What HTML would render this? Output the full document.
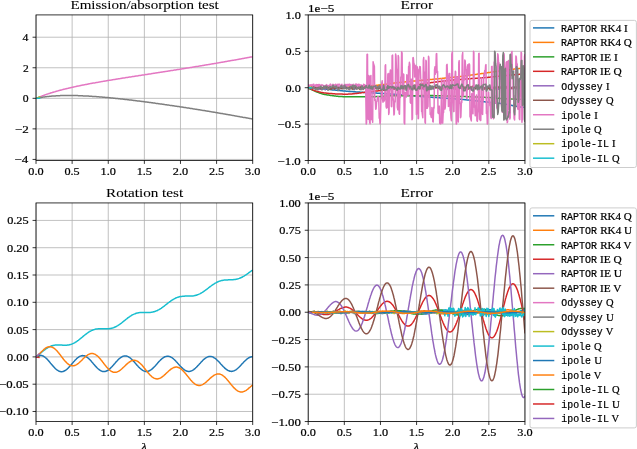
<!DOCTYPE html>
<html><head><meta charset="utf-8"><title>Figure</title>
<style>html,body{margin:0;padding:0;background:#fff;overflow:hidden;width:637px;height:449px}svg{display:block;will-change:transform}text{fill:#000;stroke:#000;stroke-width:0.22px}.ti{stroke-width:0.08px}</style>
</head><body><svg width="637" height="449" viewBox="0 0 637 449"><defs><clipPath id="cTL"><rect x="36.02" y="14.92" width="216.68" height="145.53"/></clipPath><clipPath id="cTR"><rect x="308.2" y="14.92" width="216.75" height="145.58"/></clipPath><clipPath id="cBL"><rect x="36.02" y="202.94" width="216.68" height="218.60"/></clipPath><clipPath id="cBR"><rect x="308.2" y="202.94" width="216.75" height="218.60"/></clipPath></defs><rect width="637" height="449" fill="#fff"/>
<line x1="36.02" y1="14.92" x2="36.02" y2="160.45" stroke="#b0b0b0" stroke-width="0.79"/>
<line x1="72.13" y1="14.92" x2="72.13" y2="160.45" stroke="#b0b0b0" stroke-width="0.79"/>
<line x1="108.25" y1="14.92" x2="108.25" y2="160.45" stroke="#b0b0b0" stroke-width="0.79"/>
<line x1="144.36" y1="14.92" x2="144.36" y2="160.45" stroke="#b0b0b0" stroke-width="0.79"/>
<line x1="180.47" y1="14.92" x2="180.47" y2="160.45" stroke="#b0b0b0" stroke-width="0.79"/>
<line x1="216.59" y1="14.92" x2="216.59" y2="160.45" stroke="#b0b0b0" stroke-width="0.79"/>
<line x1="252.70" y1="14.92" x2="252.70" y2="160.45" stroke="#b0b0b0" stroke-width="0.79"/>
<line x1="36.02" y1="159.43" x2="252.70" y2="159.43" stroke="#b0b0b0" stroke-width="0.79"/>
<line x1="36.02" y1="128.87" x2="252.70" y2="128.87" stroke="#b0b0b0" stroke-width="0.79"/>
<line x1="36.02" y1="98.32" x2="252.70" y2="98.32" stroke="#b0b0b0" stroke-width="0.79"/>
<line x1="36.02" y1="67.76" x2="252.70" y2="67.76" stroke="#b0b0b0" stroke-width="0.79"/>
<line x1="36.02" y1="37.21" x2="252.70" y2="37.21" stroke="#b0b0b0" stroke-width="0.79"/>
<polyline points="36.0,98.3 36.6,98.1 37.1,97.9 37.6,97.6 38.2,97.4 38.7,97.2 39.3,97.0 39.8,96.8 40.4,96.6 40.9,96.4 41.4,96.2 42.0,96.0 42.5,95.8 43.1,95.6 43.6,95.4 44.1,95.2 44.7,95.0 45.2,94.8 45.8,94.6 46.3,94.4 46.9,94.2 47.4,94.1 47.9,93.9 48.5,93.7 49.0,93.5 49.6,93.4 50.1,93.2 50.6,93.0 51.2,92.8 51.7,92.7 52.3,92.5 52.8,92.3 53.4,92.2 53.9,92.0 54.4,91.9 55.0,91.7 55.5,91.5 56.1,91.4 56.6,91.2 57.1,91.1 57.7,90.9 58.2,90.8 58.8,90.6 59.3,90.5 59.9,90.3 60.4,90.2 60.9,90.0 61.5,89.9 62.0,89.8 62.6,89.6 63.1,89.5 63.6,89.3 64.2,89.2 64.7,89.1 65.3,88.9 65.8,88.8 66.4,88.7 66.9,88.5 67.4,88.4 68.0,88.3 68.5,88.2 69.1,88.0 69.6,87.9 70.1,87.8 70.7,87.7 71.2,87.5 71.8,87.4 72.3,87.3 72.9,87.2 73.4,87.0 73.9,86.9 74.5,86.8 75.0,86.7 75.6,86.6 76.1,86.5 76.6,86.3 77.2,86.2 77.7,86.1 78.3,86.0 78.8,85.9 79.4,85.8 79.9,85.7 80.4,85.5 81.0,85.4 81.5,85.3 82.1,85.2 82.6,85.1 83.1,85.0 83.7,84.9 84.2,84.8 84.8,84.7 85.3,84.6 85.9,84.5 86.4,84.4 86.9,84.3 87.5,84.2 88.0,84.1 88.6,84.0 89.1,83.8 89.6,83.7 90.2,83.6 90.7,83.5 91.3,83.4 91.8,83.3 92.4,83.2 92.9,83.1 93.4,83.0 94.0,83.0 94.5,82.9 95.1,82.8 95.6,82.7 96.1,82.6 96.7,82.5 97.2,82.4 97.8,82.3 98.3,82.2 98.9,82.1 99.4,82.0 99.9,81.9 100.5,81.8 101.0,81.7 101.6,81.6 102.1,81.5 102.6,81.4 103.2,81.3 103.7,81.2 104.3,81.2 104.8,81.1 105.4,81.0 105.9,80.9 106.4,80.8 107.0,80.7 107.5,80.6 108.1,80.5 108.6,80.4 109.1,80.3 109.7,80.2 110.2,80.2 110.8,80.1 111.3,80.0 111.9,79.9 112.4,79.8 112.9,79.7 113.5,79.6 114.0,79.5 114.6,79.4 115.1,79.4 115.6,79.3 116.2,79.2 116.7,79.1 117.3,79.0 117.8,78.9 118.4,78.8 118.9,78.8 119.4,78.7 120.0,78.6 120.5,78.5 121.1,78.4 121.6,78.3 122.2,78.2 122.7,78.1 123.2,78.1 123.8,78.0 124.3,77.9 124.9,77.8 125.4,77.7 125.9,77.6 126.5,77.6 127.0,77.5 127.6,77.4 128.1,77.3 128.7,77.2 129.2,77.1 129.7,77.0 130.3,77.0 130.8,76.9 131.4,76.8 131.9,76.7 132.4,76.6 133.0,76.5 133.5,76.5 134.1,76.4 134.6,76.3 135.2,76.2 135.7,76.1 136.2,76.0 136.8,75.9 137.3,75.9 137.9,75.8 138.4,75.7 138.9,75.6 139.5,75.5 140.0,75.4 140.6,75.4 141.1,75.3 141.7,75.2 142.2,75.1 142.7,75.0 143.3,74.9 143.8,74.9 144.4,74.8 144.9,74.7 145.4,74.6 146.0,74.5 146.5,74.4 147.1,74.4 147.6,74.3 148.2,74.2 148.7,74.1 149.2,74.0 149.8,73.9 150.3,73.9 150.9,73.8 151.4,73.7 151.9,73.6 152.5,73.5 153.0,73.4 153.6,73.3 154.1,73.3 154.7,73.2 155.2,73.1 155.7,73.0 156.3,72.9 156.8,72.8 157.4,72.8 157.9,72.7 158.4,72.6 159.0,72.5 159.5,72.4 160.1,72.3 160.6,72.3 161.2,72.2 161.7,72.1 162.2,72.0 162.8,71.9 163.3,71.8 163.9,71.7 164.4,71.7 164.9,71.6 165.5,71.5 166.0,71.4 166.6,71.3 167.1,71.2 167.7,71.2 168.2,71.1 168.7,71.0 169.3,70.9 169.8,70.8 170.4,70.7 170.9,70.6 171.4,70.6 172.0,70.5 172.5,70.4 173.1,70.3 173.6,70.2 174.2,70.1 174.7,70.0 175.2,70.0 175.8,69.9 176.3,69.8 176.9,69.7 177.4,69.6 177.9,69.5 178.5,69.4 179.0,69.4 179.6,69.3 180.1,69.2 180.7,69.1 181.2,69.0 181.7,68.9 182.3,68.8 182.8,68.8 183.4,68.7 183.9,68.6 184.4,68.5 185.0,68.4 185.5,68.3 186.1,68.2 186.6,68.1 187.2,68.1 187.7,68.0 188.2,67.9 188.8,67.8 189.3,67.7 189.9,67.6 190.4,67.5 190.9,67.4 191.5,67.4 192.0,67.3 192.6,67.2 193.1,67.1 193.7,67.0 194.2,66.9 194.7,66.8 195.3,66.7 195.8,66.6 196.4,66.6 196.9,66.5 197.4,66.4 198.0,66.3 198.5,66.2 199.1,66.1 199.6,66.0 200.2,65.9 200.7,65.8 201.2,65.7 201.8,65.7 202.3,65.6 202.9,65.5 203.4,65.4 203.9,65.3 204.5,65.2 205.0,65.1 205.6,65.0 206.1,64.9 206.7,64.8 207.2,64.8 207.7,64.7 208.3,64.6 208.8,64.5 209.4,64.4 209.9,64.3 210.4,64.2 211.0,64.1 211.5,64.0 212.1,63.9 212.6,63.8 213.2,63.7 213.7,63.7 214.2,63.6 214.8,63.5 215.3,63.4 215.9,63.3 216.4,63.2 216.9,63.1 217.5,63.0 218.0,62.9 218.6,62.8 219.1,62.7 219.7,62.6 220.2,62.5 220.7,62.4 221.3,62.3 221.8,62.3 222.4,62.2 222.9,62.1 223.4,62.0 224.0,61.9 224.5,61.8 225.1,61.7 225.6,61.6 226.2,61.5 226.7,61.4 227.2,61.3 227.8,61.2 228.3,61.1 228.9,61.0 229.4,60.9 229.9,60.8 230.5,60.7 231.0,60.6 231.6,60.5 232.1,60.4 232.7,60.3 233.2,60.3 233.7,60.2 234.3,60.1 234.8,60.0 235.4,59.9 235.9,59.8 236.4,59.7 237.0,59.6 237.5,59.5 238.1,59.4 238.6,59.3 239.2,59.2 239.7,59.1 240.2,59.0 240.8,58.9 241.3,58.8 241.9,58.7 242.4,58.6 242.9,58.5 243.5,58.4 244.0,58.3 244.6,58.2 245.1,58.1 245.7,58.0 246.2,57.9 246.7,57.8 247.3,57.7 247.8,57.6 248.4,57.5 248.9,57.4 249.4,57.3 250.0,57.2 250.5,57.1 251.1,57.0 251.6,56.9 252.2,56.8 252.7,56.7" fill="none" stroke="#e377c2" stroke-width="1.48" stroke-linejoin="round" clip-path="url(#cTL)"/>
<polyline points="36.0,98.3 36.6,98.2 37.1,98.1 37.6,98.0 38.2,97.9 38.7,97.8 39.3,97.7 39.8,97.6 40.4,97.5 40.9,97.4 41.4,97.4 42.0,97.3 42.5,97.2 43.1,97.1 43.6,97.0 44.1,97.0 44.7,96.9 45.2,96.8 45.8,96.8 46.3,96.7 46.9,96.6 47.4,96.6 47.9,96.5 48.5,96.4 49.0,96.4 49.6,96.3 50.1,96.3 50.6,96.2 51.2,96.2 51.7,96.1 52.3,96.1 52.8,96.1 53.4,96.0 53.9,96.0 54.4,95.9 55.0,95.9 55.5,95.9 56.1,95.8 56.6,95.8 57.1,95.8 57.7,95.8 58.2,95.7 58.8,95.7 59.3,95.7 59.9,95.7 60.4,95.6 60.9,95.6 61.5,95.6 62.0,95.6 62.6,95.6 63.1,95.6 63.6,95.6 64.2,95.5 64.7,95.5 65.3,95.5 65.8,95.5 66.4,95.5 66.9,95.5 67.4,95.5 68.0,95.5 68.5,95.5 69.1,95.5 69.6,95.5 70.1,95.5 70.7,95.5 71.2,95.5 71.8,95.5 72.3,95.5 72.9,95.5 73.4,95.5 73.9,95.6 74.5,95.6 75.0,95.6 75.6,95.6 76.1,95.6 76.6,95.6 77.2,95.6 77.7,95.6 78.3,95.7 78.8,95.7 79.4,95.7 79.9,95.7 80.4,95.7 81.0,95.8 81.5,95.8 82.1,95.8 82.6,95.8 83.1,95.9 83.7,95.9 84.2,95.9 84.8,95.9 85.3,96.0 85.9,96.0 86.4,96.0 86.9,96.0 87.5,96.1 88.0,96.1 88.6,96.1 89.1,96.2 89.6,96.2 90.2,96.2 90.7,96.3 91.3,96.3 91.8,96.3 92.4,96.4 92.9,96.4 93.4,96.4 94.0,96.5 94.5,96.5 95.1,96.6 95.6,96.6 96.1,96.6 96.7,96.7 97.2,96.7 97.8,96.8 98.3,96.8 98.9,96.8 99.4,96.9 99.9,96.9 100.5,97.0 101.0,97.0 101.6,97.1 102.1,97.1 102.6,97.2 103.2,97.2 103.7,97.3 104.3,97.3 104.8,97.3 105.4,97.4 105.9,97.4 106.4,97.5 107.0,97.5 107.5,97.6 108.1,97.6 108.6,97.7 109.1,97.7 109.7,97.8 110.2,97.8 110.8,97.9 111.3,98.0 111.9,98.0 112.4,98.1 112.9,98.1 113.5,98.2 114.0,98.2 114.6,98.3 115.1,98.3 115.6,98.4 116.2,98.4 116.7,98.5 117.3,98.6 117.8,98.6 118.4,98.7 118.9,98.7 119.4,98.8 120.0,98.8 120.5,98.9 121.1,99.0 121.6,99.0 122.2,99.1 122.7,99.1 123.2,99.2 123.8,99.3 124.3,99.3 124.9,99.4 125.4,99.4 125.9,99.5 126.5,99.6 127.0,99.6 127.6,99.7 128.1,99.8 128.7,99.8 129.2,99.9 129.7,100.0 130.3,100.0 130.8,100.1 131.4,100.1 131.9,100.2 132.4,100.3 133.0,100.3 133.5,100.4 134.1,100.5 134.6,100.5 135.2,100.6 135.7,100.7 136.2,100.7 136.8,100.8 137.3,100.9 137.9,100.9 138.4,101.0 138.9,101.1 139.5,101.1 140.0,101.2 140.6,101.3 141.1,101.3 141.7,101.4 142.2,101.5 142.7,101.6 143.3,101.6 143.8,101.7 144.4,101.8 144.9,101.8 145.4,101.9 146.0,102.0 146.5,102.0 147.1,102.1 147.6,102.2 148.2,102.3 148.7,102.3 149.2,102.4 149.8,102.5 150.3,102.6 150.9,102.6 151.4,102.7 151.9,102.8 152.5,102.8 153.0,102.9 153.6,103.0 154.1,103.1 154.7,103.1 155.2,103.2 155.7,103.3 156.3,103.4 156.8,103.4 157.4,103.5 157.9,103.6 158.4,103.7 159.0,103.7 159.5,103.8 160.1,103.9 160.6,104.0 161.2,104.0 161.7,104.1 162.2,104.2 162.8,104.3 163.3,104.3 163.9,104.4 164.4,104.5 164.9,104.6 165.5,104.7 166.0,104.7 166.6,104.8 167.1,104.9 167.7,105.0 168.2,105.0 168.7,105.1 169.3,105.2 169.8,105.3 170.4,105.4 170.9,105.4 171.4,105.5 172.0,105.6 172.5,105.7 173.1,105.8 173.6,105.8 174.2,105.9 174.7,106.0 175.2,106.1 175.8,106.2 176.3,106.2 176.9,106.3 177.4,106.4 177.9,106.5 178.5,106.6 179.0,106.6 179.6,106.7 180.1,106.8 180.7,106.9 181.2,107.0 181.7,107.1 182.3,107.1 182.8,107.2 183.4,107.3 183.9,107.4 184.4,107.5 185.0,107.6 185.5,107.6 186.1,107.7 186.6,107.8 187.2,107.9 187.7,108.0 188.2,108.1 188.8,108.1 189.3,108.2 189.9,108.3 190.4,108.4 190.9,108.5 191.5,108.6 192.0,108.6 192.6,108.7 193.1,108.8 193.7,108.9 194.2,109.0 194.7,109.1 195.3,109.2 195.8,109.2 196.4,109.3 196.9,109.4 197.4,109.5 198.0,109.6 198.5,109.7 199.1,109.8 199.6,109.8 200.2,109.9 200.7,110.0 201.2,110.1 201.8,110.2 202.3,110.3 202.9,110.4 203.4,110.5 203.9,110.6 204.5,110.6 205.0,110.7 205.6,110.8 206.1,110.9 206.7,111.0 207.2,111.1 207.7,111.2 208.3,111.3 208.8,111.3 209.4,111.4 209.9,111.5 210.4,111.6 211.0,111.7 211.5,111.8 212.1,111.9 212.6,112.0 213.2,112.1 213.7,112.2 214.2,112.3 214.8,112.3 215.3,112.4 215.9,112.5 216.4,112.6 216.9,112.7 217.5,112.8 218.0,112.9 218.6,113.0 219.1,113.1 219.7,113.2 220.2,113.3 220.7,113.4 221.3,113.4 221.8,113.5 222.4,113.6 222.9,113.7 223.4,113.8 224.0,113.9 224.5,114.0 225.1,114.1 225.6,114.2 226.2,114.3 226.7,114.4 227.2,114.5 227.8,114.6 228.3,114.7 228.9,114.8 229.4,114.8 229.9,114.9 230.5,115.0 231.0,115.1 231.6,115.2 232.1,115.3 232.7,115.4 233.2,115.5 233.7,115.6 234.3,115.7 234.8,115.8 235.4,115.9 235.9,116.0 236.4,116.1 237.0,116.2 237.5,116.3 238.1,116.4 238.6,116.5 239.2,116.6 239.7,116.7 240.2,116.8 240.8,116.9 241.3,117.0 241.9,117.1 242.4,117.2 242.9,117.3 243.5,117.4 244.0,117.5 244.6,117.6 245.1,117.6 245.7,117.7 246.2,117.8 246.7,117.9 247.3,118.0 247.8,118.1 248.4,118.2 248.9,118.3 249.4,118.4 250.0,118.5 250.5,118.6 251.1,118.7 251.6,118.8 252.2,118.9 252.7,119.0" fill="none" stroke="#7f7f7f" stroke-width="1.48" stroke-linejoin="round" clip-path="url(#cTL)"/>
<polyline points="36.0,98.3 36.6,98.1 37.1,97.9 37.6,97.6 38.2,97.4 38.7,97.2 39.3,97.0 39.8,96.8 40.4,96.6" fill="none" stroke="#bcbd22" stroke-width="1.48" stroke-linejoin="round" clip-path="url(#cTL)"/>
<polyline points="36.0,98.3 36.6,98.3 37.1,98.3 37.6,98.3 38.2,98.2 38.7,98.2 39.3,98.2 39.8,98.2 40.4,98.2" fill="none" stroke="#17becf" stroke-width="1.48" stroke-linejoin="round" clip-path="url(#cTL)"/>
<rect x="36.02" y="14.92" width="216.68" height="145.53" fill="none" stroke="#000" stroke-width="0.79"/>
<line x1="36.02" y1="160.45" x2="36.02" y2="163.90" stroke="#000" stroke-width="0.79"/>
<text x="28.37" y="174.96" font-family="Liberation Serif" font-size="11.33" textLength="15.30" lengthAdjust="spacingAndGlyphs">0.0</text>
<line x1="72.13" y1="160.45" x2="72.13" y2="163.90" stroke="#000" stroke-width="0.79"/>
<text x="64.48" y="174.96" font-family="Liberation Serif" font-size="11.33" textLength="15.23" lengthAdjust="spacingAndGlyphs">0.5</text>
<line x1="108.25" y1="160.45" x2="108.25" y2="163.90" stroke="#000" stroke-width="0.79"/>
<text x="100.55" y="174.96" font-family="Liberation Serif" font-size="11.33" textLength="15.35" lengthAdjust="spacingAndGlyphs">1.0</text>
<line x1="144.36" y1="160.45" x2="144.36" y2="163.90" stroke="#000" stroke-width="0.79"/>
<text x="136.66" y="174.96" font-family="Liberation Serif" font-size="11.33" textLength="15.27" lengthAdjust="spacingAndGlyphs">1.5</text>
<line x1="180.47" y1="160.45" x2="180.47" y2="163.90" stroke="#000" stroke-width="0.79"/>
<text x="172.78" y="174.96" font-family="Liberation Serif" font-size="11.33" textLength="15.34" lengthAdjust="spacingAndGlyphs">2.0</text>
<line x1="216.59" y1="160.45" x2="216.59" y2="163.90" stroke="#000" stroke-width="0.79"/>
<text x="208.90" y="174.96" font-family="Liberation Serif" font-size="11.33" textLength="15.27" lengthAdjust="spacingAndGlyphs">2.5</text>
<line x1="252.70" y1="160.45" x2="252.70" y2="163.90" stroke="#000" stroke-width="0.79"/>
<text x="245.02" y="174.96" font-family="Liberation Serif" font-size="11.33" textLength="15.32" lengthAdjust="spacingAndGlyphs">3.0</text>
<line x1="32.57" y1="159.43" x2="36.02" y2="159.43" stroke="#000" stroke-width="0.79"/>
<text x="14.54" y="163.43" font-family="Liberation Serif" font-size="11.33" textLength="13.81" lengthAdjust="spacingAndGlyphs">−4</text>
<line x1="32.57" y1="128.87" x2="36.02" y2="128.87" stroke="#000" stroke-width="0.79"/>
<text x="15.01" y="132.87" font-family="Liberation Serif" font-size="11.33" textLength="13.86" lengthAdjust="spacingAndGlyphs">−2</text>
<line x1="32.57" y1="98.32" x2="36.02" y2="98.32" stroke="#000" stroke-width="0.79"/>
<text x="22.76" y="102.32" font-family="Liberation Serif" font-size="11.33" textLength="5.85" lengthAdjust="spacingAndGlyphs">0</text>
<line x1="32.57" y1="67.76" x2="36.02" y2="67.76" stroke="#000" stroke-width="0.79"/>
<text x="23.05" y="71.76" font-family="Liberation Serif" font-size="11.33" textLength="5.75" lengthAdjust="spacingAndGlyphs">2</text>
<line x1="32.57" y1="37.21" x2="36.02" y2="37.21" stroke="#000" stroke-width="0.79"/>
<text x="22.47" y="41.21" font-family="Liberation Serif" font-size="11.33" textLength="5.88" lengthAdjust="spacingAndGlyphs">4</text>
<line x1="308.20" y1="14.92" x2="308.20" y2="160.50" stroke="#b0b0b0" stroke-width="0.79"/>
<line x1="344.32" y1="14.92" x2="344.32" y2="160.50" stroke="#b0b0b0" stroke-width="0.79"/>
<line x1="380.45" y1="14.92" x2="380.45" y2="160.50" stroke="#b0b0b0" stroke-width="0.79"/>
<line x1="416.58" y1="14.92" x2="416.58" y2="160.50" stroke="#b0b0b0" stroke-width="0.79"/>
<line x1="452.70" y1="14.92" x2="452.70" y2="160.50" stroke="#b0b0b0" stroke-width="0.79"/>
<line x1="488.83" y1="14.92" x2="488.83" y2="160.50" stroke="#b0b0b0" stroke-width="0.79"/>
<line x1="524.95" y1="14.92" x2="524.95" y2="160.50" stroke="#b0b0b0" stroke-width="0.79"/>
<line x1="308.20" y1="160.50" x2="524.95" y2="160.50" stroke="#b0b0b0" stroke-width="0.79"/>
<line x1="308.20" y1="124.10" x2="524.95" y2="124.10" stroke="#b0b0b0" stroke-width="0.79"/>
<line x1="308.20" y1="87.71" x2="524.95" y2="87.71" stroke="#b0b0b0" stroke-width="0.79"/>
<line x1="308.20" y1="51.31" x2="524.95" y2="51.31" stroke="#b0b0b0" stroke-width="0.79"/>
<line x1="308.20" y1="14.92" x2="524.95" y2="14.92" stroke="#b0b0b0" stroke-width="0.79"/>
<polyline points="308.2,87.7 308.7,87.8 309.3,87.8 309.8,87.8 310.4,87.9 310.9,87.9 311.5,88.0 312.0,88.0 312.5,88.1 313.1,88.1 313.6,88.1 314.2,88.2 314.7,88.2 315.2,88.3 315.8,88.3 316.3,88.4 316.9,88.4 317.4,88.5 318.0,88.5 318.5,88.5 319.0,88.6 319.6,88.6 320.1,88.7 320.7,88.7 321.2,88.8 321.7,88.8 322.3,88.9 322.8,88.9 323.4,89.0 323.9,89.0 324.5,89.1 325.0,89.1 325.5,89.2 326.1,89.2 326.6,89.3 327.2,89.3 327.7,89.4 328.2,89.4 328.8,89.5 329.3,89.5 329.9,89.6 330.4,89.6 331.0,89.7 331.5,89.7 332.0,89.8 332.6,89.9 333.1,89.9 333.7,90.0 334.2,90.0 334.8,90.1 335.3,90.1 335.8,90.2 336.4,90.2 336.9,90.3 337.5,90.4 338.0,90.4 338.5,90.5 339.1,90.5 339.6,90.6 340.2,90.6 340.7,90.7 341.3,90.7 341.8,90.8 342.3,90.8 342.9,90.9 343.4,90.9 344.0,91.0 344.5,91.0 345.0,91.1 345.6,91.1 346.1,91.2 346.7,91.2 347.2,91.2 347.8,91.3 348.3,91.3 348.8,91.4 349.4,91.4 349.9,91.4 350.5,91.5 351.0,91.5 351.6,91.6 352.1,91.6 352.6,91.6 353.2,91.7 353.7,91.7 354.3,91.8 354.8,91.8 355.3,91.8 355.9,91.9 356.4,91.9 357.0,91.9 357.5,92.0 358.1,92.0 358.6,92.0 359.1,92.1 359.7,92.1 360.2,92.2 360.8,92.2 361.3,92.2 361.8,92.3 362.4,92.3 362.9,92.3 363.5,92.4 364.0,92.4 364.6,92.4 365.1,92.5 365.6,92.5 366.2,92.5 366.7,92.6 367.3,92.6 367.8,92.6 368.3,92.7 368.9,92.7 369.4,92.7 370.0,92.8 370.5,92.8 371.1,92.8 371.6,92.8 372.1,92.9 372.7,92.9 373.2,92.9 373.8,93.0 374.3,93.0 374.9,93.0 375.4,93.1 375.9,93.1 376.5,93.1 377.0,93.2 377.6,93.2 378.1,93.2 378.6,93.3 379.2,93.3 379.7,93.3 380.3,93.4 380.8,93.4 381.4,93.4 381.9,93.5 382.4,93.5 383.0,93.5 383.5,93.6 384.1,93.6 384.6,93.6 385.1,93.7 385.7,93.7 386.2,93.7 386.8,93.8 387.3,93.8 387.9,93.8 388.4,93.9 388.9,93.9 389.5,93.9 390.0,94.0 390.6,94.0 391.1,94.0 391.6,94.1 392.2,94.1 392.7,94.1 393.3,94.2 393.8,94.2 394.4,94.2 394.9,94.3 395.4,94.3 396.0,94.3 396.5,94.4 397.1,94.4 397.6,94.5 398.2,94.5 398.7,94.5 399.2,94.6 399.8,94.6 400.3,94.7 400.9,94.7 401.4,94.7 401.9,94.8 402.5,94.8 403.0,94.9 403.6,94.9 404.1,95.0 404.7,95.0 405.2,95.1 405.7,95.1 406.3,95.1 406.8,95.2 407.4,95.2 407.9,95.3 408.4,95.3 409.0,95.4 409.5,95.4 410.1,95.5 410.6,95.5 411.2,95.6 411.7,95.6 412.2,95.7 412.8,95.7 413.3,95.8 413.9,95.8 414.4,95.9 414.9,95.9 415.5,95.9 416.0,96.0 416.6,96.0 417.1,96.1 417.7,96.1 418.2,96.2 418.7,96.2 419.3,96.3 419.8,96.3 420.4,96.4 420.9,96.4 421.5,96.5 422.0,96.5 422.5,96.6 423.1,96.6 423.6,96.7 424.2,96.7 424.7,96.7 425.2,96.8 425.8,96.8 426.3,96.9 426.9,96.9 427.4,97.0 428.0,97.0 428.5,97.1 429.0,97.1 429.6,97.1 430.1,97.2 430.7,97.2 431.2,97.3 431.7,97.3 432.3,97.3 432.8,97.4 433.4,97.4 433.9,97.5 434.5,97.5 435.0,97.5 435.5,97.6 436.1,97.6 436.6,97.6 437.2,97.7 437.7,97.7 438.2,97.7 438.8,97.8 439.3,97.8 439.9,97.8 440.4,97.9 441.0,97.9 441.5,97.9 442.0,98.0 442.6,98.0 443.1,98.1 443.7,98.1 444.2,98.1 444.8,98.2 445.3,98.2 445.8,98.2 446.4,98.3 446.9,98.3 447.5,98.3 448.0,98.4 448.5,98.4 449.1,98.4 449.6,98.5 450.2,98.5 450.7,98.5 451.3,98.6 451.8,98.6 452.3,98.6 452.9,98.7 453.4,98.7 454.0,98.8 454.5,98.8 455.0,98.8 455.6,98.9 456.1,98.9 456.7,99.0 457.2,99.0 457.8,99.0 458.3,99.1 458.8,99.1 459.4,99.2 459.9,99.2 460.5,99.3 461.0,99.3 461.6,99.3 462.1,99.4 462.6,99.4 463.2,99.5 463.7,99.5 464.3,99.6 464.8,99.7 465.3,99.7 465.9,99.8 466.4,99.8 467.0,99.9 467.5,99.9 468.1,100.0 468.6,100.0 469.1,100.1 469.7,100.2 470.2,100.2 470.8,100.3 471.3,100.3 471.8,100.4 472.4,100.4 472.9,100.5 473.5,100.6 474.0,100.6 474.6,100.7 475.1,100.7 475.6,100.8 476.2,100.9 476.7,100.9 477.3,101.0 477.8,101.1 478.3,101.1 478.9,101.2 479.4,101.2 480.0,101.3 480.5,101.4 481.1,101.4 481.6,101.5 482.1,101.5 482.7,101.6 483.2,101.7 483.8,101.7 484.3,101.8 484.9,101.8 485.4,101.9 485.9,102.0 486.5,102.0 487.0,102.1 487.6,102.1 488.1,102.2 488.6,102.2 489.2,102.3 489.7,102.4 490.3,102.4 490.8,102.5 491.4,102.5 491.9,102.6 492.4,102.6 493.0,102.7 493.5,102.7 494.1,102.8 494.6,102.8 495.1,102.9 495.7,102.9 496.2,103.0 496.8,103.0 497.3,103.1 497.9,103.1 498.4,103.2 498.9,103.2 499.5,103.3 500.0,103.3 500.6,103.4 501.1,103.5 501.6,103.5 502.2,103.6 502.7,103.7 503.3,103.7 503.8,103.8 504.4,103.9 504.9,104.0 505.4,104.1 506.0,104.2 506.5,104.3 507.1,104.4 507.6,104.5 508.2,104.6 508.7,104.7 509.2,104.8 509.8,104.9 510.3,105.0 510.9,105.2 511.4,105.3 511.9,105.4 512.5,105.5 513.0,105.7 513.6,105.8 514.1,105.9 514.7,106.0 515.2,106.1 515.7,106.2 516.3,106.3 516.8,106.4 517.4,106.5 517.9,106.6 518.4,106.7 519.0,106.8 519.5,106.9 520.1,106.9 520.6,107.0 521.2,107.1 521.7,107.1 522.2,107.2 522.8,107.2 523.3,107.2 523.9,107.3 524.4,107.3 525.0,107.4" fill="none" stroke="#1f77b4" stroke-width="1.48" stroke-linejoin="round" clip-path="url(#cTR)"/>
<polyline points="308.2,87.7 308.7,87.7 309.3,87.7 309.8,87.7 310.4,87.7 310.9,87.7 311.5,87.7 312.0,87.7 312.5,87.7 313.1,87.7 313.6,87.7 314.2,87.7 314.7,87.7 315.2,87.7 315.8,87.7 316.3,87.7 316.9,87.7 317.4,87.7 318.0,87.7 318.5,87.7 319.0,87.7 319.6,87.7 320.1,87.7 320.7,87.7 321.2,87.7 321.7,87.7 322.3,87.7 322.8,87.7 323.4,87.7 323.9,87.7 324.5,87.7 325.0,87.7 325.5,87.7 326.1,87.7 326.6,87.7 327.2,87.7 327.7,87.7 328.2,87.7 328.8,87.7 329.3,87.7 329.9,87.7 330.4,87.7 331.0,87.7 331.5,87.7 332.0,87.7 332.6,87.7 333.1,87.7 333.7,87.7 334.2,87.7 334.8,87.7 335.3,87.7 335.8,87.6 336.4,87.6 336.9,87.6 337.5,87.6 338.0,87.6 338.5,87.6 339.1,87.6 339.6,87.5 340.2,87.5 340.7,87.5 341.3,87.5 341.8,87.5 342.3,87.4 342.9,87.4 343.4,87.4 344.0,87.4 344.5,87.3 345.0,87.3 345.6,87.3 346.1,87.3 346.7,87.2 347.2,87.2 347.8,87.2 348.3,87.2 348.8,87.1 349.4,87.1 349.9,87.1 350.5,87.0 351.0,87.0 351.6,87.0 352.1,86.9 352.6,86.9 353.2,86.9 353.7,86.8 354.3,86.8 354.8,86.8 355.3,86.8 355.9,86.7 356.4,86.7 357.0,86.7 357.5,86.6 358.1,86.6 358.6,86.6 359.1,86.5 359.7,86.5 360.2,86.5 360.8,86.4 361.3,86.4 361.8,86.4 362.4,86.3 362.9,86.3 363.5,86.3 364.0,86.2 364.6,86.2 365.1,86.2 365.6,86.1 366.2,86.1 366.7,86.1 367.3,86.0 367.8,86.0 368.3,86.0 368.9,85.9 369.4,85.9 370.0,85.9 370.5,85.8 371.1,85.8 371.6,85.7 372.1,85.7 372.7,85.6 373.2,85.6 373.8,85.6 374.3,85.5 374.9,85.5 375.4,85.4 375.9,85.4 376.5,85.3 377.0,85.3 377.6,85.2 378.1,85.2 378.6,85.1 379.2,85.1 379.7,85.0 380.3,85.0 380.8,84.9 381.4,84.8 381.9,84.8 382.4,84.7 383.0,84.6 383.5,84.6 384.1,84.5 384.6,84.4 385.1,84.3 385.7,84.3 386.2,84.2 386.8,84.1 387.3,84.0 387.9,83.9 388.4,83.9 388.9,83.8 389.5,83.7 390.0,83.6 390.6,83.5 391.1,83.5 391.6,83.4 392.2,83.3 392.7,83.2 393.3,83.2 393.8,83.1 394.4,83.0 394.9,83.0 395.4,82.9 396.0,82.9 396.5,82.8 397.1,82.7 397.6,82.7 398.2,82.6 398.7,82.6 399.2,82.5 399.8,82.4 400.3,82.4 400.9,82.3 401.4,82.3 401.9,82.2 402.5,82.2 403.0,82.1 403.6,82.1 404.1,82.0 404.7,82.0 405.2,81.9 405.7,81.8 406.3,81.8 406.8,81.7 407.4,81.7 407.9,81.6 408.4,81.6 409.0,81.5 409.5,81.5 410.1,81.4 410.6,81.4 411.2,81.3 411.7,81.3 412.2,81.2 412.8,81.2 413.3,81.1 413.9,81.1 414.4,81.0 414.9,81.0 415.5,80.9 416.0,80.9 416.6,80.8 417.1,80.8 417.7,80.7 418.2,80.7 418.7,80.6 419.3,80.6 419.8,80.5 420.4,80.5 420.9,80.4 421.5,80.4 422.0,80.3 422.5,80.3 423.1,80.2 423.6,80.2 424.2,80.1 424.7,80.1 425.2,80.0 425.8,80.0 426.3,79.9 426.9,79.9 427.4,79.8 428.0,79.8 428.5,79.7 429.0,79.7 429.6,79.6 430.1,79.6 430.7,79.5 431.2,79.5 431.7,79.4 432.3,79.4 432.8,79.3 433.4,79.3 433.9,79.2 434.5,79.1 435.0,79.1 435.5,79.0 436.1,79.0 436.6,78.9 437.2,78.9 437.7,78.8 438.2,78.8 438.8,78.7 439.3,78.7 439.9,78.6 440.4,78.6 441.0,78.5 441.5,78.4 442.0,78.4 442.6,78.3 443.1,78.3 443.7,78.2 444.2,78.2 444.8,78.1 445.3,78.1 445.8,78.0 446.4,78.0 446.9,77.9 447.5,77.8 448.0,77.8 448.5,77.7 449.1,77.7 449.6,77.6 450.2,77.6 450.7,77.5 451.3,77.4 451.8,77.4 452.3,77.3 452.9,77.3 453.4,77.2 454.0,77.2 454.5,77.1 455.0,77.0 455.6,77.0 456.1,76.9 456.7,76.9 457.2,76.8 457.8,76.7 458.3,76.7 458.8,76.6 459.4,76.6 459.9,76.5 460.5,76.4 461.0,76.4 461.6,76.3 462.1,76.2 462.6,76.2 463.2,76.1 463.7,76.0 464.3,76.0 464.8,75.9 465.3,75.8 465.9,75.8 466.4,75.7 467.0,75.6 467.5,75.6 468.1,75.5 468.6,75.4 469.1,75.4 469.7,75.3 470.2,75.2 470.8,75.1 471.3,75.1 471.8,75.0 472.4,74.9 472.9,74.8 473.5,74.8 474.0,74.7 474.6,74.6 475.1,74.5 475.6,74.5 476.2,74.4 476.7,74.3 477.3,74.2 477.8,74.1 478.3,74.1 478.9,74.0 479.4,73.9 480.0,73.8 480.5,73.8 481.1,73.7 481.6,73.6 482.1,73.5 482.7,73.4 483.2,73.4 483.8,73.3 484.3,73.2 484.9,73.1 485.4,73.0 485.9,73.0 486.5,72.9 487.0,72.8 487.6,72.7 488.1,72.6 488.6,72.6 489.2,72.5 489.7,72.4 490.3,72.3 490.8,72.2 491.4,72.2 491.9,72.1 492.4,72.0 493.0,71.9 493.5,71.8 494.1,71.8 494.6,71.7 495.1,71.6 495.7,71.5 496.2,71.5 496.8,71.4 497.3,71.3 497.9,71.2 498.4,71.1 498.9,71.1 499.5,71.0 500.0,70.9 500.6,70.8 501.1,70.8 501.6,70.7 502.2,70.6 502.7,70.5 503.3,70.5 503.8,70.4 504.4,70.3 504.9,70.3 505.4,70.2 506.0,70.1 506.5,70.0 507.1,70.0 507.6,69.9 508.2,69.8 508.7,69.8 509.2,69.7 509.8,69.6 510.3,69.6 510.9,69.5 511.4,69.4 511.9,69.4 512.5,69.3 513.0,69.2 513.6,69.2 514.1,69.1 514.7,69.0 515.2,69.0 515.7,68.9 516.3,68.9 516.8,68.8 517.4,68.8 517.9,68.7 518.4,68.6 519.0,68.6 519.5,68.5 520.1,68.5 520.6,68.4 521.2,68.4 521.7,68.3 522.2,68.3 522.8,68.2 523.3,68.2 523.9,68.1 524.4,68.1 525.0,68.1" fill="none" stroke="#ff7f0e" stroke-width="1.48" stroke-linejoin="round" clip-path="url(#cTR)"/>
<polyline points="308.2,87.7 308.7,88.0 309.3,88.3 309.8,88.7 310.4,89.0 310.9,89.3 311.5,89.6 312.0,89.8 312.5,90.1 313.1,90.4 313.6,90.6 314.2,90.9 314.7,91.1 315.2,91.3 315.8,91.6 316.3,91.8 316.9,92.0 317.4,92.2 318.0,92.4 318.5,92.6 319.0,92.8 319.6,93.0 320.1,93.2 320.7,93.4 321.2,93.6 321.7,93.7 322.3,93.9 322.8,94.0 323.4,94.2 323.9,94.3 324.5,94.4 325.0,94.5 325.5,94.6 326.1,94.7 326.6,94.8 327.2,94.9 327.7,95.0 328.2,95.1 328.8,95.1 329.3,95.2 329.9,95.3 330.4,95.4 331.0,95.5 331.5,95.6 332.0,95.6 332.6,95.7 333.1,95.8 333.7,95.8 334.2,95.9 334.8,96.0 335.3,96.0 335.8,96.1 336.4,96.2 336.9,96.2 337.5,96.3 338.0,96.3 338.5,96.4 339.1,96.4 339.6,96.5 340.2,96.5 340.7,96.5 341.3,96.6 341.8,96.6 342.3,96.6 342.9,96.7 343.4,96.7 344.0,96.7 344.5,96.7 345.0,96.7 345.6,96.7 346.1,96.7 346.7,96.7 347.2,96.7 347.8,96.7 348.3,96.8 348.8,96.8 349.4,96.8 349.9,96.8 350.5,96.8 351.0,96.8 351.6,96.8 352.1,96.8 352.6,96.8 353.2,96.8 353.7,96.8 354.3,96.8 354.8,96.8 355.3,96.8 355.9,96.8 356.4,96.8 357.0,96.8 357.5,96.8 358.1,96.8 358.6,96.8 359.1,96.8 359.7,96.8 360.2,96.8 360.8,96.8 361.3,96.8 361.8,96.8 362.4,96.8 362.9,96.8 363.5,96.8 364.0,96.8 364.6,96.8 365.1,96.8 365.6,96.8 366.2,96.8 366.7,96.8 367.3,96.8 367.8,96.8 368.3,96.8 368.9,96.8 369.4,96.8 370.0,96.8 370.5,96.8 371.1,96.8 371.6,96.8 372.1,96.8 372.7,96.8 373.2,96.8 373.8,96.7 374.3,96.7 374.9,96.7 375.4,96.7 375.9,96.6 376.5,96.6 377.0,96.6 377.6,96.6 378.1,96.5 378.6,96.5 379.2,96.5 379.7,96.4 380.3,96.4 380.8,96.4 381.4,96.3 381.9,96.3 382.4,96.3 383.0,96.2 383.5,96.2 384.1,96.2 384.6,96.1 385.1,96.1 385.7,96.1 386.2,96.0 386.8,96.0 387.3,96.0 387.9,95.9 388.4,95.9 388.9,95.9 389.5,95.9 390.0,95.8 390.6,95.8 391.1,95.8 391.6,95.8 392.2,95.8 392.7,95.7 393.3,95.7 393.8,95.7 394.4,95.7 394.9,95.7 395.4,95.7 396.0,95.7 396.5,95.7 397.1,95.7 397.6,95.7 398.2,95.7 398.7,95.7 399.2,95.7 399.8,95.7 400.3,95.7 400.9,95.7 401.4,95.7 401.9,95.7 402.5,95.7 403.0,95.7 403.6,95.7 404.1,95.7 404.7,95.7 405.2,95.7 405.7,95.7 406.3,95.7 406.8,95.7 407.4,95.7 407.9,95.7 408.4,95.7 409.0,95.7 409.5,95.7 410.1,95.7 410.6,95.7 411.2,95.7 411.7,95.7 412.2,95.7 412.8,95.7 413.3,95.7 413.9,95.7 414.4,95.7 414.9,95.7 415.5,95.7 416.0,95.7 416.6,95.7 417.1,95.7 417.7,95.7 418.2,95.7 418.7,95.7 419.3,95.7 419.8,95.7 420.4,95.7 420.9,95.6 421.5,95.6 422.0,95.6 422.5,95.6 423.1,95.6 423.6,95.6 424.2,95.6 424.7,95.6 425.2,95.6 425.8,95.6 426.3,95.6 426.9,95.6 427.4,95.6 428.0,95.6 428.5,95.6 429.0,95.6 429.6,95.6 430.1,95.6 430.7,95.6 431.2,95.6 431.7,95.6 432.3,95.6 432.8,95.6 433.4,95.7 433.9,95.7 434.5,95.7 435.0,95.7 435.5,95.7 436.1,95.7 436.6,95.7 437.2,95.7 437.7,95.7 438.2,95.7 438.8,95.7 439.3,95.8 439.9,95.8 440.4,95.8 441.0,95.8 441.5,95.8 442.0,95.8 442.6,95.8 443.1,95.9 443.7,95.9 444.2,95.9 444.8,95.9 445.3,95.9 445.8,95.9 446.4,96.0 446.9,96.0 447.5,96.0 448.0,96.0 448.5,96.0 449.1,96.1 449.6,96.1 450.2,96.1 450.7,96.1 451.3,96.1 451.8,96.2 452.3,96.2 452.9,96.2 453.4,96.2 454.0,96.2 454.5,96.3 455.0,96.3 455.6,96.3 456.1,96.3 456.7,96.3 457.2,96.4 457.8,96.4 458.3,96.4 458.8,96.4 459.4,96.4 459.9,96.4 460.5,96.5 461.0,96.5 461.6,96.5 462.1,96.5 462.6,96.5 463.2,96.5 463.7,96.6 464.3,96.6 464.8,96.6 465.3,96.6 465.9,96.6 466.4,96.7 467.0,96.7 467.5,96.7 468.1,96.7 468.6,96.7 469.1,96.7 469.7,96.8 470.2,96.8 470.8,96.8 471.3,96.8 471.8,96.8 472.4,96.8 472.9,96.9 473.5,96.9 474.0,96.9 474.6,96.9 475.1,96.9 475.6,97.0 476.2,97.0 476.7,97.0 477.3,97.0 477.8,97.0 478.3,97.1 478.9,97.1 479.4,97.1 480.0,97.1 480.5,97.2 481.1,97.2 481.6,97.2 482.1,97.2 482.7,97.2 483.2,97.3 483.8,97.3 484.3,97.3 484.9,97.3 485.4,97.4 485.9,97.4 486.5,97.4 487.0,97.4 487.6,97.5 488.1,97.5 488.6,97.5 489.2,97.6 489.7,97.6 490.3,97.6 490.8,97.7 491.4,97.7 491.9,97.7 492.4,97.8 493.0,97.8 493.5,97.9 494.1,97.9 494.6,98.0 495.1,98.0 495.7,98.1 496.2,98.1 496.8,98.2 497.3,98.2 497.9,98.2 498.4,98.3 498.9,98.3 499.5,98.4 500.0,98.4 500.6,98.5 501.1,98.5 501.6,98.5 502.2,98.6 502.7,98.6 503.3,98.6 503.8,98.7 504.4,98.7 504.9,98.7 505.4,98.7 506.0,98.8 506.5,98.8 507.1,98.8 507.6,98.8 508.2,98.9 508.7,98.9 509.2,98.9 509.8,98.9 510.3,98.9 510.9,99.0 511.4,99.0 511.9,99.0 512.5,99.0 513.0,99.1 513.6,99.1 514.1,99.1 514.7,99.1 515.2,99.1 515.7,99.2 516.3,99.2 516.8,99.2 517.4,99.2 517.9,99.2 518.4,99.2 519.0,99.3 519.5,99.3 520.1,99.3 520.6,99.3 521.2,99.3 521.7,99.3 522.2,99.3 522.8,99.3 523.3,99.3 523.9,99.3 524.4,99.4 525.0,99.4" fill="none" stroke="#2ca02c" stroke-width="1.48" stroke-linejoin="round" clip-path="url(#cTR)"/>
<polyline points="308.2,87.7 308.7,88.0 309.3,88.3 309.8,88.5 310.4,88.8 310.9,89.1 311.5,89.3 312.0,89.6 312.5,89.8 313.1,90.0 313.6,90.2 314.2,90.4 314.7,90.6 315.2,90.8 315.8,90.9 316.3,91.1 316.9,91.3 317.4,91.4 318.0,91.6 318.5,91.7 319.0,91.9 319.6,92.0 320.1,92.1 320.7,92.3 321.2,92.4 321.7,92.5 322.3,92.6 322.8,92.7 323.4,92.8 323.9,92.9 324.5,93.0 325.0,93.0 325.5,93.1 326.1,93.1 326.6,93.2 327.2,93.2 327.7,93.3 328.2,93.3 328.8,93.4 329.3,93.4 329.9,93.5 330.4,93.5 331.0,93.6 331.5,93.6 332.0,93.6 332.6,93.7 333.1,93.7 333.7,93.8 334.2,93.8 334.8,93.8 335.3,93.9 335.8,93.9 336.4,93.9 336.9,93.9 337.5,94.0 338.0,94.0 338.5,94.0 339.1,94.0 339.6,94.1 340.2,94.1 340.7,94.1 341.3,94.1 341.8,94.1 342.3,94.1 342.9,94.2 343.4,94.2 344.0,94.2 344.5,94.2 345.0,94.2 345.6,94.2 346.1,94.2 346.7,94.2 347.2,94.2 347.8,94.2 348.3,94.1 348.8,94.1 349.4,94.1 349.9,94.1 350.5,94.0 351.0,94.0 351.6,93.9 352.1,93.9 352.6,93.8 353.2,93.8 353.7,93.7 354.3,93.7 354.8,93.6 355.3,93.6 355.9,93.5 356.4,93.4 357.0,93.4 357.5,93.3 358.1,93.2 358.6,93.2 359.1,93.1 359.7,93.0 360.2,92.9 360.8,92.9 361.3,92.8 361.8,92.7 362.4,92.6 362.9,92.6 363.5,92.5 364.0,92.4 364.6,92.3 365.1,92.3 365.6,92.2 366.2,92.1 366.7,92.1 367.3,92.0 367.8,91.9 368.3,91.9 368.9,91.8 369.4,91.7 370.0,91.7 370.5,91.6 371.1,91.6 371.6,91.5 372.1,91.4 372.7,91.4 373.2,91.3 373.8,91.3 374.3,91.2 374.9,91.1 375.4,91.1 375.9,91.0 376.5,91.0 377.0,90.9 377.6,90.9 378.1,90.8 378.6,90.7 379.2,90.7 379.7,90.6 380.3,90.6 380.8,90.5 381.4,90.4 381.9,90.4 382.4,90.3 383.0,90.3 383.5,90.2 384.1,90.1 384.6,90.1 385.1,90.0 385.7,90.0 386.2,89.9 386.8,89.8 387.3,89.8 387.9,89.7 388.4,89.6 388.9,89.6 389.5,89.5 390.0,89.4 390.6,89.4 391.1,89.3 391.6,89.2 392.2,89.2 392.7,89.1 393.3,89.0 393.8,88.9 394.4,88.9 394.9,88.8 395.4,88.7 396.0,88.7 396.5,88.6 397.1,88.5 397.6,88.4 398.2,88.3 398.7,88.2 399.2,88.2 399.8,88.1 400.3,88.0 400.9,87.9 401.4,87.8 401.9,87.7 402.5,87.6 403.0,87.5 403.6,87.4 404.1,87.3 404.7,87.2 405.2,87.1 405.7,87.0 406.3,86.9 406.8,86.8 407.4,86.7 407.9,86.6 408.4,86.5 409.0,86.4 409.5,86.3 410.1,86.2 410.6,86.1 411.2,86.0 411.7,85.9 412.2,85.8 412.8,85.7 413.3,85.6 413.9,85.5 414.4,85.4 414.9,85.3 415.5,85.2 416.0,85.1 416.6,85.0 417.1,84.9 417.7,84.8 418.2,84.7 418.7,84.6 419.3,84.5 419.8,84.4 420.4,84.3 420.9,84.2 421.5,84.1 422.0,84.0 422.5,83.9 423.1,83.8 423.6,83.7 424.2,83.6 424.7,83.6 425.2,83.5 425.8,83.4 426.3,83.3 426.9,83.2 427.4,83.1 428.0,83.0 428.5,83.0 429.0,82.9 429.6,82.8 430.1,82.7 430.7,82.7 431.2,82.6 431.7,82.5 432.3,82.4 432.8,82.4 433.4,82.3 433.9,82.2 434.5,82.2 435.0,82.1 435.5,82.0 436.1,82.0 436.6,81.9 437.2,81.8 437.7,81.8 438.2,81.7 438.8,81.6 439.3,81.6 439.9,81.5 440.4,81.5 441.0,81.4 441.5,81.3 442.0,81.3 442.6,81.2 443.1,81.1 443.7,81.1 444.2,81.0 444.8,81.0 445.3,80.9 445.8,80.8 446.4,80.8 446.9,80.7 447.5,80.7 448.0,80.6 448.5,80.6 449.1,80.5 449.6,80.5 450.2,80.4 450.7,80.3 451.3,80.3 451.8,80.2 452.3,80.2 452.9,80.1 453.4,80.1 454.0,80.0 454.5,80.0 455.0,79.9 455.6,79.9 456.1,79.8 456.7,79.8 457.2,79.7 457.8,79.7 458.3,79.6 458.8,79.6 459.4,79.5 459.9,79.5 460.5,79.4 461.0,79.4 461.6,79.3 462.1,79.3 462.6,79.3 463.2,79.2 463.7,79.2 464.3,79.1 464.8,79.1 465.3,79.1 465.9,79.0 466.4,79.0 467.0,78.9 467.5,78.9 468.1,78.9 468.6,78.8 469.1,78.8 469.7,78.7 470.2,78.7 470.8,78.7 471.3,78.6 471.8,78.6 472.4,78.6 472.9,78.5 473.5,78.5 474.0,78.4 474.6,78.4 475.1,78.4 475.6,78.3 476.2,78.3 476.7,78.3 477.3,78.2 477.8,78.2 478.3,78.1 478.9,78.1 479.4,78.1 480.0,78.0 480.5,78.0 481.1,77.9 481.6,77.9 482.1,77.8 482.7,77.8 483.2,77.7 483.8,77.7 484.3,77.7 484.9,77.6 485.4,77.6 485.9,77.5 486.5,77.5 487.0,77.4 487.6,77.4 488.1,77.3 488.6,77.3 489.2,77.2 489.7,77.2 490.3,77.1 490.8,77.0 491.4,77.0 491.9,76.9 492.4,76.9 493.0,76.8 493.5,76.8 494.1,76.7 494.6,76.7 495.1,76.6 495.7,76.6 496.2,76.5 496.8,76.5 497.3,76.4 497.9,76.3 498.4,76.3 498.9,76.2 499.5,76.2 500.0,76.1 500.6,76.1 501.1,76.0 501.6,76.0 502.2,75.9 502.7,75.8 503.3,75.8 503.8,75.7 504.4,75.7 504.9,75.6 505.4,75.6 506.0,75.5 506.5,75.5 507.1,75.4 507.6,75.4 508.2,75.3 508.7,75.2 509.2,75.2 509.8,75.1 510.3,75.1 510.9,75.0 511.4,75.0 511.9,74.9 512.5,74.9 513.0,74.8 513.6,74.8 514.1,74.7 514.7,74.7 515.2,74.6 515.7,74.6 516.3,74.5 516.8,74.5 517.4,74.5 517.9,74.4 518.4,74.4 519.0,74.3 519.5,74.3 520.1,74.2 520.6,74.2 521.2,74.1 521.7,74.1 522.2,74.1 522.8,74.0 523.3,74.0 523.9,74.0 524.4,73.9 525.0,73.9" fill="none" stroke="#d62728" stroke-width="1.48" stroke-linejoin="round" clip-path="url(#cTR)"/>
<polyline points="308.2,87.7 308.9,87.4 309.5,87.9 310.2,88.5 310.8,88.1 311.5,88.6 312.1,87.7 312.8,86.5 313.5,88.1 314.1,88.3 314.8,87.3 315.4,87.4 316.1,87.6 316.7,88.5 317.4,87.7 318.1,87.1 318.7,88.9 319.4,88.1 320.0,89.4 320.7,88.8 321.3,89.3 322.0,87.9 322.6,88.8 323.3,87.5 324.0,87.6 324.6,87.9 325.3,89.9 325.9,88.2 326.6,87.8 327.2,87.6 327.9,89.0 328.6,88.1 329.2,88.6 329.9,88.4 330.5,86.8 331.2,88.4 331.8,87.7 332.5,86.9 333.2,88.2 333.8,87.8 334.5,87.6 335.1,87.7 335.8,88.8 336.4,87.6 337.1,86.5 337.8,89.1 338.4,87.0 339.1,87.6 339.7,88.3 340.4,86.0 341.0,87.0 341.7,88.8 342.4,87.6 343.0,87.2 343.7,87.9 344.3,87.1 345.0,87.8 345.6,87.1 346.3,86.5 347.0,88.3 347.6,87.5 348.3,88.1 348.9,87.6 349.6,88.7 350.2,88.2 350.9,87.9 351.6,86.9 352.2,86.7 352.9,88.9 353.5,88.4 354.2,87.1 354.8,89.5 355.5,88.1 356.1,87.8 356.8,86.6 357.5,87.1 358.1,88.0 358.8,88.0 359.4,87.9 360.1,86.4 360.7,88.1 361.4,88.0 362.1,87.4 362.7,87.8 363.4,87.9 364.0,88.7 364.7,87.7 365.3,88.1 366.0,86.7 366.7,87.1 367.3,87.7 368.0,87.1 368.6,88.0 369.3,86.8 369.9,87.7 370.6,87.2 371.3,88.8 371.9,87.4 372.6,89.2 373.2,89.5 373.9,88.0 374.5,88.5 375.2,87.6 375.9,85.7 376.5,88.4 377.2,88.3 377.8,87.5 378.5,87.3 379.1,87.9 379.8,87.9 380.4,87.1 381.1,87.3 381.8,88.6 382.4,87.8 383.1,87.7 383.7,88.6 384.4,87.5 385.0,88.5 385.7,86.9 386.4,87.5 387.0,87.6 387.7,88.2 388.3,87.8 389.0,89.5 389.6,88.7 390.3,87.4 391.0,89.6 391.6,87.0 392.3,89.2 392.9,87.0 393.6,88.4 394.2,87.0 394.9,87.6 395.6,89.1 396.2,86.6 396.9,86.5 397.5,87.8 398.2,87.9 398.8,87.8 399.5,88.6 400.2,86.8 400.8,88.2 401.5,87.8 402.1,88.4 402.8,88.3 403.4,88.8 404.1,86.6 404.8,87.8 405.4,86.9 406.1,87.7 406.7,88.3 407.4,88.0 408.0,88.2 408.7,87.7 409.4,88.0 410.0,88.0 410.7,88.9 411.3,88.4 412.0,86.3 412.6,88.3 413.3,88.6 413.9,87.4 414.6,86.5 415.3,89.0 415.9,87.9 416.6,88.3 417.2,89.2 417.9,87.1 418.5,87.7 419.2,87.6 419.9,88.4 420.5,87.3 421.2,88.2 421.8,87.8 422.5,88.7 423.1,88.8 423.8,86.5 424.5,88.2 425.1,87.5 425.8,87.7 426.4,88.1 427.1,88.2 427.7,87.2 428.4,88.0 429.1,87.8 429.7,87.7 430.4,86.7 431.0,87.1 431.7,87.4 432.3,88.2 433.0,88.9 433.7,86.9 434.3,86.9 435.0,87.8 435.6,87.2 436.3,87.0 436.9,87.0 437.6,86.9 438.2,88.1 438.9,86.4 439.6,88.8 440.2,87.0 440.9,87.3 441.5,86.9 442.2,86.1 442.8,86.4 443.5,88.7 444.2,89.2 444.8,87.0 445.5,88.6 446.1,87.7 446.8,87.0 447.4,89.1 448.1,89.6 448.8,87.5 449.4,87.7 450.1,87.9 450.7,87.7 451.4,88.5 452.0,89.0 452.7,87.9 453.4,88.6 454.0,89.1 454.7,87.3 455.3,87.8 456.0,87.4 456.6,88.6 457.3,88.3 458.0,88.6 458.6,88.5 459.3,87.5 459.9,88.4 460.6,87.4 461.2,87.4 461.9,85.9 462.6,88.9 463.2,86.9 463.9,87.8 464.5,87.7 465.2,89.0 465.8,88.1 466.5,87.1 467.1,87.8 467.8,87.6 468.5,88.0 469.1,86.7 469.8,87.7 470.4,89.6 471.1,88.3 471.7,89.4 472.4,90.6 473.1,88.2 473.7,86.5 474.4,87.7 475.0,88.7 475.7,88.5 476.3,86.7 477.0,87.6 477.7,87.7 478.3,87.8 479.0,87.7 479.6,87.0 480.3,87.2 480.9,87.5 481.6,88.6 482.3,87.3 482.9,88.3 483.6,86.8 484.2,88.8 484.9,87.8 485.5,87.7 486.2,88.9 486.9,86.2 487.5,86.4 488.2,88.1 488.8,87.0 489.5,87.4 490.1,90.0 490.8,87.5 491.5,87.8 492.1,87.6 492.8,88.7 493.4,87.9 494.1,87.9 494.7,86.7 495.4,87.4 496.1,87.7 496.7,86.4 497.4,88.2 498.0,88.1 498.7,89.3 499.3,86.3 500.0,86.9 500.6,86.9 501.3,87.1 502.0,87.6 502.6,87.5 503.3,87.9 503.9,87.9 504.6,87.7 505.2,86.4 505.9,87.2 506.6,87.8 507.2,88.2 507.9,88.3 508.5,86.3 509.2,87.3 509.8,87.7 510.5,88.0 511.2,88.7 511.8,87.8 512.5,86.9 513.1,88.1 513.8,87.9 514.4,87.9 515.1,87.6 515.8,89.1 516.4,87.9 517.1,88.5 517.7,86.9 518.4,88.4 519.0,87.2 519.7,86.4 520.4,88.0 521.0,88.2 521.7,87.5 522.3,87.7 523.0,88.6 523.6,87.3 524.3,85.9 525.0,87.9" fill="none" stroke="#9467bd" stroke-width="1.48" stroke-linejoin="round" clip-path="url(#cTR)"/>
<polyline points="308.2,87.9 308.9,88.6 309.5,87.4 310.2,88.8 310.8,88.7 311.5,86.6 312.1,88.5 312.8,86.8 313.5,86.4 314.1,87.5 314.8,87.2 315.4,86.0 316.1,87.9 316.7,88.2 317.4,88.9 318.1,87.7 318.7,86.4 319.4,86.9 320.0,88.5 320.7,88.5 321.3,88.2 322.0,87.5 322.6,87.9 323.3,87.5 324.0,87.5 324.6,88.0 325.3,87.7 325.9,87.5 326.6,87.8 327.2,87.3 327.9,86.1 328.6,87.2 329.2,87.7 329.9,89.2 330.5,87.4 331.2,89.4 331.8,88.9 332.5,87.0 333.2,87.1 333.8,87.8 334.5,89.2 335.1,88.0 335.8,88.3 336.4,87.2 337.1,85.7 337.8,87.5 338.4,88.4 339.1,88.7 339.7,87.8 340.4,87.9 341.0,88.7 341.7,87.6 342.4,88.7 343.0,86.7 343.7,86.8 344.3,86.8 345.0,88.1 345.6,87.3 346.3,87.8 347.0,88.0 347.6,88.0 348.3,88.8 348.9,89.0 349.6,87.0 350.2,87.9 350.9,87.5 351.6,86.8 352.2,89.2 352.9,88.4 353.5,87.6 354.2,87.4 354.8,88.0 355.5,86.8 356.1,87.5 356.8,88.8 357.5,88.5 358.1,87.0 358.8,87.3 359.4,89.4 360.1,86.5 360.7,87.2 361.4,86.5 362.1,88.0 362.7,88.0 363.4,88.7 364.0,85.5 364.7,87.9 365.3,86.3 366.0,88.3 366.7,87.6 367.3,89.2 368.0,88.0 368.6,86.9 369.3,88.8 369.9,86.8 370.6,87.4 371.3,88.6 371.9,88.1 372.6,88.1 373.2,87.8 373.9,88.2 374.5,88.4 375.2,88.0 375.9,88.6 376.5,88.8 377.2,87.8 377.8,86.9 378.5,89.0 379.1,87.7 379.8,88.3 380.4,88.6 381.1,87.0 381.8,88.2 382.4,86.4 383.1,88.4 383.7,87.4 384.4,87.9 385.0,88.4 385.7,87.2 386.4,87.8 387.0,87.2 387.7,87.8 388.3,88.7 389.0,87.8 389.6,87.7 390.3,86.9 391.0,88.5 391.6,87.7 392.3,89.2 392.9,87.1 393.6,88.7 394.2,89.3 394.9,87.8 395.6,86.7 396.2,89.0 396.9,88.7 397.5,88.4 398.2,88.7 398.8,87.4 399.5,88.4 400.2,88.3 400.8,87.2 401.5,88.4 402.1,87.3 402.8,88.6 403.4,88.8 404.1,89.3 404.8,86.1 405.4,88.0 406.1,87.5 406.7,87.7 407.4,87.6 408.0,87.7 408.7,86.0 409.4,88.6 410.0,89.1 410.7,88.6 411.3,88.9 412.0,87.1 412.6,87.0 413.3,88.5 413.9,88.9 414.6,88.0 415.3,86.5 415.9,90.2 416.6,87.3 417.2,88.6 417.9,86.8 418.5,88.7 419.2,88.0 419.9,89.0 420.5,88.6 421.2,86.5 421.8,87.0 422.5,88.1 423.1,88.5 423.8,89.4 424.5,88.1 425.1,87.7 425.8,87.8 426.4,87.8 427.1,88.7 427.7,87.8 428.4,87.7 429.1,86.6 429.7,86.1 430.4,87.8 431.0,88.4 431.7,87.8 432.3,88.2 433.0,88.4 433.7,87.8 434.3,88.6 435.0,87.2 435.6,87.8 436.3,87.5 436.9,87.9 437.6,88.3 438.2,88.5 438.9,87.9 439.6,88.2 440.2,87.5 440.9,87.7 441.5,88.9 442.2,87.7 442.8,88.9 443.5,88.2 444.2,88.0 444.8,89.5 445.5,87.6 446.1,87.6 446.8,87.8 447.4,88.1 448.1,88.0 448.8,88.6 449.4,87.9 450.1,88.2 450.7,87.6 451.4,88.8 452.0,87.5 452.7,87.6 453.4,87.8 454.0,88.1 454.7,87.2 455.3,89.2 456.0,87.3 456.6,87.5 457.3,87.5 458.0,87.4 458.6,88.3 459.3,87.9 459.9,87.2 460.6,87.3 461.2,87.5 461.9,89.0 462.6,87.2 463.2,86.7 463.9,86.8 464.5,87.5 465.2,89.1 465.8,86.9 466.5,87.8 467.1,89.9 467.8,87.4 468.5,89.0 469.1,88.8 469.8,88.3 470.4,86.6 471.1,88.0 471.7,87.5 472.4,86.2 473.1,86.3 473.7,87.8 474.4,87.9 475.0,88.8 475.7,88.3 476.3,87.3 477.0,87.4 477.7,87.6 478.3,86.8 479.0,88.4 479.6,87.8 480.3,87.1 480.9,87.2 481.6,86.8 482.3,87.4 482.9,88.0 483.6,87.4 484.2,88.6 484.9,89.1 485.5,87.2 486.2,87.8 486.9,87.4 487.5,89.2 488.2,88.0 488.8,88.2 489.5,88.5 490.1,89.7 490.8,88.0 491.5,86.9 492.1,87.4 492.8,88.2 493.4,87.7 494.1,87.0 494.7,90.1 495.4,87.8 496.1,87.2 496.7,87.1 497.4,86.2 498.0,86.7 498.7,87.4 499.3,87.4 500.0,87.0 500.6,88.2 501.3,87.7 502.0,86.9 502.6,86.0 503.3,87.8 503.9,87.8 504.6,87.5 505.2,86.5 505.9,87.7 506.6,86.4 507.2,88.6 507.9,87.9 508.5,87.9 509.2,87.0 509.8,86.8 510.5,89.0 511.2,88.5 511.8,87.4 512.5,88.3 513.1,89.0 513.8,86.8 514.4,87.3 515.1,87.3 515.8,88.1 516.4,86.8 517.1,87.9 517.7,86.8 518.4,88.5 519.0,88.5 519.7,87.5 520.4,88.3 521.0,87.1 521.7,87.5 522.3,88.5 523.0,87.6 523.6,88.0 524.3,86.9 525.0,88.3" fill="none" stroke="#8c564b" stroke-width="1.48" stroke-linejoin="round" clip-path="url(#cTR)"/>
<polyline points="308.2,87.7 308.6,84.7 309.1,84.9 309.5,86.6 309.9,86.0 310.4,85.3 310.8,84.8 311.2,85.6 311.7,85.5 312.1,84.5 312.5,86.6 313.0,85.9 313.4,85.9 313.8,84.1 314.3,86.0 314.7,86.5 315.1,85.6 315.6,85.0 316.0,86.2 316.4,84.5 316.9,86.1 317.3,84.8 317.7,86.2 318.2,84.4 318.6,86.1 319.0,84.8 319.4,84.5 319.9,86.0 320.3,86.4 320.7,85.1 321.2,85.3 321.6,85.4 322.0,84.6 322.5,85.4 322.9,85.4 323.3,85.4 323.8,85.5 324.2,85.6 324.6,86.2 325.1,85.9 325.5,85.9 325.9,86.0 326.4,84.6 326.8,86.3 327.2,86.1 327.7,85.3 328.1,85.8 328.5,86.0 329.0,85.7 329.4,85.3 329.8,84.9 330.3,84.1 330.7,84.4 331.1,85.5 331.6,85.5 332.0,85.6 332.4,86.0 332.9,84.2 333.3,86.4 333.7,86.1 334.2,84.9 334.6,85.1 335.0,85.9 335.5,84.2 335.9,85.6 336.3,85.1 336.8,86.4 337.2,84.3 337.6,86.4 338.1,85.6 338.5,84.4 338.9,84.2 339.3,84.3 339.8,84.5 340.2,86.0 340.6,86.5 341.1,85.5 341.5,86.5 341.9,84.2 342.4,86.6 342.8,85.8 343.2,86.1 343.7,86.6 344.1,85.3 344.5,86.4 345.0,84.3 345.4,84.9 345.8,85.7 346.3,84.5 346.7,84.6 347.1,85.8 347.6,84.5 348.0,84.3 348.4,85.0 348.9,85.7 349.3,84.3 349.7,84.2 350.2,85.7 350.6,86.4 351.0,84.4 351.5,84.9 351.9,86.0 352.3,85.2 352.8,85.8 353.2,84.3 353.6,85.7 354.1,86.1 354.5,86.5 354.9,85.7 355.4,84.1 355.8,86.1 356.2,85.5 356.7,84.1 357.1,86.6 357.5,85.9 358.0,84.5 358.4,86.4 358.8,84.3 359.3,84.5 359.7,86.3 360.1,85.1 360.5,85.2 361.0,84.9 361.4,85.8 361.8,85.6 362.3,86.0 362.7,85.9 363.1,86.2 363.6,84.3 364.0,84.4 364.4,85.7 364.9,84.9 365.3,85.4 365.7,85.9 366.2,124.1 366.6,122.8 367.0,54.4 367.5,54.2 367.9,118.4 368.3,119.4 368.8,75.5 369.2,76.6 369.6,122.1 370.1,123.8 370.5,77.5 370.9,75.5 371.4,119.6 371.8,118.3 372.2,118.7 372.7,122.3 373.1,61.7 373.5,63.9 374.0,65.1 374.4,66.5 374.8,100.4 375.3,99.7 375.7,109.3 376.1,108.6 376.6,101.8 377.0,101.6 377.4,97.9 377.9,96.6 378.3,98.1 378.7,97.0 379.2,118.2 379.6,117.8 380.0,123.8 380.4,121.7 380.9,99.1 381.3,98.4 381.7,83.3 382.2,80.8 382.6,99.9 383.0,102.2 383.5,99.4 383.9,97.1 384.3,100.9 384.8,97.6 385.2,65.7 385.6,64.7 386.1,106.5 386.5,108.1 386.9,107.4 387.4,107.6 387.8,74.7 388.2,73.5 388.7,114.4 389.1,112.6 389.5,74.6 390.0,72.7 390.4,70.0 390.8,70.6 391.3,106.3 391.7,106.6 392.1,55.8 392.6,55.1 393.0,99.7 393.4,98.9 393.9,115.0 394.3,113.9 394.7,100.9 395.2,101.9 395.6,53.9 396.0,55.8 396.5,70.4 396.9,69.3 397.3,107.1 397.8,109.8 398.2,55.5 398.6,57.2 399.1,113.2 399.5,114.3 399.9,95.1 400.4,97.6 400.8,77.0 401.2,76.9 401.6,51.8 402.1,53.0 402.5,94.8 402.9,93.4 403.4,74.0 403.8,74.5 404.2,123.0 404.7,124.0 405.1,92.7 405.5,92.6 406.0,96.5 406.4,97.0 406.8,74.7 407.3,76.7 407.7,94.8 408.1,95.2 408.6,66.4 409.0,66.6 409.4,62.3 409.9,64.7 410.3,102.5 410.7,103.2 411.2,79.3 411.6,79.3 412.0,119.8 412.5,118.4 412.9,57.9 413.3,57.6 413.8,63.2 414.2,63.9 414.6,76.9 415.1,75.6 415.5,66.6 415.9,65.3 416.4,114.6 416.8,113.2 417.2,66.8 417.7,70.6 418.1,118.8 418.5,118.3 419.0,69.9 419.4,68.7 419.8,66.5 420.3,66.9 420.7,78.4 421.1,79.7 421.6,111.6 422.0,111.6 422.4,114.8 422.8,117.7 423.3,60.7 423.7,57.6 424.1,75.6 424.6,72.0 425.0,122.3 425.4,123.2 425.9,60.2 426.3,61.2 426.7,108.2 427.2,108.2 427.6,106.9 428.0,106.6 428.5,56.2 428.9,57.9 429.3,96.8 429.8,97.9 430.2,114.6 430.6,112.9 431.1,117.0 431.5,117.5 431.9,107.4 432.4,110.0 432.8,121.6 433.2,122.0 433.7,107.2 434.1,108.0 434.5,69.8 435.0,66.7 435.4,74.2 435.8,72.0 436.3,53.8 436.7,53.6 437.1,72.4 437.6,71.4 438.0,112.6 438.4,113.5 438.9,107.9 439.3,106.1 439.7,123.3 440.2,123.9 440.6,123.8 441.0,123.6 441.5,79.0 441.9,79.9 442.3,122.4 442.7,123.1 443.2,112.8 443.6,112.5 444.0,79.9 444.5,80.5 444.9,109.1 445.3,107.5 445.8,96.9 446.2,96.0 446.6,65.2 447.1,64.3 447.5,75.6 447.9,75.2 448.4,106.5 448.8,106.2 449.2,73.4 449.7,73.5 450.1,110.8 450.5,109.8 451.0,117.9 451.4,120.7 451.8,54.1 452.3,51.9 452.7,101.7 453.1,103.2 453.6,111.6 454.0,111.6 454.4,81.1 454.9,80.1 455.3,71.2 455.7,71.9 456.2,124.1 456.6,124.1 457.0,76.7 457.5,77.7 457.9,118.0 458.3,122.0 458.8,62.5 459.2,60.6 459.6,101.8 460.1,104.4 460.5,117.8 460.9,116.7 461.4,101.6 461.8,102.6 462.2,55.9 462.7,52.5 463.1,96.2 463.5,95.1 463.9,78.1 464.4,80.1 464.8,60.1 465.2,60.9 465.7,69.5 466.1,69.5 466.5,98.4 467.0,98.8 467.4,66.8 467.8,64.8 468.3,74.9 468.7,74.5 469.1,63.7 469.6,64.9 470.0,116.5 470.4,117.3 470.9,119.5 471.3,120.9 471.7,93.8 472.2,93.9 472.6,112.4 473.0,113.7 473.5,51.3 473.9,52.7 474.3,106.9 474.8,106.0 475.2,115.8 475.6,115.5 476.1,96.6 476.5,95.0 476.9,120.4 477.4,121.3 477.8,111.4 478.2,112.0 478.7,53.6 479.1,53.3 479.5,119.2 480.0,119.1 480.4,120.6 480.8,120.3 481.3,78.1 481.7,78.2 482.1,113.4 482.6,114.4 483.0,98.8 483.4,100.6 483.8,74.3 484.3,75.9 484.7,70.5 485.1,72.9 485.6,65.6 486.0,64.6 486.4,113.5 486.9,111.7 487.3,124.1 487.7,123.2 488.2,92.2 488.6,92.4 489.0,98.9 489.5,99.2 489.9,105.8 490.3,103.0 490.8,117.4 491.2,118.5 491.6,66.6 492.1,66.3 492.5,109.7 492.9,109.9 493.4,118.7 493.8,117.2 494.2,62.1 494.7,62.8 495.1,102.9 495.5,103.1 496.0,96.7 496.4,95.7 496.8,107.7 497.3,109.0 497.7,53.7 498.1,54.9 498.6,63.8 499.0,62.7 499.4,79.2 499.9,78.7 500.3,67.1 500.7,67.7 501.2,104.3 501.6,106.8 502.0,110.5 502.5,112.4 502.9,65.0 503.3,65.6 503.8,53.3 504.2,54.9 504.6,70.9 505.0,70.5 505.5,68.2 505.9,71.0 506.3,62.5 506.8,61.7 507.2,122.7 507.6,122.0 508.1,61.3 508.5,60.5 508.9,109.4 509.4,107.8 509.8,119.1 510.2,117.8 510.7,66.9 511.1,66.2 511.5,53.5 512.0,51.5 512.4,72.2 512.8,72.3 513.3,99.3 513.7,95.5 514.1,118.6 514.6,119.9 515.0,102.9 515.4,102.5 515.9,55.9 516.3,57.1 516.7,64.3 517.2,63.9 517.6,107.9 518.0,109.4 518.5,81.2 518.9,79.4 519.3,118.9 519.8,119.7 520.2,93.5 520.6,96.4 521.1,52.2 521.5,53.0 521.9,122.3 522.4,118.6 522.8,100.9 523.2,104.2 523.7,97.8 524.1,98.0 524.5,56.3 525.0,54.1" fill="none" stroke="#e377c2" stroke-width="1.48" stroke-linejoin="round" clip-path="url(#cTR)"/>
<polyline points="308.2,87.7 308.7,88.3 309.2,87.6 309.7,87.6 310.3,88.0 310.8,88.0 311.3,87.9 311.8,87.9 312.3,88.1 312.8,88.1 313.3,86.7 313.9,86.7 314.4,88.8 314.9,88.8 315.4,89.4 315.9,89.4 316.4,88.0 317.0,88.0 317.5,89.8 318.0,89.8 318.5,88.0 319.0,88.0 319.5,87.7 320.0,87.7 320.6,86.3 321.1,86.3 321.6,89.7 322.1,89.7 322.6,88.2 323.1,88.2 323.6,86.3 324.2,86.3 324.7,88.5 325.2,88.5 325.7,86.0 326.2,86.0 326.7,86.6 327.2,86.6 327.8,90.0 328.3,90.0 328.8,88.3 329.3,88.3 329.8,86.4 330.3,86.4 330.9,87.6 331.4,87.6 331.9,86.8 332.4,86.8 332.9,85.2 333.4,85.2 333.9,86.8 334.5,86.8 335.0,87.5 335.5,87.5 336.0,85.9 336.5,85.9 337.0,88.1 337.5,88.1 338.1,90.2 338.6,90.2 339.1,88.9 339.6,88.9 340.1,87.2 340.6,87.2 341.2,85.4 341.7,85.4 342.2,87.2 342.7,87.2 343.2,88.8 343.7,88.8 344.2,85.2 344.8,85.2 345.3,88.2 345.8,88.2 346.3,89.1 346.8,89.1 347.3,87.4 347.8,87.4 348.4,88.5 348.9,88.5 349.4,89.7 349.9,89.7 350.4,86.6 350.9,86.6 351.4,86.7 352.0,86.7 352.5,85.3 353.0,85.3 353.5,89.6 354.0,89.6 354.5,85.6 355.1,85.6 355.6,86.2 356.1,86.2 356.6,89.0 357.1,89.0 357.6,87.8 358.1,87.8 358.7,87.0 359.2,87.0 359.7,88.7 360.2,88.7 360.7,89.7 361.2,89.7 361.7,86.0 362.3,86.0 362.8,89.4 363.3,89.4 363.8,87.8 364.3,87.8 364.8,88.0 365.3,88.0 365.9,85.7 366.4,85.7 366.9,87.4 367.4,87.4 367.9,88.1 368.4,88.1 369.0,85.3 369.5,85.3 370.0,88.5 370.5,88.5 371.0,86.6 371.5,86.6 372.0,89.1 372.6,89.1 373.1,86.4 373.6,86.4 374.1,86.4 374.6,86.4 375.1,86.0 375.6,86.0 376.2,87.8 376.7,87.8 377.2,89.1 377.7,89.1 378.2,87.0 378.7,87.0 379.2,85.6 379.8,85.6 380.3,88.7 380.8,88.7 381.3,90.2 381.8,90.2 382.3,89.3 382.9,89.3 383.4,85.5 383.9,85.5 384.4,90.2 384.9,90.2 385.4,90.0 385.9,90.0 386.5,89.8 387.0,89.8 387.5,85.7 388.0,85.7 388.5,88.3 389.0,88.3 389.5,86.7 390.1,86.7 390.6,86.7 391.1,86.7 391.6,88.0 392.1,88.0 392.6,86.5 393.1,86.5 393.7,87.9 394.2,87.9 394.7,87.5 395.2,87.5 395.7,88.7 396.2,88.7 396.8,90.2 397.3,90.2 397.8,87.2 398.3,87.2 398.8,88.9 399.3,88.9 399.8,88.9 400.4,88.9 400.9,85.8 401.4,85.8 401.9,88.4 402.4,85.9 402.9,88.7 403.4,88.7 404.0,85.9 404.5,85.9 405.0,85.7 405.5,85.7 406.0,90.1 406.5,90.1 407.1,85.8 407.6,85.8 408.1,84.4 408.6,84.4 409.1,87.1 409.6,87.1 410.1,86.5 410.7,86.5 411.2,88.8 411.7,88.8 412.2,89.8 412.7,89.8 413.2,85.8 413.7,85.8 414.3,85.3 414.8,85.3 415.3,89.6 415.8,89.6 416.3,90.2 416.8,90.2 417.3,88.5 417.9,88.5 418.4,86.7 418.9,86.7 419.4,88.5 419.9,88.5 420.4,84.3 421.0,84.3 421.5,85.5 422.0,85.5 422.5,84.7 423.0,84.7 423.5,86.8 424.0,86.8 424.6,85.8 425.1,85.8 425.6,84.4 426.1,84.4 426.6,90.7 427.1,90.7 427.6,87.0 428.2,87.0 428.7,89.7 429.2,89.7 429.7,85.5 430.2,85.5 430.7,89.4 431.2,89.4 431.8,85.9 432.3,85.9 432.8,88.7 433.3,88.7 433.8,86.5 434.3,86.5 434.9,86.3 435.4,86.3 435.9,84.7 436.4,84.7 436.9,85.0 437.4,85.0 437.9,88.0 438.5,88.0 439.0,86.2 439.5,86.2 440.0,89.7 440.5,89.7 441.0,90.3 441.5,90.3 442.1,86.0 442.6,86.0 443.1,84.7 443.6,84.7 444.1,85.8 444.6,85.8 445.1,87.4 445.7,87.4 446.2,86.6 446.7,86.6 447.2,85.9 447.7,85.9 448.2,87.0 448.8,87.0 449.3,88.5 449.8,88.5 450.3,85.1 450.8,85.1 451.3,88.4 451.8,88.4 452.4,84.7 452.9,84.7 453.4,85.5 453.9,85.5 454.4,85.5 454.9,85.5 455.4,85.2 456.0,85.2 456.5,84.2 457.0,84.2 457.5,84.1 458.0,84.1 458.5,87.5 459.0,87.5 459.6,88.4 460.1,88.4 460.6,85.9 461.1,85.9 461.6,84.3 462.1,84.3 462.7,86.6 463.2,86.6 463.7,90.8 464.2,90.8 464.7,90.7 465.2,90.7 465.7,87.8 466.3,87.8 466.8,85.5 467.3,85.5 467.8,84.8 468.3,84.8 468.8,88.4 469.3,88.4 469.9,87.4 470.4,87.4 470.9,87.4 471.4,87.4 471.9,90.3 472.4,90.3 473.0,91.0 473.5,91.0 474.0,87.4 474.5,87.4 475.0,87.5 475.5,87.5 476.0,85.0 476.6,85.0 477.1,89.7 477.6,89.7 478.1,85.1 478.6,85.1 479.1,89.1 479.6,89.1 480.2,87.3 480.7,87.3 481.2,86.1 481.7,86.1 482.2,90.0 482.7,90.0 483.2,84.4 483.8,84.4 484.3,84.4 484.8,84.4 485.3,84.3 485.8,84.3 486.3,91.0 486.9,91.0 487.4,86.5 487.9,86.5 488.4,86.3 488.9,86.3 489.4,84.9 489.9,84.9 490.5,89.6 491.0,89.6 491.5,90.1 492.0,90.1 492.5,117.3 493.0,115.0 493.5,115.7 494.1,117.7 494.6,51.2 495.1,52.1 495.6,63.2 496.1,66.5 496.6,98.5 497.1,98.3 497.7,114.4 498.2,112.4 498.7,104.8 499.2,103.0 499.7,67.7 500.2,64.2 500.8,68.8 501.3,66.7 501.8,110.3 502.3,111.8 502.8,55.5 503.3,52.5 503.8,120.0 504.4,119.1 504.9,69.4 505.4,68.3 505.9,118.8 506.4,119.9 506.9,119.1 507.4,118.4 508.0,116.1 508.5,117.0 509.0,111.5 509.5,112.8 510.0,54.8 510.5,54.3 511.0,66.7 511.6,64.5 512.1,78.7 512.6,76.1 513.1,71.8 513.6,71.0 514.1,111.8 514.7,114.8 515.2,103.9 515.7,106.2 516.2,67.6 516.7,66.4 517.2,68.6 517.7,68.7 518.3,102.3 518.8,100.0 519.3,78.9 519.8,78.3 520.3,79.6 520.8,77.0 521.3,60.7 521.9,60.4 522.4,105.6 522.9,105.0 523.4,65.8 523.9,69.1 524.4,119.6 525.0,121.9" fill="none" stroke="#7f7f7f" stroke-width="1.48" stroke-linejoin="round" clip-path="url(#cTR)"/>
<polyline points="308.2,87.7 311.8,87.0" fill="none" stroke="#bcbd22" stroke-width="1.48" stroke-linejoin="round" clip-path="url(#cTR)"/>
<polyline points="308.2,87.7 311.8,87.7" fill="none" stroke="#17becf" stroke-width="1.48" stroke-linejoin="round" clip-path="url(#cTR)"/>
<rect x="308.20" y="14.92" width="216.75" height="145.58" fill="none" stroke="#000" stroke-width="0.79"/>
<line x1="308.20" y1="160.50" x2="308.20" y2="163.95" stroke="#000" stroke-width="0.79"/>
<text x="300.55" y="174.96" font-family="Liberation Serif" font-size="11.33" textLength="15.30" lengthAdjust="spacingAndGlyphs">0.0</text>
<line x1="344.32" y1="160.50" x2="344.32" y2="163.95" stroke="#000" stroke-width="0.79"/>
<text x="336.68" y="174.96" font-family="Liberation Serif" font-size="11.33" textLength="15.23" lengthAdjust="spacingAndGlyphs">0.5</text>
<line x1="380.45" y1="160.50" x2="380.45" y2="163.95" stroke="#000" stroke-width="0.79"/>
<text x="372.75" y="174.96" font-family="Liberation Serif" font-size="11.33" textLength="15.35" lengthAdjust="spacingAndGlyphs">1.0</text>
<line x1="416.58" y1="160.50" x2="416.58" y2="163.95" stroke="#000" stroke-width="0.79"/>
<text x="408.88" y="174.96" font-family="Liberation Serif" font-size="11.33" textLength="15.27" lengthAdjust="spacingAndGlyphs">1.5</text>
<line x1="452.70" y1="160.50" x2="452.70" y2="163.95" stroke="#000" stroke-width="0.79"/>
<text x="445.01" y="174.96" font-family="Liberation Serif" font-size="11.33" textLength="15.34" lengthAdjust="spacingAndGlyphs">2.0</text>
<line x1="488.83" y1="160.50" x2="488.83" y2="163.95" stroke="#000" stroke-width="0.79"/>
<text x="481.14" y="174.96" font-family="Liberation Serif" font-size="11.33" textLength="15.27" lengthAdjust="spacingAndGlyphs">2.5</text>
<line x1="524.95" y1="160.50" x2="524.95" y2="163.95" stroke="#000" stroke-width="0.79"/>
<text x="517.27" y="174.96" font-family="Liberation Serif" font-size="11.33" textLength="15.32" lengthAdjust="spacingAndGlyphs">3.0</text>
<line x1="304.75" y1="160.50" x2="308.20" y2="160.50" stroke="#000" stroke-width="0.79"/>
<text x="277.47" y="164.50" font-family="Liberation Serif" font-size="11.33" textLength="23.35" lengthAdjust="spacingAndGlyphs">−1.0</text>
<line x1="304.75" y1="124.10" x2="308.20" y2="124.10" stroke="#000" stroke-width="0.79"/>
<text x="277.57" y="128.10" font-family="Liberation Serif" font-size="11.33" textLength="23.28" lengthAdjust="spacingAndGlyphs">−0.5</text>
<line x1="304.75" y1="87.71" x2="308.20" y2="87.71" stroke="#000" stroke-width="0.79"/>
<text x="285.51" y="91.71" font-family="Liberation Serif" font-size="11.33" textLength="15.30" lengthAdjust="spacingAndGlyphs">0.0</text>
<line x1="304.75" y1="51.31" x2="308.20" y2="51.31" stroke="#000" stroke-width="0.79"/>
<text x="285.61" y="55.31" font-family="Liberation Serif" font-size="11.33" textLength="15.23" lengthAdjust="spacingAndGlyphs">0.5</text>
<line x1="304.75" y1="14.92" x2="308.20" y2="14.92" stroke="#000" stroke-width="0.79"/>
<text x="285.46" y="18.92" font-family="Liberation Serif" font-size="11.33" textLength="15.35" lengthAdjust="spacingAndGlyphs">1.0</text>
<text x="308.05" y="12.20" font-family="Liberation Serif" font-size="11.33" textLength="26.33" lengthAdjust="spacingAndGlyphs">1e−5</text>
<line x1="36.02" y1="202.94" x2="36.02" y2="421.54" stroke="#b0b0b0" stroke-width="0.79"/>
<line x1="72.13" y1="202.94" x2="72.13" y2="421.54" stroke="#b0b0b0" stroke-width="0.79"/>
<line x1="108.25" y1="202.94" x2="108.25" y2="421.54" stroke="#b0b0b0" stroke-width="0.79"/>
<line x1="144.36" y1="202.94" x2="144.36" y2="421.54" stroke="#b0b0b0" stroke-width="0.79"/>
<line x1="180.47" y1="202.94" x2="180.47" y2="421.54" stroke="#b0b0b0" stroke-width="0.79"/>
<line x1="216.59" y1="202.94" x2="216.59" y2="421.54" stroke="#b0b0b0" stroke-width="0.79"/>
<line x1="252.70" y1="202.94" x2="252.70" y2="421.54" stroke="#b0b0b0" stroke-width="0.79"/>
<line x1="36.02" y1="411.49" x2="252.70" y2="411.49" stroke="#b0b0b0" stroke-width="0.79"/>
<line x1="36.02" y1="384.20" x2="252.70" y2="384.20" stroke="#b0b0b0" stroke-width="0.79"/>
<line x1="36.02" y1="356.90" x2="252.70" y2="356.90" stroke="#b0b0b0" stroke-width="0.79"/>
<line x1="36.02" y1="329.60" x2="252.70" y2="329.60" stroke="#b0b0b0" stroke-width="0.79"/>
<line x1="36.02" y1="302.30" x2="252.70" y2="302.30" stroke="#b0b0b0" stroke-width="0.79"/>
<line x1="36.02" y1="275.01" x2="252.70" y2="275.01" stroke="#b0b0b0" stroke-width="0.79"/>
<line x1="36.02" y1="247.71" x2="252.70" y2="247.71" stroke="#b0b0b0" stroke-width="0.79"/>
<line x1="36.02" y1="220.41" x2="252.70" y2="220.41" stroke="#b0b0b0" stroke-width="0.79"/>
<polyline points="36.0,356.9 36.6,356.5 37.1,356.1 37.6,355.6 38.2,355.2 38.7,354.7 39.3,354.3 39.8,353.8 40.4,353.3 40.9,352.9 41.4,352.4 42.0,352.0 42.5,351.5 43.1,351.1 43.6,350.6 44.1,350.2 44.7,349.8 45.2,349.4 45.8,349.0 46.3,348.6 46.9,348.3 47.4,347.9 47.9,347.6 48.5,347.3 49.0,347.0 49.6,346.7 50.1,346.5 50.6,346.2 51.2,346.0 51.7,345.8 52.3,345.7 52.8,345.5 53.4,345.4 53.9,345.3 54.4,345.2 55.0,345.1 55.5,345.0 56.1,345.0 56.6,345.0 57.1,344.9 57.7,344.9 58.2,344.9 58.8,344.9 59.3,345.0 59.9,345.0 60.4,345.0 60.9,345.1 61.5,345.1 62.0,345.1 62.6,345.2 63.1,345.2 63.6,345.2 64.2,345.2 64.7,345.2 65.3,345.2 65.8,345.2 66.4,345.2 66.9,345.2 67.4,345.1 68.0,345.0 68.5,345.0 69.1,344.9 69.6,344.7 70.1,344.6 70.7,344.4 71.2,344.3 71.8,344.1 72.3,343.9 72.9,343.6 73.4,343.4 73.9,343.1 74.5,342.8 75.0,342.5 75.6,342.2 76.1,341.8 76.6,341.5 77.2,341.1 77.7,340.7 78.3,340.3 78.8,339.9 79.4,339.5 79.9,339.0 80.4,338.6 81.0,338.2 81.5,337.7 82.1,337.3 82.6,336.8 83.1,336.4 83.7,335.9 84.2,335.5 84.8,335.0 85.3,334.6 85.9,334.2 86.4,333.8 86.9,333.4 87.5,333.0 88.0,332.6 88.6,332.2 89.1,331.9 89.6,331.6 90.2,331.2 90.7,331.0 91.3,330.7 91.8,330.4 92.4,330.2 92.9,330.0 93.4,329.8 94.0,329.6 94.5,329.4 95.1,329.3 95.6,329.1 96.1,329.0 96.7,328.9 97.2,328.9 97.8,328.8 98.3,328.7 98.9,328.7 99.4,328.7 99.9,328.7 100.5,328.7 101.0,328.7 101.6,328.7 102.1,328.7 102.6,328.7 103.2,328.7 103.7,328.8 104.3,328.8 104.8,328.8 105.4,328.8 105.9,328.8 106.4,328.8 107.0,328.8 107.5,328.8 108.1,328.8 108.6,328.8 109.1,328.7 109.7,328.6 110.2,328.6 110.8,328.5 111.3,328.3 111.9,328.2 112.4,328.1 112.9,327.9 113.5,327.7 114.0,327.5 114.6,327.3 115.1,327.0 115.6,326.8 116.2,326.5 116.7,326.2 117.3,325.9 117.8,325.6 118.4,325.2 118.9,324.9 119.4,324.5 120.0,324.1 120.5,323.7 121.1,323.3 121.6,322.9 122.2,322.5 122.7,322.0 123.2,321.6 123.8,321.2 124.3,320.7 124.9,320.3 125.4,319.8 125.9,319.4 126.5,319.0 127.0,318.6 127.6,318.1 128.1,317.7 128.7,317.3 129.2,316.9 129.7,316.6 130.3,316.2 130.8,315.9 131.4,315.5 131.9,315.2 132.4,314.9 133.0,314.6 133.5,314.4 134.1,314.1 134.6,313.9 135.2,313.7 135.7,313.5 136.2,313.3 136.8,313.1 137.3,313.0 137.9,312.9 138.4,312.8 138.9,312.7 139.5,312.6 140.0,312.5 140.6,312.5 141.1,312.5 141.7,312.4 142.2,312.4 142.7,312.4 143.3,312.4 143.8,312.4 144.4,312.4 144.9,312.4 145.4,312.4 146.0,312.4 146.5,312.5 147.1,312.5 147.6,312.5 148.2,312.5 148.7,312.5 149.2,312.4 149.8,312.4 150.3,312.4 150.9,312.3 151.4,312.2 151.9,312.2 152.5,312.1 153.0,312.0 153.6,311.8 154.1,311.7 154.7,311.5 155.2,311.3 155.7,311.2 156.3,310.9 156.8,310.7 157.4,310.5 157.9,310.2 158.4,309.9 159.0,309.6 159.5,309.3 160.1,309.0 160.6,308.6 161.2,308.3 161.7,307.9 162.2,307.5 162.8,307.1 163.3,306.7 163.9,306.3 164.4,305.9 164.9,305.5 165.5,305.0 166.0,304.6 166.6,304.2 167.1,303.8 167.7,303.3 168.2,302.9 168.7,302.5 169.3,302.1 169.8,301.7 170.4,301.3 170.9,300.9 171.4,300.5 172.0,300.2 172.5,299.8 173.1,299.5 173.6,299.2 174.2,298.9 174.7,298.6 175.2,298.3 175.8,298.0 176.3,297.8 176.9,297.6 177.4,297.4 177.9,297.2 178.5,297.0 179.0,296.9 179.6,296.7 180.1,296.6 180.7,296.5 181.2,296.4 181.7,296.4 182.3,296.3 182.8,296.2 183.4,296.2 183.9,296.2 184.4,296.2 185.0,296.1 185.5,296.1 186.1,296.1 186.6,296.1 187.2,296.1 187.7,296.1 188.2,296.1 188.8,296.1 189.3,296.1 189.9,296.1 190.4,296.1 190.9,296.1 191.5,296.0 192.0,296.0 192.6,295.9 193.1,295.9 193.7,295.8 194.2,295.7 194.7,295.6 195.3,295.5 195.8,295.3 196.4,295.2 196.9,295.0 197.4,294.8 198.0,294.6 198.5,294.4 199.1,294.1 199.6,293.9 200.2,293.6 200.7,293.3 201.2,293.0 201.8,292.7 202.3,292.4 202.9,292.0 203.4,291.7 203.9,291.3 204.5,290.9 205.0,290.5 205.6,290.1 206.1,289.7 206.7,289.3 207.2,288.9 207.7,288.5 208.3,288.1 208.8,287.6 209.4,287.2 209.9,286.8 210.4,286.4 211.0,286.0 211.5,285.6 212.1,285.2 212.6,284.8 213.2,284.5 213.7,284.1 214.2,283.8 214.8,283.4 215.3,283.1 215.9,282.8 216.4,282.5 216.9,282.2 217.5,282.0 218.0,281.7 218.6,281.5 219.1,281.3 219.7,281.1 220.2,280.9 220.7,280.8 221.3,280.6 221.8,280.5 222.4,280.4 222.9,280.3 223.4,280.2 224.0,280.1 224.5,280.0 225.1,280.0 225.6,280.0 226.2,279.9 226.7,279.9 227.2,279.9 227.8,279.9 228.3,279.8 228.9,279.8 229.4,279.8 229.9,279.8 230.5,279.8 231.0,279.8 231.6,279.8 232.1,279.7 232.7,279.7 233.2,279.7 233.7,279.6 234.3,279.6 234.8,279.5 235.4,279.4 235.9,279.3 236.4,279.2 237.0,279.1 237.5,278.9 238.1,278.8 238.6,278.6 239.2,278.4 239.7,278.2 240.2,278.0 240.8,277.8 241.3,277.5 241.9,277.3 242.4,277.0 242.9,276.7 243.5,276.4 244.0,276.1 244.6,275.7 245.1,275.4 245.7,275.0 246.2,274.7 246.7,274.3 247.3,273.9 247.8,273.5 248.4,273.1 248.9,272.7 249.4,272.3 250.0,271.9 250.5,271.5 251.1,271.1 251.6,270.7 252.2,270.3 252.7,269.9" fill="none" stroke="#17becf" stroke-width="1.48" stroke-linejoin="round" clip-path="url(#cBL)"/>
<polyline points="36.0,356.9 36.6,356.5 37.1,356.2 37.6,355.9 38.2,355.7 38.7,355.5 39.3,355.4 39.8,355.4 40.4,355.3 40.9,355.4 41.4,355.5 42.0,355.6 42.5,355.8 43.1,356.0 43.6,356.3 44.1,356.7 44.7,357.0 45.2,357.5 45.8,357.9 46.3,358.4 46.9,358.9 47.4,359.5 47.9,360.1 48.5,360.7 49.0,361.3 49.6,362.0 50.1,362.6 50.6,363.3 51.2,363.9 51.7,364.6 52.3,365.2 52.8,365.8 53.4,366.5 53.9,367.1 54.4,367.6 55.0,368.2 55.5,368.7 56.1,369.2 56.6,369.6 57.1,370.1 57.7,370.4 58.2,370.7 58.8,371.0 59.3,371.3 59.9,371.4 60.4,371.6 60.9,371.7 61.5,371.7 62.0,371.7 62.6,371.6 63.1,371.5 63.6,371.3 64.2,371.0 64.7,370.8 65.3,370.4 65.8,370.1 66.4,369.7 66.9,369.2 67.4,368.8 68.0,368.2 68.5,367.7 69.1,367.1 69.6,366.5 70.1,365.9 70.7,365.3 71.2,364.7 71.8,364.0 72.3,363.4 72.9,362.7 73.4,362.1 73.9,361.5 74.5,360.9 75.0,360.3 75.6,359.7 76.1,359.2 76.6,358.6 77.2,358.2 77.7,357.7 78.3,357.3 78.8,356.9 79.4,356.6 79.9,356.3 80.4,356.1 81.0,355.9 81.5,355.8 82.1,355.7 82.6,355.6 83.1,355.7 83.7,355.7 84.2,355.8 84.8,356.0 85.3,356.2 85.9,356.5 86.4,356.8 86.9,357.2 87.5,357.6 88.0,358.0 88.6,358.5 89.1,359.0 89.6,359.5 90.2,360.1 90.7,360.6 91.3,361.2 91.8,361.9 92.4,362.5 92.9,363.1 93.4,363.8 94.0,364.4 94.5,365.0 95.1,365.7 95.6,366.3 96.1,366.9 96.7,367.4 97.2,368.0 97.8,368.5 98.3,369.0 98.9,369.4 99.4,369.8 99.9,370.2 100.5,370.6 101.0,370.8 101.6,371.1 102.1,371.3 102.6,371.4 103.2,371.5 103.7,371.6 104.3,371.6 104.8,371.5 105.4,371.4 105.9,371.2 106.4,371.0 107.0,370.8 107.5,370.5 108.1,370.2 108.6,369.8 109.1,369.4 109.7,368.9 110.2,368.4 110.8,367.9 111.3,367.3 111.9,366.8 112.4,366.2 112.9,365.6 113.5,365.0 114.0,364.3 114.6,363.7 115.1,363.1 115.6,362.5 116.2,361.8 116.7,361.2 117.3,360.7 117.8,360.1 118.4,359.5 118.9,359.0 119.4,358.5 120.0,358.1 120.5,357.7 121.1,357.3 121.6,357.0 122.2,356.7 122.7,356.4 123.2,356.2 123.8,356.1 124.3,356.0 124.9,355.9 125.4,355.9 125.9,356.0 126.5,356.1 127.0,356.2 127.6,356.4 128.1,356.6 128.7,356.9 129.2,357.3 129.7,357.6 130.3,358.0 130.8,358.5 131.4,359.0 131.9,359.5 132.4,360.0 133.0,360.6 133.5,361.2 134.1,361.8 134.6,362.4 135.2,363.0 135.7,363.6 136.2,364.2 136.8,364.9 137.3,365.5 137.9,366.1 138.4,366.7 138.9,367.2 139.5,367.8 140.0,368.3 140.6,368.8 141.1,369.2 141.7,369.6 142.2,370.0 142.7,370.4 143.3,370.7 143.8,370.9 144.4,371.1 144.9,371.3 145.4,371.4 146.0,371.5 146.5,371.5 147.1,371.5 147.6,371.4 148.2,371.2 148.7,371.1 149.2,370.8 149.8,370.6 150.3,370.2 150.9,369.9 151.4,369.5 151.9,369.1 152.5,368.6 153.0,368.1 153.6,367.6 154.1,367.0 154.7,366.4 155.2,365.9 155.7,365.3 156.3,364.7 156.8,364.0 157.4,363.4 157.9,362.8 158.4,362.2 159.0,361.6 159.5,361.0 160.1,360.5 160.6,359.9 161.2,359.4 161.7,358.9 162.2,358.5 162.8,358.1 163.3,357.7 163.9,357.3 164.4,357.0 164.9,356.8 165.5,356.6 166.0,356.4 166.6,356.3 167.1,356.2 167.7,356.2 168.2,356.2 168.7,356.3 169.3,356.4 169.8,356.6 170.4,356.8 170.9,357.1 171.4,357.4 172.0,357.7 172.5,358.1 173.1,358.5 173.6,359.0 174.2,359.5 174.7,360.0 175.2,360.5 175.8,361.1 176.3,361.7 176.9,362.3 177.4,362.9 177.9,363.5 178.5,364.1 179.0,364.7 179.6,365.3 180.1,365.9 180.7,366.5 181.2,367.0 181.7,367.6 182.3,368.1 182.8,368.6 183.4,369.0 183.9,369.4 184.4,369.8 185.0,370.2 185.5,370.5 186.1,370.8 186.6,371.0 187.2,371.2 187.7,371.3 188.2,371.4 188.8,371.4 189.3,371.4 189.9,371.3 190.4,371.2 190.9,371.1 191.5,370.9 192.0,370.6 192.6,370.3 193.1,370.0 193.7,369.6 194.2,369.2 194.7,368.8 195.3,368.3 195.8,367.8 196.4,367.3 196.9,366.7 197.4,366.2 198.0,365.6 198.5,365.0 199.1,364.4 199.6,363.8 200.2,363.2 200.7,362.6 201.2,362.0 201.8,361.4 202.3,360.9 202.9,360.3 203.4,359.8 203.9,359.3 204.5,358.9 205.0,358.4 205.6,358.1 206.1,357.7 206.7,357.4 207.2,357.1 207.7,356.9 208.3,356.7 208.8,356.6 209.4,356.5 209.9,356.4 210.4,356.4 211.0,356.5 211.5,356.6 212.1,356.7 212.6,356.9 213.2,357.2 213.7,357.5 214.2,357.8 214.8,358.1 215.3,358.5 215.9,359.0 216.4,359.4 216.9,359.9 217.5,360.5 218.0,361.0 218.6,361.6 219.1,362.1 219.7,362.7 220.2,363.3 220.7,363.9 221.3,364.5 221.8,365.1 222.4,365.7 222.9,366.2 223.4,366.8 224.0,367.3 224.5,367.9 225.1,368.4 225.6,368.8 226.2,369.2 226.7,369.6 227.2,370.0 227.8,370.3 228.3,370.6 228.9,370.8 229.4,371.0 229.9,371.2 230.5,371.3 231.0,371.3 231.6,371.4 232.1,371.3 232.7,371.2 233.2,371.1 233.7,370.9 234.3,370.7 234.8,370.4 235.4,370.1 235.9,369.8 236.4,369.4 237.0,369.0 237.5,368.5 238.1,368.0 238.6,367.5 239.2,367.0 239.7,366.4 240.2,365.9 240.8,365.3 241.3,364.7 241.9,364.1 242.4,363.6 242.9,363.0 243.5,362.4 244.0,361.8 244.6,361.3 245.1,360.7 245.7,360.2 246.2,359.7 246.7,359.3 247.3,358.8 247.8,358.4 248.4,358.1 248.9,357.7 249.4,357.5 250.0,357.2 250.5,357.0 251.1,356.9 251.6,356.8 252.2,356.7 252.7,356.7" fill="none" stroke="#1f77b4" stroke-width="1.48" stroke-linejoin="round" clip-path="url(#cBL)"/>
<polyline points="36.0,356.9 36.6,356.5 37.1,356.0 37.6,355.5 38.2,355.0 38.7,354.4 39.3,353.9 39.8,353.4 40.4,352.8 40.9,352.3 41.4,351.7 42.0,351.2 42.5,350.7 43.1,350.2 43.6,349.7 44.1,349.2 44.7,348.8 45.2,348.4 45.8,348.0 46.3,347.7 46.9,347.4 47.4,347.2 47.9,347.0 48.5,346.9 49.0,346.8 49.6,346.7 50.1,346.7 50.6,346.8 51.2,346.9 51.7,347.0 52.3,347.2 52.8,347.5 53.4,347.8 53.9,348.1 54.4,348.5 55.0,349.0 55.5,349.5 56.1,350.0 56.6,350.5 57.1,351.1 57.7,351.7 58.2,352.4 58.8,353.0 59.3,353.7 59.9,354.4 60.4,355.1 60.9,355.8 61.5,356.6 62.0,357.3 62.6,358.0 63.1,358.7 63.6,359.4 64.2,360.0 64.7,360.7 65.3,361.3 65.8,361.9 66.4,362.4 66.9,363.0 67.4,363.4 68.0,363.9 68.5,364.3 69.1,364.7 69.6,365.0 70.1,365.2 70.7,365.4 71.2,365.6 71.8,365.7 72.3,365.8 72.9,365.8 73.4,365.8 73.9,365.7 74.5,365.5 75.0,365.4 75.6,365.1 76.1,364.9 76.6,364.6 77.2,364.2 77.7,363.8 78.3,363.4 78.8,363.0 79.4,362.5 79.9,362.0 80.4,361.5 81.0,361.0 81.5,360.5 82.1,359.9 82.6,359.4 83.1,358.8 83.7,358.3 84.2,357.8 84.8,357.3 85.3,356.8 85.9,356.3 86.4,355.9 86.9,355.5 87.5,355.1 88.0,354.7 88.6,354.4 89.1,354.2 89.6,353.9 90.2,353.8 90.7,353.6 91.3,353.5 91.8,353.5 92.4,353.5 92.9,353.6 93.4,353.7 94.0,353.9 94.5,354.1 95.1,354.3 95.6,354.6 96.1,355.0 96.7,355.4 97.2,355.8 97.8,356.3 98.3,356.8 98.9,357.4 99.4,358.0 99.9,358.6 100.5,359.2 101.0,359.9 101.6,360.6 102.1,361.2 102.6,361.9 103.2,362.6 103.7,363.4 104.3,364.1 104.8,364.8 105.4,365.4 105.9,366.1 106.4,366.8 107.0,367.4 107.5,368.0 108.1,368.6 108.6,369.1 109.1,369.6 109.7,370.1 110.2,370.5 110.8,370.9 111.3,371.3 111.9,371.6 112.4,371.8 112.9,372.0 113.5,372.2 114.0,372.3 114.6,372.3 115.1,372.3 115.6,372.3 116.2,372.2 116.7,372.1 117.3,371.9 117.8,371.6 118.4,371.4 118.9,371.1 119.4,370.7 120.0,370.3 120.5,369.9 121.1,369.5 121.6,369.0 122.2,368.5 122.7,368.0 123.2,367.5 123.8,367.0 124.3,366.5 124.9,366.0 125.4,365.4 125.9,364.9 126.5,364.4 127.0,363.9 127.6,363.4 128.1,363.0 128.7,362.6 129.2,362.2 129.7,361.8 130.3,361.5 130.8,361.2 131.4,360.9 131.9,360.7 132.4,360.5 133.0,360.4 133.5,360.3 134.1,360.3 134.6,360.3 135.2,360.4 135.7,360.5 136.2,360.7 136.8,360.9 137.3,361.2 137.9,361.5 138.4,361.9 138.9,362.3 139.5,362.7 140.0,363.2 140.6,363.7 141.1,364.3 141.7,364.8 142.2,365.4 142.7,366.1 143.3,366.7 143.8,367.4 144.4,368.1 144.9,368.8 145.4,369.5 146.0,370.2 146.5,370.8 147.1,371.5 147.6,372.2 148.2,372.9 148.7,373.5 149.2,374.1 149.8,374.7 150.3,375.3 150.9,375.8 151.4,376.3 151.9,376.8 152.5,377.2 153.0,377.5 153.6,377.9 154.1,378.2 154.7,378.4 155.2,378.6 155.7,378.7 156.3,378.8 156.8,378.9 157.4,378.9 157.9,378.8 158.4,378.7 159.0,378.6 159.5,378.4 160.1,378.2 160.6,377.9 161.2,377.6 161.7,377.2 162.2,376.9 162.8,376.4 163.3,376.0 163.9,375.6 164.4,375.1 164.9,374.6 165.5,374.1 166.0,373.6 166.6,373.0 167.1,372.5 167.7,372.0 168.2,371.5 168.7,371.0 169.3,370.5 169.8,370.1 170.4,369.6 170.9,369.2 171.4,368.8 172.0,368.5 172.5,368.2 173.1,367.9 173.6,367.6 174.2,367.5 174.7,367.3 175.2,367.2 175.8,367.1 176.3,367.1 176.9,367.1 177.4,367.2 177.9,367.4 178.5,367.5 179.0,367.8 179.6,368.0 180.1,368.4 180.7,368.7 181.2,369.1 181.7,369.6 182.3,370.0 182.8,370.6 183.4,371.1 183.9,371.7 184.4,372.3 185.0,372.9 185.5,373.6 186.1,374.2 186.6,374.9 187.2,375.6 187.7,376.3 188.2,376.9 188.8,377.6 189.3,378.3 189.9,379.0 190.4,379.6 190.9,380.2 191.5,380.8 192.0,381.4 192.6,382.0 193.1,382.5 193.7,383.0 194.2,383.4 194.7,383.8 195.3,384.2 195.8,384.5 196.4,384.8 196.9,385.0 197.4,385.2 198.0,385.3 198.5,385.4 199.1,385.4 199.6,385.4 200.2,385.4 200.7,385.3 201.2,385.1 201.8,384.9 202.3,384.7 202.9,384.4 203.4,384.1 203.9,383.7 204.5,383.4 205.0,383.0 205.6,382.5 206.1,382.1 206.7,381.6 207.2,381.1 207.7,380.6 208.3,380.1 208.8,379.6 209.4,379.1 209.9,378.6 210.4,378.1 211.0,377.6 211.5,377.2 212.1,376.7 212.6,376.3 213.2,375.9 213.7,375.5 214.2,375.2 214.8,374.9 215.3,374.6 215.9,374.4 216.4,374.2 216.9,374.1 217.5,374.0 218.0,373.9 218.6,373.9 219.1,374.0 219.7,374.1 220.2,374.2 220.7,374.4 221.3,374.6 221.8,374.9 222.4,375.2 222.9,375.6 223.4,376.0 224.0,376.4 224.5,376.9 225.1,377.4 225.6,378.0 226.2,378.5 226.7,379.1 227.2,379.8 227.8,380.4 228.3,381.1 228.9,381.7 229.4,382.4 229.9,383.1 230.5,383.7 231.0,384.4 231.6,385.1 232.1,385.7 232.7,386.3 233.2,387.0 233.7,387.6 234.3,388.1 234.8,388.6 235.4,389.2 235.9,389.6 236.4,390.0 237.0,390.4 237.5,390.8 238.1,391.1 238.6,391.4 239.2,391.6 239.7,391.7 240.2,391.9 240.8,391.9 241.3,392.0 241.9,391.9 242.4,391.9 242.9,391.8 243.5,391.6 244.0,391.4 244.6,391.2 245.1,390.9 245.7,390.6 246.2,390.3 246.7,389.9 247.3,389.5 247.8,389.1 248.4,388.6 248.9,388.1 249.4,387.7 250.0,387.2 250.5,386.7 251.1,386.2 251.6,385.7 252.2,385.2 252.7,384.7" fill="none" stroke="#ff7f0e" stroke-width="1.48" stroke-linejoin="round" clip-path="url(#cBL)"/>
<polyline points="36.0,356.9 39.6,356.4" fill="none" stroke="#2ca02c" stroke-width="1.48" stroke-linejoin="round" clip-path="url(#cBL)"/>
<polyline points="36.0,356.9 39.6,357.4" fill="none" stroke="#d62728" stroke-width="1.48" stroke-linejoin="round" clip-path="url(#cBL)"/>
<polyline points="36.0,356.9 39.6,353.6" fill="none" stroke="#9467bd" stroke-width="1.48" stroke-linejoin="round" clip-path="url(#cBL)"/>
<rect x="36.02" y="202.94" width="216.68" height="218.60" fill="none" stroke="#000" stroke-width="0.79"/>
<line x1="36.02" y1="421.54" x2="36.02" y2="424.99" stroke="#000" stroke-width="0.79"/>
<text x="28.37" y="436.05" font-family="Liberation Serif" font-size="11.33" textLength="15.30" lengthAdjust="spacingAndGlyphs">0.0</text>
<line x1="72.13" y1="421.54" x2="72.13" y2="424.99" stroke="#000" stroke-width="0.79"/>
<text x="64.48" y="436.05" font-family="Liberation Serif" font-size="11.33" textLength="15.23" lengthAdjust="spacingAndGlyphs">0.5</text>
<line x1="108.25" y1="421.54" x2="108.25" y2="424.99" stroke="#000" stroke-width="0.79"/>
<text x="100.55" y="436.05" font-family="Liberation Serif" font-size="11.33" textLength="15.35" lengthAdjust="spacingAndGlyphs">1.0</text>
<line x1="144.36" y1="421.54" x2="144.36" y2="424.99" stroke="#000" stroke-width="0.79"/>
<text x="136.66" y="436.05" font-family="Liberation Serif" font-size="11.33" textLength="15.27" lengthAdjust="spacingAndGlyphs">1.5</text>
<line x1="180.47" y1="421.54" x2="180.47" y2="424.99" stroke="#000" stroke-width="0.79"/>
<text x="172.78" y="436.05" font-family="Liberation Serif" font-size="11.33" textLength="15.34" lengthAdjust="spacingAndGlyphs">2.0</text>
<line x1="216.59" y1="421.54" x2="216.59" y2="424.99" stroke="#000" stroke-width="0.79"/>
<text x="208.90" y="436.05" font-family="Liberation Serif" font-size="11.33" textLength="15.27" lengthAdjust="spacingAndGlyphs">2.5</text>
<line x1="252.70" y1="421.54" x2="252.70" y2="424.99" stroke="#000" stroke-width="0.79"/>
<text x="245.02" y="436.05" font-family="Liberation Serif" font-size="11.33" textLength="15.32" lengthAdjust="spacingAndGlyphs">3.0</text>
<line x1="32.57" y1="411.49" x2="36.02" y2="411.49" stroke="#000" stroke-width="0.79"/>
<text x="-0.96" y="415.49" font-family="Liberation Serif" font-size="11.33" textLength="29.60" lengthAdjust="spacingAndGlyphs">−0.10</text>
<line x1="32.57" y1="384.20" x2="36.02" y2="384.20" stroke="#000" stroke-width="0.79"/>
<text x="-0.86" y="388.20" font-family="Liberation Serif" font-size="11.33" textLength="29.53" lengthAdjust="spacingAndGlyphs">−0.05</text>
<line x1="32.57" y1="356.90" x2="36.02" y2="356.90" stroke="#000" stroke-width="0.79"/>
<text x="7.07" y="360.90" font-family="Liberation Serif" font-size="11.33" textLength="21.56" lengthAdjust="spacingAndGlyphs">0.00</text>
<line x1="32.57" y1="329.60" x2="36.02" y2="329.60" stroke="#000" stroke-width="0.79"/>
<text x="7.17" y="333.60" font-family="Liberation Serif" font-size="11.33" textLength="21.49" lengthAdjust="spacingAndGlyphs">0.05</text>
<line x1="32.57" y1="302.30" x2="36.02" y2="302.30" stroke="#000" stroke-width="0.79"/>
<text x="7.07" y="306.30" font-family="Liberation Serif" font-size="11.33" textLength="21.56" lengthAdjust="spacingAndGlyphs">0.10</text>
<line x1="32.57" y1="275.01" x2="36.02" y2="275.01" stroke="#000" stroke-width="0.79"/>
<text x="7.17" y="279.01" font-family="Liberation Serif" font-size="11.33" textLength="21.49" lengthAdjust="spacingAndGlyphs">0.15</text>
<line x1="32.57" y1="247.71" x2="36.02" y2="247.71" stroke="#000" stroke-width="0.79"/>
<text x="7.07" y="251.71" font-family="Liberation Serif" font-size="11.33" textLength="21.56" lengthAdjust="spacingAndGlyphs">0.20</text>
<line x1="32.57" y1="220.41" x2="36.02" y2="220.41" stroke="#000" stroke-width="0.79"/>
<text x="7.17" y="224.41" font-family="Liberation Serif" font-size="11.33" textLength="21.49" lengthAdjust="spacingAndGlyphs">0.25</text>
<line x1="308.20" y1="202.94" x2="308.20" y2="421.54" stroke="#b0b0b0" stroke-width="0.79"/>
<line x1="344.32" y1="202.94" x2="344.32" y2="421.54" stroke="#b0b0b0" stroke-width="0.79"/>
<line x1="380.45" y1="202.94" x2="380.45" y2="421.54" stroke="#b0b0b0" stroke-width="0.79"/>
<line x1="416.58" y1="202.94" x2="416.58" y2="421.54" stroke="#b0b0b0" stroke-width="0.79"/>
<line x1="452.70" y1="202.94" x2="452.70" y2="421.54" stroke="#b0b0b0" stroke-width="0.79"/>
<line x1="488.83" y1="202.94" x2="488.83" y2="421.54" stroke="#b0b0b0" stroke-width="0.79"/>
<line x1="524.95" y1="202.94" x2="524.95" y2="421.54" stroke="#b0b0b0" stroke-width="0.79"/>
<line x1="308.20" y1="421.54" x2="524.95" y2="421.54" stroke="#b0b0b0" stroke-width="0.79"/>
<line x1="308.20" y1="394.22" x2="524.95" y2="394.22" stroke="#b0b0b0" stroke-width="0.79"/>
<line x1="308.20" y1="366.89" x2="524.95" y2="366.89" stroke="#b0b0b0" stroke-width="0.79"/>
<line x1="308.20" y1="339.56" x2="524.95" y2="339.56" stroke="#b0b0b0" stroke-width="0.79"/>
<line x1="308.20" y1="312.24" x2="524.95" y2="312.24" stroke="#b0b0b0" stroke-width="0.79"/>
<line x1="308.20" y1="284.92" x2="524.95" y2="284.92" stroke="#b0b0b0" stroke-width="0.79"/>
<line x1="308.20" y1="257.59" x2="524.95" y2="257.59" stroke="#b0b0b0" stroke-width="0.79"/>
<line x1="308.20" y1="230.26" x2="524.95" y2="230.26" stroke="#b0b0b0" stroke-width="0.79"/>
<line x1="308.20" y1="202.94" x2="524.95" y2="202.94" stroke="#b0b0b0" stroke-width="0.79"/>
<polyline points="308.2,312.2 308.7,312.2 309.3,312.2 309.8,312.2 310.4,312.2 310.9,312.2 311.5,312.2 312.0,312.2 312.5,312.2 313.1,312.2 313.6,312.2 314.2,312.2 314.7,312.2 315.2,312.1 315.8,312.1 316.3,312.1 316.9,312.1 317.4,312.1 318.0,312.1 318.5,312.1 319.0,312.1 319.6,312.1 320.1,312.1 320.7,312.1 321.2,312.1 321.7,312.1 322.3,312.1 322.8,312.1 323.4,312.1 323.9,312.1 324.5,312.1 325.0,312.1 325.5,312.1 326.1,312.1 326.6,312.1 327.2,312.2 327.7,312.2 328.2,312.2 328.8,312.2 329.3,312.2 329.9,312.3 330.4,312.3 331.0,312.3 331.5,312.4 332.0,312.4 332.6,312.4 333.1,312.4 333.7,312.5 334.2,312.5 334.8,312.5 335.3,312.6 335.8,312.6 336.4,312.6 336.9,312.6 337.5,312.7 338.0,312.7 338.5,312.7 339.1,312.7 339.6,312.7 340.2,312.7 340.7,312.7 341.3,312.7 341.8,312.7 342.3,312.7 342.9,312.7 343.4,312.7 344.0,312.7 344.5,312.7 345.0,312.6 345.6,312.6 346.1,312.6 346.7,312.5 347.2,312.5 347.8,312.5 348.3,312.4 348.8,312.4 349.4,312.3 349.9,312.3 350.5,312.2 351.0,312.2 351.6,312.1 352.1,312.1 352.6,312.0 353.2,311.9 353.7,311.9 354.3,311.8 354.8,311.8 355.3,311.7 355.9,311.7 356.4,311.7 357.0,311.6 357.5,311.6 358.1,311.5 358.6,311.5 359.1,311.5 359.7,311.5 360.2,311.5 360.8,311.4 361.3,311.4 361.8,311.4 362.4,311.4 362.9,311.5 363.5,311.5 364.0,311.5 364.6,311.5 365.1,311.6 365.6,311.6 366.2,311.6 366.7,311.7 367.3,311.7 367.8,311.8 368.3,311.9 368.9,311.9 369.4,312.0 370.0,312.1 370.5,312.1 371.1,312.2 371.6,312.3 372.1,312.4 372.7,312.4 373.2,312.5 373.8,312.6 374.3,312.7 374.9,312.8 375.4,312.8 375.9,312.9 376.5,313.0 377.0,313.0 377.6,313.1 378.1,313.1 378.6,313.2 379.2,313.2 379.7,313.3 380.3,313.3 380.8,313.3 381.4,313.3 381.9,313.4 382.4,313.4 383.0,313.4 383.5,313.3 384.1,313.3 384.6,313.3 385.1,313.3 385.7,313.2 386.2,313.2 386.8,313.1 387.3,313.0 387.9,313.0 388.4,312.9 388.9,312.8 389.5,312.7 390.0,312.6 390.6,312.6 391.1,312.5 391.6,312.4 392.2,312.3 392.7,312.1 393.3,312.0 393.8,311.9 394.4,311.8 394.9,311.7 395.4,311.6 396.0,311.5 396.5,311.4 397.1,311.4 397.6,311.3 398.2,311.2 398.7,311.1 399.2,311.0 399.8,311.0 400.3,310.9 400.9,310.9 401.4,310.9 401.9,310.8 402.5,310.8 403.0,310.8 403.6,310.8 404.1,310.8 404.7,310.8 405.2,310.9 405.7,310.9 406.3,311.0 406.8,311.0 407.4,311.1 407.9,311.2 408.4,311.2 409.0,311.3 409.5,311.4 410.1,311.5 410.6,311.6 411.2,311.8 411.7,311.9 412.2,312.0 412.8,312.1 413.3,312.3 413.9,312.4 414.4,312.5 414.9,312.6 415.5,312.8 416.0,312.9 416.6,313.0 417.1,313.1 417.7,313.3 418.2,313.4 418.7,313.5 419.3,313.6 419.8,313.6 420.4,313.7 420.9,313.8 421.5,313.9 422.0,313.9 422.5,313.9 423.1,314.0 423.6,314.0 424.2,314.0 424.7,314.0 425.2,314.0 425.8,313.9 426.3,313.9 426.9,313.8 427.4,313.8 428.0,313.7 428.5,313.6 429.0,313.5 429.6,313.4 430.1,313.3 430.7,313.2 431.2,313.1 431.7,312.9 432.3,312.8 432.8,312.6 433.4,312.5 433.9,312.3 434.5,312.2 435.0,312.0 435.5,311.9 436.1,311.7 436.6,311.6 437.2,311.4 437.7,311.3 438.2,311.1 438.8,311.0 439.3,310.9 439.9,310.8 440.4,310.7 441.0,310.6 441.5,310.5 442.0,310.4 442.6,310.3 443.1,310.3 443.7,310.2 444.2,310.2 444.8,310.2 445.3,310.2 445.8,310.2 446.4,310.2 446.9,310.2 447.5,310.3 448.0,310.4 448.5,310.4 449.1,310.5 449.6,310.6 450.2,310.8 450.7,310.9 451.3,311.0 451.8,311.2 452.3,311.3 452.9,311.5 453.4,311.6 454.0,311.8 454.5,312.0 455.0,312.2 455.6,312.3 456.1,312.5 456.7,312.7 457.2,312.9 457.8,313.1 458.3,313.2 458.8,313.4 459.4,313.6 459.9,313.7 460.5,313.8 461.0,314.0 461.6,314.1 462.1,314.2 462.6,314.3 463.2,314.4 463.7,314.5 464.3,314.5 464.8,314.6 465.3,314.6 465.9,314.6 466.4,314.6 467.0,314.6 467.5,314.6 468.1,314.5 468.6,314.5 469.1,314.4 469.7,314.3 470.2,314.2 470.8,314.1 471.3,313.9 471.8,313.8 472.4,313.6 472.9,313.4 473.5,313.3 474.0,313.1 474.6,312.9 475.1,312.7 475.6,312.5 476.2,312.3 476.7,312.1 477.3,311.9 477.8,311.7 478.3,311.5 478.9,311.3 479.4,311.1 480.0,310.9 480.5,310.7 481.1,310.5 481.6,310.4 482.1,310.2 482.7,310.1 483.2,310.0 483.8,309.9 484.3,309.8 484.9,309.7 485.4,309.6 485.9,309.6 486.5,309.5 487.0,309.5 487.6,309.5 488.1,309.6 488.6,309.6 489.2,309.7 489.7,309.7 490.3,309.8 490.8,310.0 491.4,310.1 491.9,310.2 492.4,310.4 493.0,310.5 493.5,310.7 494.1,310.9 494.6,311.1 495.1,311.3 495.7,311.6 496.2,311.8 496.8,312.0 497.3,312.2 497.9,312.5 498.4,312.7 498.9,312.9 499.5,313.2 500.0,313.4 500.6,313.6 501.1,313.8 501.6,314.0 502.2,314.2 502.7,314.4 503.3,314.5 503.8,314.7 504.4,314.8 504.9,314.9 505.4,315.0 506.0,315.1 506.5,315.2 507.1,315.2 507.6,315.3 508.2,315.3 508.7,315.2 509.2,315.2 509.8,315.2 510.3,315.1 510.9,315.0 511.4,314.9 511.9,314.8 512.5,314.6 513.0,314.4 513.6,314.3 514.1,314.1 514.7,313.9 515.2,313.7 515.7,313.4 516.3,313.2 516.8,312.9 517.4,312.7 517.9,312.4 518.4,312.2 519.0,311.9 519.5,311.7 520.1,311.4 520.6,311.2 521.2,310.9 521.7,310.7 522.2,310.5 522.8,310.2 523.3,310.0 523.9,309.8 524.4,309.7 525.0,309.5" fill="none" stroke="#1f77b4" stroke-width="1.48" stroke-linejoin="round" clip-path="url(#cBR)"/>
<polyline points="308.2,312.2 308.7,312.2 309.3,312.2 309.8,312.2 310.4,312.2 310.9,312.3 311.5,312.3 312.0,312.3 312.5,312.3 313.1,312.3 313.6,312.3 314.2,312.3 314.7,312.3 315.2,312.3 315.8,312.3 316.3,312.3 316.9,312.3 317.4,312.3 318.0,312.4 318.5,312.4 319.0,312.4 319.6,312.4 320.1,312.4 320.7,312.4 321.2,312.4 321.7,312.4 322.3,312.4 322.8,312.4 323.4,312.4 323.9,312.4 324.5,312.4 325.0,312.4 325.5,312.3 326.1,312.3 326.6,312.3 327.2,312.3 327.7,312.3 328.2,312.3 328.8,312.3 329.3,312.2 329.9,312.2 330.4,312.2 331.0,312.2 331.5,312.1 332.0,312.1 332.6,312.1 333.1,312.1 333.7,312.0 334.2,312.0 334.8,312.0 335.3,312.0 335.8,312.0 336.4,311.9 336.9,311.9 337.5,311.9 338.0,311.9 338.5,311.9 339.1,311.9 339.6,311.9 340.2,311.9 340.7,311.9 341.3,311.9 341.8,311.9 342.3,311.9 342.9,311.9 343.4,311.9 344.0,311.9 344.5,311.9 345.0,311.9 345.6,312.0 346.1,312.0 346.7,312.0 347.2,312.0 347.8,312.1 348.3,312.1 348.8,312.1 349.4,312.2 349.9,312.2 350.5,312.3 351.0,312.3 351.6,312.3 352.1,312.4 352.6,312.4 353.2,312.5 353.7,312.5 354.3,312.6 354.8,312.6 355.3,312.6 355.9,312.7 356.4,312.7 357.0,312.7 357.5,312.8 358.1,312.8 358.6,312.8 359.1,312.8 359.7,312.9 360.2,312.9 360.8,312.9 361.3,312.9 361.8,312.9 362.4,312.9 362.9,312.9 363.5,312.9 364.0,312.8 364.6,312.8 365.1,312.8 365.6,312.8 366.2,312.7 366.7,312.7 367.3,312.6 367.8,312.6 368.3,312.5 368.9,312.5 369.4,312.4 370.0,312.4 370.5,312.3 371.1,312.3 371.6,312.2 372.1,312.1 372.7,312.1 373.2,312.0 373.8,311.9 374.3,311.9 374.9,311.8 375.4,311.8 375.9,311.7 376.5,311.7 377.0,311.6 377.6,311.6 378.1,311.5 378.6,311.5 379.2,311.4 379.7,311.4 380.3,311.4 380.8,311.4 381.4,311.4 381.9,311.3 382.4,311.3 383.0,311.4 383.5,311.4 384.1,311.4 384.6,311.4 385.1,311.4 385.7,311.5 386.2,311.5 386.8,311.5 387.3,311.6 387.9,311.7 388.4,311.7 388.9,311.8 389.5,311.8 390.0,311.9 390.6,312.0 391.1,312.1 391.6,312.1 392.2,312.2 392.7,312.3 393.3,312.4 393.8,312.5 394.4,312.6 394.9,312.6 395.4,312.7 396.0,312.8 396.5,312.9 397.1,312.9 397.6,313.0 398.2,313.1 398.7,313.1 399.2,313.2 399.8,313.2 400.3,313.3 400.9,313.3 401.4,313.3 401.9,313.4 402.5,313.4 403.0,313.4 403.6,313.4 404.1,313.4 404.7,313.4 405.2,313.3 405.7,313.3 406.3,313.3 406.8,313.2 407.4,313.2 407.9,313.1 408.4,313.0 409.0,313.0 409.5,312.9 410.1,312.8 410.6,312.7 411.2,312.6 411.7,312.5 412.2,312.4 412.8,312.3 413.3,312.2 413.9,312.1 414.4,312.0 414.9,311.9 415.5,311.8 416.0,311.7 416.6,311.6 417.1,311.5 417.7,311.4 418.2,311.3 418.7,311.3 419.3,311.2 419.8,311.1 420.4,311.1 420.9,311.0 421.5,311.0 422.0,310.9 422.5,310.9 423.1,310.9 423.6,310.8 424.2,310.8 424.7,310.8 425.2,310.9 425.8,310.9 426.3,310.9 426.9,311.0 427.4,311.0 428.0,311.1 428.5,311.1 429.0,311.2 429.6,311.3 430.1,311.4 430.7,311.5 431.2,311.6 431.7,311.7 432.3,311.8 432.8,311.9 433.4,312.0 433.9,312.2 434.5,312.3 435.0,312.4 435.5,312.5 436.1,312.7 436.6,312.8 437.2,312.9 437.7,313.0 438.2,313.1 438.8,313.2 439.3,313.3 439.9,313.4 440.4,313.5 441.0,313.6 441.5,313.7 442.0,313.7 442.6,313.8 443.1,313.8 443.7,313.9 444.2,313.9 444.8,313.9 445.3,313.9 445.8,313.9 446.4,313.9 446.9,313.8 447.5,313.8 448.0,313.7 448.5,313.7 449.1,313.6 449.6,313.5 450.2,313.4 450.7,313.3 451.3,313.2 451.8,313.1 452.3,313.0 452.9,312.9 453.4,312.7 454.0,312.6 454.5,312.4 455.0,312.3 455.6,312.2 456.1,312.0 456.7,311.9 457.2,311.7 457.8,311.6 458.3,311.5 458.8,311.3 459.4,311.2 459.9,311.1 460.5,311.0 461.0,310.8 461.6,310.7 462.1,310.7 462.6,310.6 463.2,310.5 463.7,310.4 464.3,310.4 464.8,310.4 465.3,310.3 465.9,310.3 466.4,310.3 467.0,310.3 467.5,310.4 468.1,310.4 468.6,310.5 469.1,310.5 469.7,310.6 470.2,310.7 470.8,310.8 471.3,310.9 471.8,311.0 472.4,311.1 472.9,311.3 473.5,311.4 474.0,311.6 474.6,311.7 475.1,311.9 475.6,312.0 476.2,312.2 476.7,312.4 477.3,312.5 477.8,312.7 478.3,312.9 478.9,313.0 479.4,313.2 480.0,313.3 480.5,313.5 481.1,313.6 481.6,313.7 482.1,313.9 482.7,314.0 483.2,314.1 483.8,314.1 484.3,314.2 484.9,314.3 485.4,314.3 485.9,314.4 486.5,314.4 487.0,314.4 487.6,314.4 488.1,314.4 488.6,314.3 489.2,314.3 489.7,314.2 490.3,314.2 490.8,314.1 491.4,314.0 491.9,313.9 492.4,313.7 493.0,313.6 493.5,313.4 494.1,313.3 494.6,313.1 495.1,313.0 495.7,312.8 496.2,312.6 496.8,312.4 497.3,312.2 497.9,312.1 498.4,311.9 498.9,311.7 499.5,311.5 500.0,311.3 500.6,311.2 501.1,311.0 501.6,310.8 502.2,310.7 502.7,310.5 503.3,310.4 503.8,310.3 504.4,310.2 504.9,310.1 505.4,310.0 506.0,309.9 506.5,309.9 507.1,309.8 507.6,309.8 508.2,309.8 508.7,309.8 509.2,309.9 509.8,309.9 510.3,310.0 510.9,310.0 511.4,310.1 511.9,310.2 512.5,310.3 513.0,310.5 513.6,310.6 514.1,310.8 514.7,310.9 515.2,311.1 515.7,311.3 516.3,311.5 516.8,311.7 517.4,311.9 517.9,312.1 518.4,312.3 519.0,312.5 519.5,312.7 520.1,312.9 520.6,313.1 521.2,313.3 521.7,313.5 522.2,313.7 522.8,313.8 523.3,314.0 523.9,314.2 524.4,314.3 525.0,314.4" fill="none" stroke="#ff7f0e" stroke-width="1.48" stroke-linejoin="round" clip-path="url(#cBR)"/>
<polyline points="308.2,312.2 308.7,312.2 309.3,312.2 309.8,312.2 310.4,312.2 310.9,312.2 311.5,312.2 312.0,312.2 312.5,312.2 313.1,312.2 313.6,312.1 314.2,312.1 314.7,312.1 315.2,312.1 315.8,312.1 316.3,312.1 316.9,312.1 317.4,312.1 318.0,312.1 318.5,312.1 319.0,312.1 319.6,312.2 320.1,312.2 320.7,312.2 321.2,312.2 321.7,312.2 322.3,312.2 322.8,312.3 323.4,312.3 323.9,312.3 324.5,312.3 325.0,312.4 325.5,312.4 326.1,312.4 326.6,312.4 327.2,312.5 327.7,312.5 328.2,312.5 328.8,312.5 329.3,312.6 329.9,312.6 330.4,312.6 331.0,312.6 331.5,312.7 332.0,312.7 332.6,312.7 333.1,312.7 333.7,312.7 334.2,312.7 334.8,312.7 335.3,312.7 335.8,312.7 336.4,312.7 336.9,312.7 337.5,312.7 338.0,312.6 338.5,312.6 339.1,312.6 339.6,312.6 340.2,312.5 340.7,312.5 341.3,312.4 341.8,312.4 342.3,312.4 342.9,312.3 343.4,312.3 344.0,312.2 344.5,312.1 345.0,312.1 345.6,312.0 346.1,312.0 346.7,311.9 347.2,311.9 347.8,311.8 348.3,311.8 348.8,311.7 349.4,311.7 349.9,311.6 350.5,311.6 351.0,311.5 351.6,311.5 352.1,311.5 352.6,311.5 353.2,311.4 353.7,311.4 354.3,311.4 354.8,311.4 355.3,311.4 355.9,311.4 356.4,311.4 357.0,311.4 357.5,311.5 358.1,311.5 358.6,311.5 359.1,311.6 359.7,311.6 360.2,311.7 360.8,311.7 361.3,311.8 361.8,311.9 362.4,311.9 362.9,312.0 363.5,312.1 364.0,312.2 364.6,312.2 365.1,312.3 365.6,312.4 366.2,312.5 366.7,312.6 367.3,312.7 367.8,312.7 368.3,312.8 368.9,312.9 369.4,313.0 370.0,313.1 370.5,313.1 371.1,313.2 371.6,313.2 372.1,313.3 372.7,313.3 373.2,313.4 373.8,313.4 374.3,313.4 374.9,313.4 375.4,313.5 375.9,313.5 376.5,313.5 377.0,313.4 377.6,313.4 378.1,313.4 378.6,313.3 379.2,313.3 379.7,313.2 380.3,313.2 380.8,313.1 381.4,313.0 381.9,312.9 382.4,312.8 383.0,312.8 383.5,312.7 384.1,312.5 384.6,312.4 385.1,312.3 385.7,312.2 386.2,312.1 386.8,312.0 387.3,311.9 387.9,311.8 388.4,311.6 388.9,311.5 389.5,311.4 390.0,311.3 390.6,311.2 391.1,311.1 391.6,311.0 392.2,311.0 392.7,310.9 393.3,310.8 393.8,310.8 394.4,310.7 394.9,310.7 395.4,310.7 396.0,310.6 396.5,310.6 397.1,310.6 397.6,310.7 398.2,310.7 398.7,310.7 399.2,310.8 399.8,310.8 400.3,310.9 400.9,311.0 401.4,311.1 401.9,311.2 402.5,311.3 403.0,311.4 403.6,311.5 404.1,311.6 404.7,311.7 405.2,311.9 405.7,312.0 406.3,312.2 406.8,312.3 407.4,312.5 407.9,312.6 408.4,312.7 409.0,312.9 409.5,313.0 410.1,313.2 410.6,313.3 411.2,313.4 411.7,313.5 412.2,313.7 412.8,313.8 413.3,313.9 413.9,313.9 414.4,314.0 414.9,314.1 415.5,314.1 416.0,314.2 416.6,314.2 417.1,314.2 417.7,314.2 418.2,314.2 418.7,314.2 419.3,314.1 419.8,314.1 420.4,314.0 420.9,314.0 421.5,313.9 422.0,313.8 422.5,313.7 423.1,313.5 423.6,313.4 424.2,313.3 424.7,313.1 425.2,313.0 425.8,312.8 426.3,312.6 426.9,312.5 427.4,312.3 428.0,312.1 428.5,311.9 429.0,311.8 429.6,311.6 430.1,311.4 430.7,311.3 431.2,311.1 431.7,310.9 432.3,310.8 432.8,310.6 433.4,310.5 433.9,310.4 434.5,310.3 435.0,310.2 435.5,310.1 436.1,310.0 436.6,310.0 437.2,309.9 437.7,309.9 438.2,309.9 438.8,309.9 439.3,309.9 439.9,309.9 440.4,310.0 441.0,310.0 441.5,310.1 442.0,310.2 442.6,310.3 443.1,310.4 443.7,310.6 444.2,310.7 444.8,310.9 445.3,311.1 445.8,311.2 446.4,311.4 446.9,311.6 447.5,311.8 448.0,312.0 448.5,312.2 449.1,312.4 449.6,312.6 450.2,312.8 450.7,313.0 451.3,313.2 451.8,313.4 452.3,313.6 452.9,313.8 453.4,314.0 454.0,314.1 454.5,314.3 455.0,314.4 455.6,314.6 456.1,314.7 456.7,314.8 457.2,314.8 457.8,314.9 458.3,314.9 458.8,315.0 459.4,315.0 459.9,315.0 460.5,314.9 461.0,314.9 461.6,314.8 462.1,314.8 462.6,314.7 463.2,314.6 463.7,314.4 464.3,314.3 464.8,314.1 465.3,313.9 465.9,313.8 466.4,313.6 467.0,313.4 467.5,313.1 468.1,312.9 468.6,312.7 469.1,312.5 469.7,312.2 470.2,312.0 470.8,311.7 471.3,311.5 471.8,311.3 472.4,311.0 472.9,310.8 473.5,310.6 474.0,310.4 474.6,310.2 475.1,310.0 475.6,309.9 476.2,309.7 476.7,309.6 477.3,309.4 477.8,309.3 478.3,309.3 478.9,309.2 479.4,309.1 480.0,309.1 480.5,309.1 481.1,309.1 481.6,309.2 482.1,309.2 482.7,309.3 483.2,309.4 483.8,309.5 484.3,309.6 484.9,309.8 485.4,310.0 485.9,310.2 486.5,310.4 487.0,310.6 487.6,310.8 488.1,311.0 488.6,311.3 489.2,311.5 489.7,311.8 490.3,312.1 490.8,312.3 491.4,312.6 491.9,312.9 492.4,313.1 493.0,313.4 493.5,313.6 494.1,313.9 494.6,314.1 495.1,314.4 495.7,314.6 496.2,314.8 496.8,315.0 497.3,315.1 497.9,315.3 498.4,315.4 498.9,315.5 499.5,315.6 500.0,315.7 500.6,315.7 501.1,315.7 501.6,315.7 502.2,315.7 502.7,315.7 503.3,315.6 503.8,315.5 504.4,315.4 504.9,315.3 505.4,315.1 506.0,314.9 506.5,314.7 507.1,314.5 507.6,314.3 508.2,314.1 508.7,313.8 509.2,313.5 509.8,313.3 510.3,313.0 510.9,312.7 511.4,312.4 511.9,312.1 512.5,311.8 513.0,311.5 513.6,311.2 514.1,310.9 514.7,310.6 515.2,310.3 515.7,310.1 516.3,309.8 516.8,309.6 517.4,309.4 517.9,309.2 518.4,309.0 519.0,308.8 519.5,308.7 520.1,308.6 520.6,308.5 521.2,308.4 521.7,308.4 522.2,308.4 522.8,308.4 523.3,308.4 523.9,308.5 524.4,308.5 525.0,308.6" fill="none" stroke="#2ca02c" stroke-width="1.48" stroke-linejoin="round" clip-path="url(#cBR)"/>
<polyline points="308.2,312.2 308.7,312.2 309.3,312.2 309.8,312.1 310.4,312.1 310.9,312.1 311.5,312.1 312.0,312.2 312.5,312.2 313.1,312.2 313.6,312.3 314.2,312.4 314.7,312.5 315.2,312.6 315.8,312.7 316.3,312.8 316.9,312.9 317.4,313.0 318.0,313.1 318.5,313.3 319.0,313.4 319.6,313.6 320.1,313.7 320.7,313.8 321.2,313.9 321.7,314.1 322.3,314.2 322.8,314.3 323.4,314.4 323.9,314.4 324.5,314.5 325.0,314.5 325.5,314.5 326.1,314.6 326.6,314.5 327.2,314.5 327.7,314.4 328.2,314.4 328.8,314.3 329.3,314.1 329.9,314.0 330.4,313.8 331.0,313.7 331.5,313.4 332.0,313.2 332.6,313.0 333.1,312.7 333.7,312.4 334.2,312.2 334.8,311.9 335.3,311.5 335.8,311.2 336.4,310.9 336.9,310.6 337.5,310.3 338.0,309.9 338.5,309.6 339.1,309.3 339.6,309.0 340.2,308.7 340.7,308.4 341.3,308.2 341.8,308.0 342.3,307.7 342.9,307.6 343.4,307.4 344.0,307.3 344.5,307.2 345.0,307.1 345.6,307.1 346.1,307.1 346.7,307.1 347.2,307.2 347.8,307.4 348.3,307.5 348.8,307.7 349.4,307.9 349.9,308.2 350.5,308.5 351.0,308.8 351.6,309.2 352.1,309.6 352.6,310.0 353.2,310.5 353.7,311.0 354.3,311.5 354.8,312.0 355.3,312.5 355.9,313.0 356.4,313.6 357.0,314.1 357.5,314.7 358.1,315.2 358.6,315.8 359.1,316.3 359.7,316.8 360.2,317.3 360.8,317.7 361.3,318.2 361.8,318.6 362.4,318.9 362.9,319.3 363.5,319.6 364.0,319.8 364.6,320.0 365.1,320.1 365.6,320.2 366.2,320.3 366.7,320.3 367.3,320.2 367.8,320.1 368.3,319.9 368.9,319.7 369.4,319.4 370.0,319.0 370.5,318.7 371.1,318.2 371.6,317.7 372.1,317.2 372.7,316.6 373.2,316.0 373.8,315.3 374.3,314.7 374.9,313.9 375.4,313.2 375.9,312.5 376.5,311.7 377.0,310.9 377.6,310.1 378.1,309.3 378.6,308.6 379.2,307.8 379.7,307.1 380.3,306.4 380.8,305.7 381.4,305.0 381.9,304.4 382.4,303.8 383.0,303.3 383.5,302.8 384.1,302.4 384.6,302.1 385.1,301.8 385.7,301.6 386.2,301.4 386.8,301.3 387.3,301.3 387.9,301.4 388.4,301.5 388.9,301.7 389.5,302.0 390.0,302.3 390.6,302.7 391.1,303.2 391.6,303.8 392.2,304.4 392.7,305.1 393.3,305.8 393.8,306.6 394.4,307.5 394.9,308.3 395.4,309.3 396.0,310.2 396.5,311.2 397.1,312.2 397.6,313.2 398.2,314.2 398.7,315.2 399.2,316.2 399.8,317.2 400.3,318.2 400.9,319.1 401.4,320.0 401.9,320.9 402.5,321.7 403.0,322.5 403.6,323.2 404.1,323.8 404.7,324.4 405.2,324.9 405.7,325.3 406.3,325.6 406.8,325.9 407.4,326.0 407.9,326.1 408.4,326.1 409.0,326.0 409.5,325.8 410.1,325.5 410.6,325.1 411.2,324.6 411.7,324.0 412.2,323.4 412.8,322.6 413.3,321.8 413.9,321.0 414.4,320.0 414.9,319.0 415.5,317.9 416.0,316.8 416.6,315.7 417.1,314.5 417.7,313.3 418.2,312.0 418.7,310.8 419.3,309.5 419.8,308.3 420.4,307.1 420.9,305.9 421.5,304.7 422.0,303.6 422.5,302.5 423.1,301.4 423.6,300.5 424.2,299.6 424.7,298.7 425.2,298.0 425.8,297.3 426.3,296.8 426.9,296.3 427.4,295.9 428.0,295.7 428.5,295.5 429.0,295.5 429.6,295.5 430.1,295.7 430.7,296.0 431.2,296.4 431.7,296.9 432.3,297.5 432.8,298.2 433.4,299.0 433.9,299.9 434.5,300.9 435.0,302.0 435.5,303.2 436.1,304.4 436.6,305.7 437.2,307.1 437.7,308.4 438.2,309.9 438.8,311.3 439.3,312.8 439.9,314.3 440.4,315.8 441.0,317.2 441.5,318.7 442.0,320.1 442.6,321.5 443.1,322.8 443.7,324.1 444.2,325.3 444.8,326.4 445.3,327.4 445.8,328.4 446.4,329.2 446.9,330.0 447.5,330.6 448.0,331.1 448.5,331.5 449.1,331.8 449.6,331.9 450.2,331.9 450.7,331.8 451.3,331.6 451.8,331.2 452.3,330.7 452.9,330.0 453.4,329.3 454.0,328.4 454.5,327.4 455.0,326.3 455.6,325.1 456.1,323.9 456.7,322.5 457.2,321.0 457.8,319.5 458.3,317.9 458.8,316.3 459.4,314.6 459.9,312.9 460.5,311.2 461.0,309.5 461.6,307.8 462.1,306.1 462.6,304.4 463.2,302.8 463.7,301.2 464.3,299.7 464.8,298.2 465.3,296.9 465.9,295.6 466.4,294.5 467.0,293.4 467.5,292.5 468.1,291.6 468.6,291.0 469.1,290.4 469.7,290.0 470.2,289.7 470.8,289.6 471.3,289.6 471.8,289.8 472.4,290.2 472.9,290.6 473.5,291.3 474.0,292.0 474.6,292.9 475.1,294.0 475.6,295.1 476.2,296.4 476.7,297.8 477.3,299.3 477.8,300.9 478.3,302.6 478.9,304.4 479.4,306.2 480.0,308.0 480.5,310.0 481.1,311.9 481.6,313.8 482.1,315.8 482.7,317.7 483.2,319.7 483.8,321.5 484.3,323.4 484.9,325.1 485.4,326.8 485.9,328.5 486.5,330.0 487.0,331.4 487.6,332.7 488.1,333.8 488.6,334.8 489.2,335.7 489.7,336.5 490.3,337.0 490.8,337.5 491.4,337.7 491.9,337.8 492.4,337.7 493.0,337.5 493.5,337.0 494.1,336.5 494.6,335.7 495.1,334.8 495.7,333.7 496.2,332.5 496.8,331.2 497.3,329.7 497.9,328.1 498.4,326.4 498.9,324.6 499.5,322.6 500.0,320.7 500.6,318.6 501.1,316.5 501.6,314.3 502.2,312.1 502.7,310.0 503.3,307.8 503.8,305.6 504.4,303.5 504.9,301.4 505.4,299.3 506.0,297.4 506.5,295.5 507.1,293.7 507.6,292.1 508.2,290.5 508.7,289.1 509.2,287.9 509.8,286.8 510.3,285.8 510.9,285.1 511.4,284.5 511.9,284.1 512.5,283.8 513.0,283.8 513.6,283.9 514.1,284.2 514.7,284.8 515.2,285.5 515.7,286.3 516.3,287.4 516.8,288.6 517.4,290.0 517.9,291.5 518.4,293.2 519.0,295.0 519.5,297.0 520.1,299.0 520.6,301.2 521.2,303.4 521.7,305.7 522.2,308.1 522.8,310.5 523.3,312.9 523.9,315.3 524.4,317.7 525.0,320.1" fill="none" stroke="#d62728" stroke-width="1.48" stroke-linejoin="round" clip-path="url(#cBR)"/>
<polyline points="308.2,312.2 308.7,312.4 309.3,312.6 309.8,312.8 310.4,313.0 310.9,313.3 311.5,313.5 312.0,313.7 312.5,313.9 313.1,314.2 313.6,314.4 314.2,314.6 314.7,314.8 315.2,314.9 315.8,315.0 316.3,315.1 316.9,315.2 317.4,315.2 318.0,315.2 318.5,315.1 319.0,315.0 319.6,314.9 320.1,314.7 320.7,314.4 321.2,314.1 321.7,313.8 322.3,313.4 322.8,313.0 323.4,312.6 323.9,312.1 324.5,311.5 325.0,311.0 325.5,310.4 326.1,309.8 326.6,309.2 327.2,308.5 327.7,307.9 328.2,307.3 328.8,306.6 329.3,306.0 329.9,305.4 330.4,304.8 331.0,304.3 331.5,303.8 332.0,303.3 332.6,302.9 333.1,302.5 333.7,302.2 334.2,301.9 334.8,301.7 335.3,301.6 335.8,301.6 336.4,301.6 336.9,301.8 337.5,302.0 338.0,302.3 338.5,302.6 339.1,303.1 339.6,303.6 340.2,304.2 340.7,304.9 341.3,305.7 341.8,306.6 342.3,307.5 342.9,308.5 343.4,309.5 344.0,310.6 344.5,311.7 345.0,312.9 345.6,314.1 346.1,315.3 346.7,316.6 347.2,317.8 347.8,319.1 348.3,320.3 348.8,321.5 349.4,322.7 349.9,323.8 350.5,324.9 351.0,325.9 351.6,326.9 352.1,327.7 352.6,328.5 353.2,329.2 353.7,329.8 354.3,330.3 354.8,330.7 355.3,330.9 355.9,331.1 356.4,331.1 357.0,330.9 357.5,330.7 358.1,330.3 358.6,329.8 359.1,329.1 359.7,328.3 360.2,327.4 360.8,326.4 361.3,325.2 361.8,324.0 362.4,322.6 362.9,321.1 363.5,319.6 364.0,317.9 364.6,316.2 365.1,314.4 365.6,312.6 366.2,310.8 366.7,308.9 367.3,307.0 367.8,305.1 368.3,303.2 368.9,301.4 369.4,299.6 370.0,297.8 370.5,296.1 371.1,294.5 371.6,293.0 372.1,291.6 372.7,290.2 373.2,289.1 373.8,288.0 374.3,287.1 374.9,286.4 375.4,285.8 375.9,285.4 376.5,285.2 377.0,285.1 377.6,285.3 378.1,285.6 378.6,286.1 379.2,286.8 379.7,287.6 380.3,288.7 380.8,289.9 381.4,291.3 381.9,292.8 382.4,294.5 383.0,296.3 383.5,298.3 384.1,300.4 384.6,302.6 385.1,304.9 385.7,307.3 386.2,309.8 386.8,312.3 387.3,314.8 387.9,317.4 388.4,319.9 388.9,322.5 389.5,325.0 390.0,327.4 390.6,329.8 391.1,332.1 391.6,334.3 392.2,336.4 392.7,338.3 393.3,340.1 393.8,341.7 394.4,343.2 394.9,344.5 395.4,345.5 396.0,346.4 396.5,347.0 397.1,347.4 397.6,347.6 398.2,347.6 398.7,347.3 399.2,346.8 399.8,346.0 400.3,345.0 400.9,343.8 401.4,342.4 401.9,340.7 402.5,338.8 403.0,336.8 403.6,334.5 404.1,332.1 404.7,329.5 405.2,326.7 405.7,323.9 406.3,320.9 406.8,317.8 407.4,314.7 407.9,311.5 408.4,308.3 409.0,305.1 409.5,301.9 410.1,298.7 410.6,295.6 411.2,292.5 411.7,289.6 412.2,286.7 412.8,284.1 413.3,281.5 413.9,279.2 414.4,277.0 414.9,275.1 415.5,273.4 416.0,271.9 416.6,270.7 417.1,269.7 417.7,269.0 418.2,268.6 418.7,268.5 419.3,268.7 419.8,269.2 420.4,269.9 420.9,271.0 421.5,272.3 422.0,273.9 422.5,275.8 423.1,277.9 423.6,280.3 424.2,282.9 424.7,285.7 425.2,288.8 425.8,292.0 426.3,295.4 426.9,298.9 427.4,302.5 428.0,306.3 428.5,310.1 429.0,314.0 429.6,317.9 430.1,321.8 430.7,325.6 431.2,329.4 431.7,333.2 432.3,336.8 432.8,340.3 433.4,343.6 433.9,346.8 434.5,349.7 435.0,352.5 435.5,354.9 436.1,357.2 436.6,359.1 437.2,360.8 437.7,362.1 438.2,363.2 438.8,363.9 439.3,364.2 439.9,364.2 440.4,363.9 441.0,363.3 441.5,362.2 442.0,360.9 442.6,359.2 443.1,357.2 443.7,354.9 444.2,352.3 444.8,349.4 445.3,346.2 445.8,342.8 446.4,339.1 446.9,335.2 447.5,331.2 448.0,327.0 448.5,322.7 449.1,318.2 449.6,313.7 450.2,309.2 450.7,304.6 451.3,300.1 451.8,295.6 452.3,291.1 452.9,286.8 453.4,282.6 454.0,278.6 454.5,274.8 455.0,271.2 455.6,267.8 456.1,264.7 456.7,261.9 457.2,259.4 457.8,257.2 458.3,255.4 458.8,254.0 459.4,252.9 459.9,252.2 460.5,251.9 461.0,252.0 461.6,252.5 462.1,253.4 462.6,254.7 463.2,256.3 463.7,258.4 464.3,260.8 464.8,263.6 465.3,266.7 465.9,270.2 466.4,273.9 467.0,278.0 467.5,282.2 468.1,286.8 468.6,291.5 469.1,296.3 469.7,301.4 470.2,306.5 470.8,311.7 471.3,316.9 471.8,322.1 472.4,327.3 472.9,332.5 473.5,337.5 474.0,342.4 474.6,347.2 475.1,351.7 475.6,356.0 476.2,360.1 476.7,363.8 477.3,367.3 477.8,370.4 478.3,373.1 478.9,375.4 479.4,377.4 480.0,378.9 480.5,380.0 481.1,380.7 481.6,380.9 482.1,380.7 482.7,380.0 483.2,378.8 483.8,377.3 484.3,375.2 484.9,372.8 485.4,369.9 485.9,366.6 486.5,363.0 487.0,359.0 487.6,354.6 488.1,350.0 488.6,345.1 489.2,339.9 489.7,334.5 490.3,329.0 490.8,323.3 491.4,317.5 491.9,311.6 492.4,305.7 493.0,299.8 493.5,293.9 494.1,288.2 494.6,282.5 495.1,277.0 495.7,271.8 496.2,266.7 496.8,262.0 497.3,257.5 497.9,253.4 498.4,249.6 498.9,246.2 499.5,243.3 500.0,240.7 500.6,238.7 501.1,237.1 501.6,236.0 502.2,235.4 502.7,235.3 503.3,235.7 503.8,236.6 504.4,238.0 504.9,239.9 505.4,242.3 506.0,245.2 506.5,248.5 507.1,252.3 507.6,256.5 508.2,261.0 508.7,266.0 509.2,271.2 509.8,276.8 510.3,282.7 510.9,288.7 511.4,295.0 511.9,301.3 512.5,307.8 513.0,314.4 513.6,321.0 514.1,327.6 514.7,334.0 515.2,340.4 515.7,346.7 516.3,352.7 516.8,358.5 517.4,364.0 517.9,369.2 518.4,374.1 519.0,378.6 519.5,382.7 520.1,386.3 520.6,389.5 521.2,392.1 521.7,394.3 522.2,395.9 522.8,397.0 523.3,397.5 523.9,397.5 524.4,396.9 525.0,395.7" fill="none" stroke="#9467bd" stroke-width="1.48" stroke-linejoin="round" clip-path="url(#cBR)"/>
<polyline points="308.2,312.2 308.7,312.1 309.3,312.0 309.8,312.0 310.4,311.9 310.9,311.9 311.5,312.0 312.0,312.0 312.5,312.1 313.1,312.2 313.6,312.4 314.2,312.6 314.7,312.8 315.2,313.1 315.8,313.4 316.3,313.7 316.9,314.0 317.4,314.3 318.0,314.7 318.5,315.0 319.0,315.4 319.6,315.8 320.1,316.1 320.7,316.5 321.2,316.8 321.7,317.1 322.3,317.4 322.8,317.7 323.4,317.9 323.9,318.1 324.5,318.3 325.0,318.4 325.5,318.4 326.1,318.4 326.6,318.4 327.2,318.3 327.7,318.2 328.2,318.0 328.8,317.7 329.3,317.4 329.9,317.0 330.4,316.5 331.0,316.0 331.5,315.5 332.0,314.9 332.6,314.2 333.1,313.5 333.7,312.8 334.2,312.0 334.8,311.2 335.3,310.4 335.8,309.5 336.4,308.7 336.9,307.8 337.5,306.9 338.0,306.0 338.5,305.2 339.1,304.4 339.6,303.5 340.2,302.8 340.7,302.0 341.3,301.4 341.8,300.7 342.3,300.2 342.9,299.7 343.4,299.3 344.0,298.9 344.5,298.7 345.0,298.5 345.6,298.4 346.1,298.5 346.7,298.6 347.2,298.8 347.8,299.1 348.3,299.5 348.8,300.1 349.4,300.7 349.9,301.4 350.5,302.2 351.0,303.1 351.6,304.1 352.1,305.2 352.6,306.3 353.2,307.5 353.7,308.8 354.3,310.2 354.8,311.5 355.3,313.0 355.9,314.4 356.4,315.9 357.0,317.3 357.5,318.8 358.1,320.3 358.6,321.7 359.1,323.1 359.7,324.5 360.2,325.8 360.8,327.0 361.3,328.2 361.8,329.2 362.4,330.2 362.9,331.1 363.5,331.9 364.0,332.5 364.6,333.1 365.1,333.4 365.6,333.7 366.2,333.8 366.7,333.8 367.3,333.6 367.8,333.3 368.3,332.8 368.9,332.2 369.4,331.4 370.0,330.5 370.5,329.5 371.1,328.3 371.6,327.0 372.1,325.5 372.7,324.0 373.2,322.3 373.8,320.6 374.3,318.7 374.9,316.8 375.4,314.8 375.9,312.8 376.5,310.7 377.0,308.7 377.6,306.6 378.1,304.5 378.6,302.4 379.2,300.4 379.7,298.4 380.3,296.5 380.8,294.6 381.4,292.9 381.9,291.2 382.4,289.7 383.0,288.3 383.5,287.0 384.1,285.9 384.6,284.9 385.1,284.2 385.7,283.5 386.2,283.1 386.8,282.9 387.3,282.9 387.9,283.0 388.4,283.4 388.9,283.9 389.5,284.7 390.0,285.6 390.6,286.7 391.1,288.1 391.6,289.6 392.2,291.2 392.7,293.1 393.3,295.0 393.8,297.2 394.4,299.4 394.9,301.8 395.4,304.2 396.0,306.8 396.5,309.4 397.1,312.1 397.6,314.8 398.2,317.5 398.7,320.2 399.2,322.9 399.8,325.6 400.3,328.2 400.9,330.7 401.4,333.1 401.9,335.5 402.5,337.6 403.0,339.7 403.6,341.6 404.1,343.3 404.7,344.8 405.2,346.2 405.7,347.3 406.3,348.2 406.8,348.8 407.4,349.3 407.9,349.5 408.4,349.4 409.0,349.1 409.5,348.5 410.1,347.7 410.6,346.7 411.2,345.4 411.7,343.9 412.2,342.2 412.8,340.2 413.3,338.0 413.9,335.7 414.4,333.1 414.9,330.4 415.5,327.5 416.0,324.6 416.6,321.5 417.1,318.3 417.7,315.0 418.2,311.7 418.7,308.4 419.3,305.0 419.8,301.7 420.4,298.4 420.9,295.1 421.5,292.0 422.0,288.9 422.5,286.0 423.1,283.2 423.6,280.6 424.2,278.2 424.7,276.0 425.2,274.0 425.8,272.2 426.3,270.7 426.9,269.4 427.4,268.4 428.0,267.7 428.5,267.3 429.0,267.2 429.6,267.4 430.1,267.8 430.7,268.6 431.2,269.7 431.7,271.0 432.3,272.7 432.8,274.6 433.4,276.8 433.9,279.2 434.5,281.9 435.0,284.8 435.5,287.9 436.1,291.2 436.6,294.7 437.2,298.3 437.7,302.1 438.2,305.9 438.8,309.8 439.3,313.8 439.9,317.7 440.4,321.7 441.0,325.7 441.5,329.6 442.0,333.4 442.6,337.1 443.1,340.6 443.7,344.0 444.2,347.3 444.8,350.3 445.3,353.1 445.8,355.6 446.4,357.9 446.9,359.9 447.5,361.6 448.0,362.9 448.5,364.0 449.1,364.7 449.6,365.1 450.2,365.1 450.7,364.8 451.3,364.1 451.8,363.1 452.3,361.8 452.9,360.1 453.4,358.0 454.0,355.7 454.5,353.0 455.0,350.1 455.6,346.9 456.1,343.4 456.7,339.7 457.2,335.8 457.8,331.7 458.3,327.5 458.8,323.1 459.4,318.6 459.9,314.1 460.5,309.5 461.0,304.8 461.6,300.2 462.1,295.7 462.6,291.2 463.2,286.8 463.7,282.6 464.3,278.6 464.8,274.7 465.3,271.0 465.9,267.6 466.4,264.5 467.0,261.7 467.5,259.1 468.1,256.9 468.6,255.1 469.1,253.6 469.7,252.5 470.2,251.8 470.8,251.5 471.3,251.6 471.8,252.1 472.4,253.0 472.9,254.2 473.5,255.9 474.0,258.0 474.6,260.4 475.1,263.2 475.6,266.3 476.2,269.8 476.7,273.5 477.3,277.5 477.8,281.8 478.3,286.4 478.9,291.1 479.4,296.0 480.0,301.0 480.5,306.1 481.1,311.3 481.6,316.6 482.1,321.8 482.7,327.0 483.2,332.2 483.8,337.2 484.3,342.1 484.9,346.9 485.4,351.4 485.9,355.8 486.5,359.8 487.0,363.6 487.6,367.1 488.1,370.2 488.6,372.9 489.2,375.3 489.7,377.3 490.3,378.8 490.8,379.9 491.4,380.6 491.9,380.8 492.4,380.6 493.0,379.9 493.5,378.8 494.1,377.3 494.6,375.3 495.1,372.8 495.7,370.0 496.2,366.7 496.8,363.1 497.3,359.1 497.9,354.8 498.4,350.2 498.9,345.3 499.5,340.2 500.0,334.8 500.6,329.3 501.1,323.6 501.6,317.8 502.2,312.0 502.7,306.1 503.3,300.2 503.8,294.4 504.4,288.7 504.9,283.0 505.4,277.6 506.0,272.3 506.5,267.3 507.1,262.5 507.6,258.1 508.2,254.0 508.7,250.2 509.2,246.8 509.8,243.9 510.3,241.3 510.9,239.3 511.4,237.7 511.9,236.6 512.5,235.9 513.0,235.8 513.6,236.2 514.1,237.1 514.7,238.4 515.2,240.3 515.7,242.7 516.3,245.5 516.8,248.8 517.4,252.5 517.9,256.6 518.4,261.2 519.0,266.0 519.5,271.3 520.1,276.8 520.6,282.5 521.2,288.5 521.7,294.7 522.2,301.0 522.8,307.5 523.3,314.0 523.9,320.5 524.4,327.0 525.0,333.4" fill="none" stroke="#8c564b" stroke-width="1.48" stroke-linejoin="round" clip-path="url(#cBR)"/>
<polyline points="308.2,311.5 308.9,312.0 309.5,312.2 310.2,312.4 310.8,312.2 311.5,312.8 312.1,311.9 312.8,312.6 313.5,311.9 314.1,312.2 314.8,311.6 315.4,312.2 316.1,311.7 316.7,312.7 317.4,311.9 318.1,312.4 318.7,312.1 319.4,312.2 320.0,311.7 320.7,313.3 321.3,312.1 322.0,313.1 322.6,311.6 323.3,313.3 324.0,312.8 324.6,313.2 325.3,311.3 325.9,312.9 326.6,312.2 327.2,312.5 327.9,313.2 328.6,312.4 329.2,311.9 329.9,312.3 330.5,311.7 331.2,312.4 331.8,312.2 332.5,312.5 333.2,312.1 333.8,311.2 334.5,312.0 335.1,312.1 335.8,312.6 336.4,312.7 337.1,311.4 337.8,312.8 338.4,312.7 339.1,312.3 339.7,312.5 340.4,311.2 341.0,313.5 341.7,312.0 342.4,311.9 343.0,312.9 343.7,312.6 344.3,312.0 345.0,311.3 345.6,312.7 346.3,313.1 347.0,311.7 347.6,311.4 348.3,312.4 348.9,313.4 349.6,311.4 350.2,312.3 350.9,311.6 351.6,312.3 352.2,312.4 352.9,312.5 353.5,311.4 354.2,311.5 354.8,313.4 355.5,312.8 356.1,311.3 356.8,312.4 357.5,313.0 358.1,312.2 358.8,312.3 359.4,312.3 360.1,312.5 360.7,312.4 361.4,312.5 362.1,312.1 362.7,312.7 363.4,312.4 364.0,312.3 364.7,311.5 365.3,312.0 366.0,312.3 366.7,311.9 367.3,312.0 368.0,311.6 368.6,312.0 369.3,311.3 369.9,311.5 370.6,312.3 371.3,312.5 371.9,311.8 372.6,312.0 373.2,312.3 373.9,313.0 374.5,313.2 375.2,312.0 375.9,311.8 376.5,311.8 377.2,312.9 377.8,311.7 378.5,312.5 379.1,312.0 379.8,312.0 380.4,312.7 381.1,312.6 381.8,313.4 382.4,312.7 383.1,313.2 383.7,312.0 384.4,312.2 385.0,311.7 385.7,312.0 386.4,312.6 387.0,312.1 387.7,312.5 388.3,311.9 389.0,312.1 389.6,312.8 390.3,312.2 391.0,312.2 391.6,312.4 392.3,311.8 392.9,311.3 393.6,312.4 394.2,312.4 394.9,313.5 395.6,312.3 396.2,312.5 396.9,313.4 397.5,312.1 398.2,311.9 398.8,312.6 399.5,312.4 400.2,312.8 400.8,311.8 401.5,313.1 402.1,312.4 402.8,311.2 403.4,312.2 404.1,312.0 404.8,312.3 405.4,312.9 406.1,312.3 406.7,312.0 407.4,312.8 408.0,312.1 408.7,311.6 409.4,311.7 410.0,313.1 410.7,312.8 411.3,313.1 412.0,311.7 412.6,311.9 413.3,311.9 413.9,312.7 414.6,312.9 415.3,312.2 415.9,312.2 416.6,312.7 417.2,312.2 417.9,311.9 418.5,312.1 419.2,312.8 419.9,313.4 420.5,312.4 421.2,312.2 421.8,312.4 422.5,312.5 423.1,312.6 423.8,311.8 424.5,312.3 425.1,312.2 425.8,312.8 426.4,312.6 427.1,312.2 427.7,312.8 428.4,312.9 429.1,312.4 429.7,311.6 430.4,312.1 431.0,311.4 431.7,312.3 432.3,312.4 433.0,313.0 433.7,312.6 434.3,311.5 435.0,312.1 435.6,311.8 436.3,311.9 436.9,312.2 437.6,312.4 438.2,312.2 438.9,311.9 439.6,312.0 440.2,312.0 440.9,312.2 441.5,312.7 442.2,312.4 442.8,312.8 443.5,311.7 444.2,313.4 444.8,312.4 445.5,310.9 446.1,312.4 446.8,312.9 447.4,312.2 448.1,311.5 448.8,312.3 449.4,311.9 450.1,312.2 450.7,312.4 451.4,310.5 452.0,312.2 452.7,312.5 453.4,312.5 454.0,312.0 454.7,312.0 455.3,311.8 456.0,312.2 456.6,313.0 457.3,311.9 458.0,312.4 458.6,312.4 459.3,313.1 459.9,312.6 460.6,312.6 461.2,312.3 461.9,313.0 462.6,312.2 463.2,312.2 463.9,312.9 464.5,312.6 465.2,312.7 465.8,311.7 466.5,313.6 467.1,312.4 467.8,313.1 468.5,312.5 469.1,311.8 469.8,312.6 470.4,312.2 471.1,312.7 471.7,311.2 472.4,311.7 473.1,311.6 473.7,313.0 474.4,312.8 475.0,311.6 475.7,312.3 476.3,312.4 477.0,312.1 477.7,312.9 478.3,311.8 479.0,312.2 479.6,312.0 480.3,312.6 480.9,312.0 481.6,312.6 482.3,311.7 482.9,311.6 483.6,311.7 484.2,312.0 484.9,311.9 485.5,313.7 486.2,311.8 486.9,312.4 487.5,312.2 488.2,312.4 488.8,313.0 489.5,312.5 490.1,311.9 490.8,311.5 491.5,312.6 492.1,312.7 492.8,311.4 493.4,312.7 494.1,311.1 494.7,312.2 495.4,312.7 496.1,311.7 496.7,311.3 497.4,313.0 498.0,311.4 498.7,312.4 499.3,311.4 500.0,312.4 500.6,313.1 501.3,312.0 502.0,311.7 502.6,311.1 503.3,311.3 503.9,311.9 504.6,312.4 505.2,312.5 505.9,312.4 506.6,312.7 507.2,312.4 507.9,313.6 508.5,312.1 509.2,312.3 509.8,310.8 510.5,311.8 511.2,312.5 511.8,311.9 512.5,312.9 513.1,312.6 513.8,313.3 514.4,311.5 515.1,311.9 515.8,312.9 516.4,312.3 517.1,311.7 517.7,312.0 518.4,312.0 519.0,312.7 519.7,312.6 520.4,312.2 521.0,311.7 521.7,312.7 522.3,312.9 523.0,311.6 523.6,312.7 524.3,311.7 525.0,312.1" fill="none" stroke="#e377c2" stroke-width="1.48" stroke-linejoin="round" clip-path="url(#cBR)"/>
<polyline points="308.2,311.8 308.9,311.3 309.5,311.9 310.2,311.8 310.8,312.7 311.5,312.6 312.1,311.9 312.8,311.4 313.5,311.5 314.1,311.0 314.8,312.1 315.4,312.1 316.1,311.7 316.7,312.2 317.4,312.3 318.1,312.8 318.7,311.7 319.4,312.8 320.0,312.0 320.7,313.0 321.3,311.6 322.0,312.8 322.6,311.8 323.3,313.1 324.0,312.5 324.6,311.6 325.3,312.7 325.9,312.2 326.6,312.5 327.2,313.5 327.9,312.1 328.6,312.0 329.2,312.8 329.9,311.9 330.5,312.7 331.2,312.8 331.8,312.2 332.5,312.6 333.2,311.0 333.8,313.1 334.5,311.8 335.1,311.7 335.8,313.3 336.4,313.2 337.1,311.9 337.8,312.5 338.4,312.0 339.1,311.6 339.7,312.4 340.4,312.8 341.0,313.7 341.7,312.1 342.4,312.7 343.0,312.1 343.7,312.1 344.3,313.0 345.0,311.3 345.6,311.6 346.3,311.8 347.0,312.9 347.6,312.5 348.3,312.5 348.9,312.5 349.6,312.9 350.2,312.0 350.9,312.1 351.6,312.0 352.2,312.5 352.9,311.5 353.5,312.1 354.2,313.7 354.8,312.6 355.5,312.3 356.1,311.7 356.8,312.4 357.5,312.4 358.1,312.6 358.8,311.9 359.4,312.5 360.1,312.6 360.7,312.6 361.4,311.9 362.1,312.5 362.7,313.2 363.4,311.9 364.0,312.6 364.7,312.0 365.3,312.0 366.0,311.6 366.7,311.7 367.3,312.6 368.0,312.3 368.6,312.9 369.3,311.3 369.9,312.0 370.6,311.5 371.3,312.4 371.9,313.4 372.6,311.4 373.2,312.2 373.9,312.2 374.5,312.2 375.2,311.9 375.9,311.9 376.5,313.1 377.2,311.6 377.8,312.5 378.5,312.5 379.1,311.3 379.8,311.7 380.4,312.4 381.1,313.3 381.8,312.2 382.4,311.9 383.1,312.3 383.7,312.9 384.4,312.7 385.0,312.9 385.7,312.1 386.4,311.8 387.0,311.7 387.7,312.6 388.3,312.1 389.0,311.9 389.6,312.5 390.3,312.3 391.0,311.1 391.6,312.1 392.3,311.8 392.9,312.5 393.6,312.2 394.2,313.2 394.9,312.3 395.6,311.6 396.2,311.1 396.9,311.6 397.5,311.9 398.2,312.2 398.8,312.6 399.5,312.3 400.2,311.9 400.8,312.7 401.5,311.7 402.1,312.8 402.8,313.2 403.4,312.8 404.1,313.2 404.8,313.0 405.4,311.6 406.1,312.3 406.7,312.1 407.4,311.6 408.0,311.6 408.7,312.5 409.4,311.5 410.0,312.0 410.7,312.2 411.3,312.0 412.0,313.0 412.6,312.7 413.3,312.3 413.9,311.9 414.6,312.4 415.3,312.3 415.9,311.7 416.6,311.5 417.2,311.8 417.9,311.5 418.5,312.5 419.2,312.4 419.9,312.1 420.5,312.4 421.2,312.5 421.8,311.3 422.5,312.3 423.1,312.8 423.8,312.0 424.5,311.2 425.1,312.2 425.8,311.6 426.4,312.5 427.1,312.5 427.7,312.6 428.4,312.3 429.1,311.2 429.7,312.9 430.4,311.3 431.0,312.8 431.7,312.4 432.3,311.8 433.0,311.9 433.7,312.1 434.3,313.1 435.0,312.0 435.6,312.8 436.3,310.8 436.9,312.4 437.6,312.1 438.2,312.9 438.9,312.5 439.6,312.9 440.2,311.7 440.9,312.4 441.5,311.9 442.2,312.6 442.8,312.5 443.5,311.5 444.2,312.8 444.8,313.2 445.5,312.0 446.1,312.9 446.8,312.5 447.4,311.7 448.1,312.7 448.8,311.8 449.4,312.6 450.1,311.4 450.7,311.5 451.4,312.5 452.0,312.4 452.7,312.7 453.4,312.1 454.0,311.6 454.7,313.0 455.3,311.7 456.0,313.0 456.6,312.7 457.3,313.2 458.0,311.1 458.6,312.2 459.3,312.1 459.9,312.6 460.6,311.7 461.2,313.4 461.9,312.2 462.6,311.0 463.2,312.4 463.9,312.2 464.5,311.9 465.2,312.7 465.8,312.2 466.5,311.7 467.1,312.1 467.8,312.0 468.5,312.4 469.1,312.1 469.8,312.2 470.4,311.4 471.1,311.8 471.7,312.4 472.4,313.6 473.1,311.8 473.7,311.8 474.4,312.7 475.0,313.3 475.7,312.9 476.3,311.7 477.0,312.8 477.7,312.5 478.3,312.1 479.0,311.6 479.6,312.2 480.3,312.3 480.9,312.5 481.6,311.3 482.3,311.7 482.9,312.3 483.6,313.0 484.2,312.7 484.9,311.9 485.5,312.6 486.2,311.8 486.9,312.0 487.5,312.1 488.2,311.9 488.8,312.0 489.5,312.7 490.1,312.4 490.8,311.0 491.5,312.9 492.1,312.5 492.8,311.7 493.4,312.3 494.1,312.7 494.7,313.0 495.4,311.9 496.1,311.7 496.7,311.5 497.4,312.2 498.0,311.7 498.7,312.8 499.3,312.1 500.0,312.6 500.6,312.1 501.3,311.8 502.0,311.7 502.6,312.8 503.3,311.5 503.9,312.5 504.6,312.8 505.2,312.3 505.9,313.0 506.6,312.2 507.2,312.1 507.9,312.3 508.5,311.9 509.2,312.4 509.8,312.2 510.5,313.0 511.2,312.2 511.8,312.7 512.5,312.5 513.1,312.3 513.8,312.1 514.4,313.1 515.1,313.1 515.8,312.4 516.4,312.0 517.1,312.0 517.7,311.8 518.4,311.5 519.0,312.0 519.7,312.3 520.4,312.8 521.0,312.8 521.7,312.5 522.3,312.1 523.0,312.1 523.6,312.2 524.3,312.3 525.0,311.9" fill="none" stroke="#7f7f7f" stroke-width="1.48" stroke-linejoin="round" clip-path="url(#cBR)"/>
<polyline points="308.2,312.1 308.9,312.1 309.5,312.1 310.2,312.5 310.8,312.8 311.5,312.0 312.1,312.0 312.8,312.4 313.5,312.5 314.1,311.0 314.8,312.7 315.4,312.4 316.1,312.1 316.7,312.9 317.4,312.2 318.1,311.3 318.7,311.7 319.4,311.9 320.0,311.9 320.7,312.2 321.3,311.7 322.0,312.3 322.6,312.5 323.3,312.2 324.0,311.7 324.6,312.1 325.3,311.9 325.9,313.3 326.6,311.6 327.2,311.0 327.9,311.5 328.6,312.4 329.2,312.7 329.9,312.1 330.5,312.8 331.2,311.8 331.8,312.5 332.5,311.7 333.2,311.5 333.8,313.4 334.5,312.1 335.1,312.6 335.8,313.0 336.4,312.6 337.1,312.4 337.8,311.7 338.4,313.1 339.1,311.7 339.7,311.1 340.4,311.9 341.0,311.9 341.7,312.2 342.4,312.9 343.0,311.9 343.7,312.0 344.3,311.8 345.0,310.8 345.6,311.8 346.3,312.0 347.0,311.4 347.6,313.0 348.3,312.9 348.9,312.4 349.6,312.6 350.2,311.9 350.9,312.4 351.6,311.3 352.2,311.4 352.9,311.8 353.5,312.5 354.2,311.9 354.8,311.8 355.5,312.8 356.1,312.0 356.8,311.9 357.5,312.1 358.1,311.4 358.8,311.6 359.4,312.7 360.1,312.2 360.7,312.7 361.4,311.9 362.1,312.7 362.7,311.7 363.4,312.0 364.0,311.7 364.7,312.3 365.3,313.0 366.0,311.3 366.7,312.3 367.3,311.5 368.0,312.0 368.6,311.9 369.3,311.2 369.9,312.1 370.6,311.5 371.3,313.1 371.9,311.8 372.6,312.4 373.2,312.3 373.9,312.2 374.5,312.1 375.2,311.3 375.9,313.3 376.5,312.2 377.2,312.6 377.8,311.6 378.5,312.5 379.1,312.0 379.8,312.5 380.4,311.9 381.1,311.7 381.8,312.5 382.4,312.2 383.1,313.0 383.7,312.1 384.4,311.8 385.0,312.5 385.7,311.6 386.4,313.4 387.0,313.3 387.7,313.0 388.3,312.5 389.0,312.2 389.6,312.3 390.3,312.3 391.0,311.8 391.6,312.5 392.3,312.9 392.9,312.9 393.6,311.1 394.2,313.5 394.9,312.3 395.6,311.4 396.2,312.0 396.9,312.7 397.5,312.2 398.2,311.8 398.8,311.6 399.5,312.7 400.2,311.8 400.8,312.1 401.5,311.6 402.1,311.5 402.8,312.4 403.4,313.0 404.1,312.0 404.8,311.3 405.4,311.9 406.1,312.1 406.7,310.9 407.4,312.8 408.0,311.7 408.7,312.6 409.4,312.2 410.0,312.2 410.7,311.4 411.3,312.8 412.0,312.5 412.6,313.1 413.3,312.0 413.9,312.5 414.6,312.0 415.3,312.8 415.9,312.4 416.6,311.7 417.2,312.3 417.9,311.9 418.5,312.0 419.2,312.4 419.9,313.1 420.5,311.7 421.2,312.1 421.8,311.7 422.5,313.3 423.1,313.1 423.8,313.4 424.5,312.7 425.1,311.7 425.8,311.9 426.4,312.3 427.1,312.2 427.7,311.8 428.4,312.4 429.1,312.0 429.7,312.2 430.4,313.4 431.0,312.5 431.7,311.5 432.3,312.5 433.0,312.3 433.7,312.6 434.3,312.5 435.0,311.6 435.6,312.4 436.3,312.8 436.9,313.9 437.6,312.6 438.2,313.3 438.9,313.2 439.6,311.8 440.2,311.9 440.9,313.3 441.5,311.8 442.2,312.0 442.8,312.7 443.5,311.8 444.2,313.1 444.8,312.9 445.5,313.0 446.1,312.8 446.8,311.8 447.4,313.0 448.1,312.9 448.8,312.8 449.4,312.1 450.1,312.4 450.7,311.8 451.4,312.6 452.0,312.9 452.7,312.5 453.4,312.2 454.0,312.8 454.7,312.1 455.3,311.3 456.0,312.6 456.6,312.2 457.3,311.5 458.0,312.6 458.6,312.7 459.3,312.8 459.9,312.0 460.6,312.0 461.2,312.3 461.9,312.2 462.6,311.6 463.2,311.8 463.9,313.0 464.5,312.3 465.2,312.2 465.8,311.9 466.5,312.4 467.1,312.6 467.8,312.5 468.5,313.2 469.1,312.3 469.8,312.6 470.4,312.0 471.1,312.8 471.7,312.5 472.4,312.8 473.1,312.8 473.7,311.9 474.4,312.5 475.0,312.0 475.7,312.9 476.3,312.2 477.0,313.2 477.7,312.5 478.3,312.5 479.0,311.9 479.6,312.2 480.3,312.4 480.9,311.8 481.6,312.2 482.3,312.0 482.9,311.8 483.6,312.3 484.2,312.4 484.9,312.1 485.5,312.5 486.2,312.1 486.9,311.7 487.5,311.8 488.2,312.5 488.8,313.0 489.5,312.3 490.1,312.3 490.8,311.7 491.5,312.5 492.1,312.4 492.8,311.9 493.4,312.5 494.1,312.4 494.7,311.3 495.4,311.5 496.1,311.9 496.7,312.1 497.4,312.8 498.0,312.0 498.7,312.2 499.3,312.1 500.0,312.5 500.6,312.3 501.3,312.4 502.0,312.1 502.6,311.5 503.3,312.1 503.9,313.2 504.6,312.8 505.2,313.1 505.9,312.7 506.6,312.0 507.2,312.0 507.9,312.6 508.5,312.1 509.2,312.7 509.8,313.0 510.5,313.0 511.2,312.7 511.8,311.5 512.5,313.0 513.1,311.6 513.8,311.5 514.4,312.4 515.1,312.3 515.8,312.6 516.4,312.3 517.1,311.9 517.7,312.3 518.4,311.7 519.0,311.6 519.7,312.1 520.4,312.1 521.0,312.3 521.7,312.1 522.3,312.9 523.0,312.0 523.6,312.2 524.3,312.7 525.0,311.1" fill="none" stroke="#bcbd22" stroke-width="1.48" stroke-linejoin="round" clip-path="url(#cBR)"/>
<polyline points="308.2,312.2 308.9,312.5 309.5,312.2 310.2,312.9 310.8,312.5 311.5,312.8 312.1,312.6 312.8,312.3 313.5,312.2 314.1,311.9 314.8,312.0 315.4,311.9 316.1,312.1 316.7,312.4 317.4,311.9 318.1,312.4 318.7,312.5 319.4,311.8 320.0,312.0 320.7,312.2 321.3,312.0 322.0,312.0 322.6,312.7 323.3,312.3 324.0,312.6 324.6,312.2 325.3,312.5 325.9,311.8 326.6,312.1 327.2,312.5 327.9,312.3 328.6,312.7 329.2,312.2 329.9,312.1 330.5,312.2 331.2,312.9 331.8,312.4 332.5,312.1 333.2,312.2 333.8,311.9 334.5,312.7 335.1,312.1 335.8,312.5 336.4,312.2 337.1,312.1 337.8,312.0 338.4,312.4 339.1,312.2 339.7,312.6 340.4,312.7 341.0,312.1 341.7,312.3 342.4,312.8 343.0,312.5 343.7,312.3 344.3,311.7 345.0,311.9 345.6,312.0 346.3,312.8 347.0,312.3 347.6,312.1 348.3,312.1 348.9,312.1 349.6,312.3 350.2,311.7 350.9,311.8 351.6,312.3 352.2,312.6 352.9,311.6 353.5,312.4 354.2,311.9 354.8,311.6 355.5,312.6 356.1,312.2 356.8,312.4 357.5,312.1 358.1,312.2 358.8,311.6 359.4,312.1 360.1,312.3 360.7,311.9 361.4,312.3 362.1,312.4 362.7,311.5 363.4,312.5 364.0,312.4 364.7,312.2 365.3,312.6 366.0,313.0 366.7,311.9 367.3,312.5 368.0,312.4 368.6,312.4 369.3,312.6 369.9,312.6 370.6,312.2 371.3,311.5 371.9,312.0 372.6,312.0 373.2,312.8 373.9,312.3 374.5,312.6 375.2,312.0 375.9,312.3 376.5,312.2 377.2,312.3 377.8,312.5 378.5,312.8 379.1,312.1 379.8,312.7 380.4,312.6 381.1,312.4 381.8,312.5 382.4,312.2 383.1,311.9 383.7,312.2 384.4,312.2 385.0,312.3 385.7,312.0 386.4,312.9 387.0,312.1 387.7,312.6 388.3,312.7 389.0,312.3 389.6,312.4 390.3,312.1 391.0,311.9 391.6,313.0 392.3,312.3 392.9,311.6 393.6,312.0 394.2,311.8 394.9,312.2 395.6,312.7 396.2,312.6 396.9,312.0 397.5,311.9 398.2,312.5 398.8,312.3 399.5,312.2 400.2,312.8 400.8,312.4 401.5,311.7 402.1,311.5 402.8,312.3 403.4,311.7 404.1,312.4 404.8,312.5 405.4,313.0 406.1,311.9 406.7,312.4 407.4,311.5 408.0,312.2 408.7,312.2 409.4,312.9 410.0,311.8 410.7,312.4 411.3,312.3 412.0,313.0 412.6,312.0 413.3,311.9 413.9,312.5 414.6,312.2 415.3,312.1 415.9,311.9 416.6,312.2 417.2,311.7 417.9,312.3 418.5,312.5 419.2,312.4 419.9,313.1 420.5,312.5 421.2,311.9 421.8,312.2 422.5,312.5 423.1,312.1 423.8,312.9 424.5,312.4 425.1,312.1 425.8,312.0 426.4,312.5 427.1,312.0 427.7,311.6 428.4,312.4 429.1,312.0 429.7,312.8 430.4,312.9 431.0,312.1 431.7,312.2 432.3,312.2 433.0,312.4 433.7,312.4 434.3,312.0 435.0,311.7 435.6,312.3 436.3,312.8 436.9,311.8 437.6,312.1 438.2,312.0 438.9,312.2 439.6,311.5 440.2,312.2 440.9,312.1 441.5,312.9 442.2,312.4 442.8,312.5 443.5,312.3 444.2,309.9 444.8,315.8 445.5,309.8 446.1,311.0 446.8,310.4 447.4,313.2 448.1,316.3 448.8,308.1 449.4,309.0 450.1,307.6 450.7,312.6 451.4,308.5 452.0,308.6 452.7,311.7 453.4,308.3 454.0,309.1 454.7,316.1 455.3,315.8 456.0,313.2 456.6,311.9 457.3,310.7 458.0,311.6 458.6,308.5 459.3,309.3 459.9,316.2 460.6,313.8 461.2,308.4 461.9,309.7 462.6,317.0 463.2,311.0 463.9,315.9 464.5,312.2 465.2,307.4 465.8,316.4 466.5,309.1 467.1,312.4 467.8,307.5 468.5,308.7 469.1,316.5 469.8,310.8 470.4,308.7 471.1,314.4 471.7,310.2 472.4,314.7 473.1,315.1 473.7,313.9 474.4,314.3 475.0,307.7 475.7,314.8 476.3,313.0 477.0,312.4 477.7,310.4 478.3,307.6 479.0,311.1 479.6,308.7 480.3,315.9 480.9,310.7 481.6,315.5 482.3,308.6 482.9,311.3 483.6,315.8 484.2,308.8 484.9,312.0 485.5,312.4 486.2,316.4 486.9,308.2 487.5,312.1 488.2,308.7 488.8,316.4 489.5,310.5 490.1,313.5 490.8,311.9 491.5,311.0 492.1,309.0 492.8,308.1 493.4,315.5 494.1,308.7 494.7,316.0 495.4,317.1 496.1,314.2 496.7,314.4 497.4,309.6 498.0,311.6 498.7,313.3 499.3,309.4 500.0,308.0 500.6,310.9 501.3,310.7 502.0,308.7 502.6,314.3 503.3,307.4 503.9,315.4 504.6,316.7 505.2,309.1 505.9,315.4 506.6,313.9 507.2,312.1 507.9,316.1 508.5,313.0 509.2,313.7 509.8,316.3 510.5,311.2 511.2,312.7 511.8,315.6 512.5,309.4 513.1,313.1 513.8,316.9 514.4,308.5 515.1,313.1 515.8,316.3 516.4,314.3 517.1,314.6 517.7,316.7 518.4,313.9 519.0,315.5 519.7,315.1 520.4,310.5 521.0,315.6 521.7,316.9 522.3,315.4 523.0,314.3 523.6,315.5 524.3,311.3 525.0,308.5" fill="none" stroke="#17becf" stroke-width="1.48" stroke-linejoin="round" clip-path="url(#cBR)"/>
<polyline points="308.2,312.2 308.7,312.2 309.3,312.2 309.8,312.1 310.4,312.1 310.9,312.1 311.5,312.0 312.0,312.0 312.5,312.0 313.1,311.9 313.6,311.9 314.2,311.9 314.7,311.9 315.2,311.9 315.8,311.8 316.3,311.8 316.9,311.8 317.4,311.8 318.0,311.8 318.5,311.8 319.0,311.8 319.6,311.8 320.1,311.8 320.7,311.8 321.2,311.8 321.7,311.8 322.3,311.9 322.8,311.9 323.4,311.9 323.9,311.9 324.5,312.0 325.0,312.0 325.5,312.0 326.1,312.0 326.6,312.1 327.2,312.1 327.7,312.1 328.2,312.2 328.8,312.2 329.3,312.2 329.9,312.3 330.4,312.3 331.0,312.3 331.5,312.4 332.0,312.4 332.6,312.4 333.1,312.5 333.7,312.5 334.2,312.5 334.8,312.6 335.3,312.6 335.8,312.6 336.4,312.6 336.9,312.6 337.5,312.6 338.0,312.7 338.5,312.7 339.1,312.7 339.6,312.7 340.2,312.7 340.7,312.7 341.3,312.7 341.8,312.7 342.3,312.6 342.9,312.6 343.4,312.6 344.0,312.6 344.5,312.6 345.0,312.6 345.6,312.5 346.1,312.5 346.7,312.5 347.2,312.4 347.8,312.4 348.3,312.4 348.8,312.3 349.4,312.3 349.9,312.3 350.5,312.2 351.0,312.2 351.6,312.2 352.1,312.1 352.6,312.1 353.2,312.1 353.7,312.0 354.3,312.0 354.8,312.0 355.3,311.9 355.9,311.9 356.4,311.9 357.0,311.9 357.5,311.9 358.1,311.8 358.6,311.8 359.1,311.8 359.7,311.8 360.2,311.8 360.8,311.8 361.3,311.8 361.8,311.8 362.4,311.8 362.9,311.8 363.5,311.8 364.0,311.8 364.6,311.9 365.1,311.9 365.6,311.9 366.2,311.9 366.7,312.0 367.3,312.0 367.8,312.0 368.3,312.0 368.9,312.1 369.4,312.1 370.0,312.1 370.5,312.2 371.1,312.2 371.6,312.2 372.1,312.3 372.7,312.3 373.2,312.4 373.8,312.4 374.3,312.4 374.9,312.4 375.4,312.5 375.9,312.5 376.5,312.5 377.0,312.6 377.6,312.6 378.1,312.6 378.6,312.6 379.2,312.6 379.7,312.7 380.3,312.7 380.8,312.7 381.4,312.7 381.9,312.7 382.4,312.7 383.0,312.7 383.5,312.7 384.1,312.7 384.6,312.6 385.1,312.6 385.7,312.6 386.2,312.6 386.8,312.6 387.3,312.5 387.9,312.5 388.4,312.5 388.9,312.5 389.5,312.4 390.0,312.4 390.6,312.4 391.1,312.3 391.6,312.3 392.2,312.3 392.7,312.2 393.3,312.2 393.8,312.2 394.4,312.1 394.9,312.1 395.4,312.1 396.0,312.0 396.5,312.0 397.1,312.0 397.6,311.9 398.2,311.9 398.7,311.9 399.2,311.9 399.8,311.9 400.3,311.8 400.9,311.8 401.4,311.8 401.9,311.8 402.5,311.8 403.0,311.8 403.6,311.8 404.1,311.8 404.7,311.8 405.2,311.8 405.7,311.8 406.3,311.8 406.8,311.9 407.4,311.9 407.9,311.9 408.4,311.9 409.0,312.0 409.5,312.0 410.1,312.0 410.6,312.0 411.2,312.1 411.7,312.1 412.2,312.1 412.8,312.2 413.3,312.2 413.9,312.3 414.4,312.3 414.9,312.3 415.5,312.4 416.0,312.4 416.6,312.4 417.1,312.5 417.7,312.5 418.2,312.5 418.7,312.5 419.3,312.6 419.8,312.6 420.4,312.6 420.9,312.6 421.5,312.6 422.0,312.7 422.5,312.7 423.1,312.7 423.6,312.7 424.2,312.7 424.7,312.7 425.2,312.7 425.8,312.7 426.3,312.7 426.9,312.6 427.4,312.6 428.0,312.6 428.5,312.6 429.0,312.6 429.6,312.5 430.1,312.5 430.7,312.5 431.2,312.5 431.7,312.4 432.3,312.4 432.8,312.4 433.4,312.3 433.9,312.3 434.5,312.3 435.0,312.2 435.5,312.2 436.1,312.2 436.6,312.1 437.2,312.1 437.7,312.1 438.2,312.0 438.8,312.0 439.3,312.0 439.9,311.9 440.4,311.9 441.0,311.9 441.5,311.9 442.0,311.9 442.6,311.8 443.1,311.8 443.7,311.8 444.2,311.8 444.8,311.8 445.3,311.8 445.8,311.8 446.4,311.8 446.9,311.8 447.5,311.8 448.0,311.8 448.5,311.9 449.1,311.9 449.6,311.9 450.2,311.9 450.7,311.9 451.3,312.0 451.8,312.0 452.3,312.0 452.9,312.1 453.4,312.1 454.0,312.1 454.5,312.2 455.0,312.2 455.6,312.2 456.1,312.3 456.7,312.3 457.2,312.3 457.8,312.4 458.3,312.4 458.8,312.4 459.4,312.5 459.9,312.5 460.5,312.5 461.0,312.5 461.6,312.6 462.1,312.6 462.6,312.6 463.2,312.6 463.7,312.6 464.3,312.7 464.8,312.7 465.3,312.7 465.9,312.7 466.4,312.7 467.0,312.7 467.5,312.7 468.1,312.7 468.6,312.7 469.1,312.6 469.7,312.6 470.2,312.6 470.8,312.6 471.3,312.6 471.8,312.5 472.4,312.5 472.9,312.5 473.5,312.5 474.0,312.4 474.6,312.4 475.1,312.4 475.6,312.3 476.2,312.3 476.7,312.3 477.3,312.2 477.8,312.2 478.3,312.2 478.9,312.1 479.4,312.1 480.0,312.1 480.5,312.0 481.1,312.0 481.6,312.0 482.1,311.9 482.7,311.9 483.2,311.9 483.8,311.9 484.3,311.9 484.9,311.8 485.4,311.8 485.9,311.8 486.5,311.8 487.0,311.8 487.6,311.8 488.1,311.8 488.6,311.8 489.2,311.8 489.7,311.8 490.3,311.8 490.8,311.9 491.4,311.9 491.9,311.9 492.4,311.9 493.0,311.9 493.5,312.0 494.1,312.0 494.6,312.0 495.1,312.1 495.7,312.1 496.2,312.1 496.8,312.2 497.3,312.2 497.9,312.2 498.4,312.3 498.9,312.3 499.5,312.3 500.0,312.4 500.6,312.4 501.1,312.4 501.6,312.5 502.2,312.5 502.7,312.5 503.3,312.5 503.8,312.6 504.4,312.6 504.9,312.6 505.4,312.6 506.0,312.6 506.5,312.7 507.1,312.7 507.6,312.7 508.2,312.7 508.7,312.7 509.2,312.7 509.8,312.7 510.3,312.7 510.9,312.7 511.4,312.6 511.9,312.6 512.5,312.6 513.0,312.6 513.6,312.6 514.1,312.5 514.7,312.5 515.2,312.5 515.7,312.5 516.3,312.4 516.8,312.4 517.4,312.4 517.9,312.3 518.4,312.3 519.0,312.3 519.5,312.2 520.1,312.2 520.6,312.1 521.2,312.1 521.7,312.1 522.2,312.0 522.8,312.0 523.3,312.0 523.9,312.0 524.4,311.9 525.0,311.9" fill="none" stroke="#1f77b4" stroke-width="1.48" stroke-linejoin="round" clip-path="url(#cBR)"/>
<polyline points="308.2,312.2 308.7,312.2 309.3,312.2 309.8,312.2 310.4,312.2 310.9,312.2 311.5,312.2 312.0,312.2 312.5,312.2 313.1,312.2 313.6,312.3 314.2,312.3 314.7,312.3 315.2,312.3 315.8,312.3 316.3,312.3 316.9,312.3 317.4,312.3 318.0,312.3 318.5,312.4 319.0,312.4 319.6,312.4 320.1,312.4 320.7,312.4 321.2,312.4 321.7,312.4 322.3,312.5 322.8,312.5 323.4,312.5 323.9,312.5 324.5,312.5 325.0,312.5 325.5,312.5 326.1,312.5 326.6,312.5 327.2,312.5 327.7,312.5 328.2,312.5 328.8,312.4 329.3,312.4 329.9,312.4 330.4,312.4 331.0,312.4 331.5,312.3 332.0,312.3 332.6,312.3 333.1,312.3 333.7,312.2 334.2,312.2 334.8,312.2 335.3,312.1 335.8,312.1 336.4,312.1 336.9,312.0 337.5,312.0 338.0,312.0 338.5,311.9 339.1,311.9 339.6,311.9 340.2,311.8 340.7,311.8 341.3,311.8 341.8,311.8 342.3,311.7 342.9,311.7 343.4,311.7 344.0,311.7 344.5,311.7 345.0,311.7 345.6,311.7 346.1,311.7 346.7,311.7 347.2,311.7 347.8,311.7 348.3,311.7 348.8,311.8 349.4,311.8 349.9,311.8 350.5,311.9 351.0,311.9 351.6,311.9 352.1,312.0 352.6,312.0 353.2,312.1 353.7,312.1 354.3,312.2 354.8,312.3 355.3,312.3 355.9,312.4 356.4,312.4 357.0,312.5 357.5,312.5 358.1,312.6 358.6,312.7 359.1,312.7 359.7,312.8 360.2,312.8 360.8,312.9 361.3,312.9 361.8,312.9 362.4,313.0 362.9,313.0 363.5,313.0 364.0,313.1 364.6,313.1 365.1,313.1 365.6,313.1 366.2,313.1 366.7,313.1 367.3,313.1 367.8,313.1 368.3,313.1 368.9,313.0 369.4,313.0 370.0,313.0 370.5,312.9 371.1,312.9 371.6,312.8 372.1,312.7 372.7,312.7 373.2,312.6 373.8,312.5 374.3,312.5 374.9,312.4 375.4,312.3 375.9,312.2 376.5,312.1 377.0,312.1 377.6,312.0 378.1,311.9 378.6,311.8 379.2,311.7 379.7,311.6 380.3,311.6 380.8,311.5 381.4,311.4 381.9,311.4 382.4,311.3 383.0,311.3 383.5,311.2 384.1,311.2 384.6,311.2 385.1,311.2 385.7,311.2 386.2,311.1 386.8,311.1 387.3,311.2 387.9,311.2 388.4,311.2 388.9,311.2 389.5,311.3 390.0,311.3 390.6,311.4 391.1,311.4 391.6,311.5 392.2,311.5 392.7,311.6 393.3,311.7 393.8,311.8 394.4,311.8 394.9,311.9 395.4,312.0 396.0,312.1 396.5,312.2 397.1,312.3 397.6,312.4 398.2,312.4 398.7,312.5 399.2,312.6 399.8,312.7 400.3,312.8 400.9,312.8 401.4,312.9 401.9,313.0 402.5,313.0 403.0,313.1 403.6,313.2 404.1,313.2 404.7,313.2 405.2,313.3 405.7,313.3 406.3,313.3 406.8,313.3 407.4,313.3 407.9,313.3 408.4,313.3 409.0,313.3 409.5,313.3 410.1,313.3 410.6,313.2 411.2,313.2 411.7,313.1 412.2,313.1 412.8,313.0 413.3,312.9 413.9,312.9 414.4,312.8 414.9,312.7 415.5,312.6 416.0,312.6 416.6,312.5 417.1,312.4 417.7,312.3 418.2,312.2 418.7,312.1 419.3,312.0 419.8,311.9 420.4,311.9 420.9,311.8 421.5,311.7 422.0,311.6 422.5,311.6 423.1,311.5 423.6,311.4 424.2,311.4 424.7,311.3 425.2,311.3 425.8,311.2 426.3,311.2 426.9,311.2 427.4,311.2 428.0,311.2 428.5,311.1 429.0,311.1 429.6,311.2 430.1,311.2 430.7,311.2 431.2,311.2 431.7,311.3 432.3,311.3 432.8,311.4 433.4,311.4 433.9,311.5 434.5,311.5 435.0,311.6 435.5,311.7 436.1,311.8 436.6,311.8 437.2,311.9 437.7,312.0 438.2,312.1 438.8,312.2 439.3,312.3 439.9,312.4 440.4,312.5 441.0,312.5 441.5,312.6 442.0,312.7 442.6,312.8 443.1,312.9 443.7,312.9 444.2,313.0 444.8,313.1 445.3,313.1 445.8,313.2 446.4,313.2 446.9,313.2 447.5,313.3 448.0,313.3 448.5,313.3 449.1,313.3 449.6,313.3 450.2,313.3 450.7,313.3 451.3,313.3 451.8,313.3 452.3,313.2 452.9,313.2 453.4,313.2 454.0,313.1 454.5,313.1 455.0,313.0 455.6,312.9 456.1,312.9 456.7,312.8 457.2,312.7 457.8,312.6 458.3,312.5 458.8,312.5 459.4,312.4 459.9,312.3 460.5,312.2 461.0,312.1 461.6,312.0 462.1,311.9 462.6,311.9 463.2,311.8 463.7,311.7 464.3,311.6 464.8,311.5 465.3,311.5 465.9,311.4 466.4,311.4 467.0,311.3 467.5,311.3 468.1,311.2 468.6,311.2 469.1,311.2 469.7,311.2 470.2,311.2 470.8,311.1 471.3,311.2 471.8,311.2 472.4,311.2 472.9,311.2 473.5,311.2 474.0,311.3 474.6,311.3 475.1,311.4 475.6,311.4 476.2,311.5 476.7,311.6 477.3,311.6 477.8,311.7 478.3,311.8 478.9,311.9 479.4,311.9 480.0,312.0 480.5,312.1 481.1,312.2 481.6,312.3 482.1,312.4 482.7,312.5 483.2,312.6 483.8,312.6 484.3,312.7 484.9,312.8 485.4,312.9 485.9,312.9 486.5,313.0 487.0,313.1 487.6,313.1 488.1,313.2 488.6,313.2 489.2,313.2 489.7,313.3 490.3,313.3 490.8,313.3 491.4,313.3 491.9,313.3 492.4,313.3 493.0,313.3 493.5,313.3 494.1,313.3 494.6,313.2 495.1,313.2 495.7,313.2 496.2,313.1 496.8,313.1 497.3,313.0 497.9,312.9 498.4,312.9 498.9,312.8 499.5,312.7 500.0,312.6 500.6,312.5 501.1,312.4 501.6,312.4 502.2,312.3 502.7,312.2 503.3,312.1 503.8,312.0 504.4,311.9 504.9,311.8 505.4,311.8 506.0,311.7 506.5,311.6 507.1,311.5 507.6,311.5 508.2,311.4 508.7,311.4 509.2,311.3 509.8,311.3 510.3,311.2 510.9,311.2 511.4,311.2 511.9,311.2 512.5,311.1 513.0,311.1 513.6,311.2 514.1,311.2 514.7,311.2 515.2,311.2 515.7,311.2 516.3,311.3 516.8,311.3 517.4,311.4 517.9,311.4 518.4,311.5 519.0,311.6 519.5,311.6 520.1,311.7 520.6,311.8 521.2,311.9 521.7,312.0 522.2,312.0 522.8,312.1 523.3,312.2 523.9,312.3 524.4,312.4 525.0,312.5" fill="none" stroke="#ff7f0e" stroke-width="1.48" stroke-linejoin="round" clip-path="url(#cBR)"/>
<polyline points="308.2,312.2 311.8,311.9" fill="none" stroke="#2ca02c" stroke-width="1.48" stroke-linejoin="round" clip-path="url(#cBR)"/>
<polyline points="308.2,312.2 311.8,312.6" fill="none" stroke="#d62728" stroke-width="1.48" stroke-linejoin="round" clip-path="url(#cBR)"/>
<polyline points="308.2,312.2 311.8,313.3" fill="none" stroke="#9467bd" stroke-width="1.48" stroke-linejoin="round" clip-path="url(#cBR)"/>
<rect x="308.20" y="202.94" width="216.75" height="218.60" fill="none" stroke="#000" stroke-width="0.79"/>
<line x1="308.20" y1="421.54" x2="308.20" y2="424.99" stroke="#000" stroke-width="0.79"/>
<text x="300.55" y="436.05" font-family="Liberation Serif" font-size="11.33" textLength="15.30" lengthAdjust="spacingAndGlyphs">0.0</text>
<line x1="344.32" y1="421.54" x2="344.32" y2="424.99" stroke="#000" stroke-width="0.79"/>
<text x="336.68" y="436.05" font-family="Liberation Serif" font-size="11.33" textLength="15.23" lengthAdjust="spacingAndGlyphs">0.5</text>
<line x1="380.45" y1="421.54" x2="380.45" y2="424.99" stroke="#000" stroke-width="0.79"/>
<text x="372.75" y="436.05" font-family="Liberation Serif" font-size="11.33" textLength="15.35" lengthAdjust="spacingAndGlyphs">1.0</text>
<line x1="416.58" y1="421.54" x2="416.58" y2="424.99" stroke="#000" stroke-width="0.79"/>
<text x="408.88" y="436.05" font-family="Liberation Serif" font-size="11.33" textLength="15.27" lengthAdjust="spacingAndGlyphs">1.5</text>
<line x1="452.70" y1="421.54" x2="452.70" y2="424.99" stroke="#000" stroke-width="0.79"/>
<text x="445.01" y="436.05" font-family="Liberation Serif" font-size="11.33" textLength="15.34" lengthAdjust="spacingAndGlyphs">2.0</text>
<line x1="488.83" y1="421.54" x2="488.83" y2="424.99" stroke="#000" stroke-width="0.79"/>
<text x="481.14" y="436.05" font-family="Liberation Serif" font-size="11.33" textLength="15.27" lengthAdjust="spacingAndGlyphs">2.5</text>
<line x1="524.95" y1="421.54" x2="524.95" y2="424.99" stroke="#000" stroke-width="0.79"/>
<text x="517.27" y="436.05" font-family="Liberation Serif" font-size="11.33" textLength="15.32" lengthAdjust="spacingAndGlyphs">3.0</text>
<line x1="304.75" y1="421.54" x2="308.20" y2="421.54" stroke="#000" stroke-width="0.79"/>
<text x="271.22" y="425.54" font-family="Liberation Serif" font-size="11.33" textLength="29.60" lengthAdjust="spacingAndGlyphs">−1.00</text>
<line x1="304.75" y1="394.22" x2="308.20" y2="394.22" stroke="#000" stroke-width="0.79"/>
<text x="271.32" y="398.22" font-family="Liberation Serif" font-size="11.33" textLength="29.53" lengthAdjust="spacingAndGlyphs">−0.75</text>
<line x1="304.75" y1="366.89" x2="308.20" y2="366.89" stroke="#000" stroke-width="0.79"/>
<text x="271.22" y="370.89" font-family="Liberation Serif" font-size="11.33" textLength="29.60" lengthAdjust="spacingAndGlyphs">−0.50</text>
<line x1="304.75" y1="339.56" x2="308.20" y2="339.56" stroke="#000" stroke-width="0.79"/>
<text x="271.32" y="343.56" font-family="Liberation Serif" font-size="11.33" textLength="29.53" lengthAdjust="spacingAndGlyphs">−0.25</text>
<line x1="304.75" y1="312.24" x2="308.20" y2="312.24" stroke="#000" stroke-width="0.79"/>
<text x="279.25" y="316.24" font-family="Liberation Serif" font-size="11.33" textLength="21.56" lengthAdjust="spacingAndGlyphs">0.00</text>
<line x1="304.75" y1="284.92" x2="308.20" y2="284.92" stroke="#000" stroke-width="0.79"/>
<text x="279.35" y="288.92" font-family="Liberation Serif" font-size="11.33" textLength="21.49" lengthAdjust="spacingAndGlyphs">0.25</text>
<line x1="304.75" y1="257.59" x2="308.20" y2="257.59" stroke="#000" stroke-width="0.79"/>
<text x="279.25" y="261.59" font-family="Liberation Serif" font-size="11.33" textLength="21.56" lengthAdjust="spacingAndGlyphs">0.50</text>
<line x1="304.75" y1="230.26" x2="308.20" y2="230.26" stroke="#000" stroke-width="0.79"/>
<text x="279.35" y="234.26" font-family="Liberation Serif" font-size="11.33" textLength="21.49" lengthAdjust="spacingAndGlyphs">0.75</text>
<line x1="304.75" y1="202.94" x2="308.20" y2="202.94" stroke="#000" stroke-width="0.79"/>
<text x="279.20" y="206.94" font-family="Liberation Serif" font-size="11.33" textLength="21.61" lengthAdjust="spacingAndGlyphs">1.00</text>
<text x="308.05" y="200.20" font-family="Liberation Serif" font-size="11.33" textLength="26.33" lengthAdjust="spacingAndGlyphs">1e−5</text>
<text x="70.45" y="9.10" font-family="Liberation Serif" font-size="12.86" textLength="148.36" lengthAdjust="spacingAndGlyphs" class="ti">Emission/absorption test</text>
<text x="400.63" y="9.10" font-family="Liberation Serif" font-size="12.86" textLength="32.52" lengthAdjust="spacingAndGlyphs" class="ti">Error</text>
<text x="106.11" y="197.05" font-family="Liberation Serif" font-size="12.86" textLength="77.03" lengthAdjust="spacingAndGlyphs" class="ti">Rotation test</text>
<text x="400.63" y="197.05" font-family="Liberation Serif" font-size="12.86" textLength="32.52" lengthAdjust="spacingAndGlyphs" class="ti">Error</text>
<text x="141.25" y="449.90" font-family="Liberation Serif" font-size="10.96" textLength="5.67" lengthAdjust="spacingAndGlyphs" style="font-style:italic;">λ</text>
<text x="413.46" y="449.90" font-family="Liberation Serif" font-size="10.96" textLength="5.67" lengthAdjust="spacingAndGlyphs" style="font-style:italic;">λ</text>
<rect x="530.00" y="20.35" width="106.40" height="147.15" rx="2" ry="2" fill="#fff" fill-opacity="0.8" stroke="#cccccc" stroke-width="0.98"/>
<line x1="533.0" y1="27.90" x2="554.3" y2="27.90" stroke="#1f77b4" stroke-width="1.48"/>
<text x="561.09" y="31.65" font-family="Liberation Mono" font-size="11.33" textLength="35.95" lengthAdjust="spacingAndGlyphs">RAPTOR</text>
<text x="597.34" y="31.65" font-family="Liberation Serif" font-size="11.33" textLength="30.49" lengthAdjust="spacingAndGlyphs" xml:space="preserve"> RK4 I</text>
<line x1="533.0" y1="42.38" x2="554.3" y2="42.38" stroke="#ff7f0e" stroke-width="1.48"/>
<text x="561.09" y="46.12" font-family="Liberation Mono" font-size="11.33" textLength="35.95" lengthAdjust="spacingAndGlyphs">RAPTOR</text>
<text x="597.38" y="46.12" font-family="Liberation Serif" font-size="11.33" textLength="34.43" lengthAdjust="spacingAndGlyphs" xml:space="preserve"> RK4 Q</text>
<line x1="533.0" y1="56.85" x2="554.3" y2="56.85" stroke="#2ca02c" stroke-width="1.48"/>
<text x="561.09" y="60.60" font-family="Liberation Mono" font-size="11.33" textLength="35.95" lengthAdjust="spacingAndGlyphs">RAPTOR</text>
<text x="597.12" y="60.60" font-family="Liberation Serif" font-size="11.33" textLength="20.74" lengthAdjust="spacingAndGlyphs" xml:space="preserve"> IE I</text>
<line x1="533.0" y1="71.32" x2="554.3" y2="71.32" stroke="#d62728" stroke-width="1.48"/>
<text x="561.09" y="75.07" font-family="Liberation Mono" font-size="11.33" textLength="35.95" lengthAdjust="spacingAndGlyphs">RAPTOR</text>
<text x="597.21" y="75.07" font-family="Liberation Serif" font-size="11.33" textLength="24.62" lengthAdjust="spacingAndGlyphs" xml:space="preserve"> IE Q</text>
<line x1="533.0" y1="85.80" x2="554.3" y2="85.80" stroke="#9467bd" stroke-width="1.48"/>
<text x="561.27" y="89.55" font-family="Liberation Mono" font-size="11.33" textLength="41.38" lengthAdjust="spacingAndGlyphs">Odyssey</text>
<text x="603.33" y="89.55" font-family="Liberation Serif" font-size="11.33" textLength="6.23" lengthAdjust="spacingAndGlyphs" xml:space="preserve"> I</text>
<line x1="533.0" y1="100.28" x2="554.3" y2="100.28" stroke="#8c564b" stroke-width="1.48"/>
<text x="561.27" y="104.03" font-family="Liberation Mono" font-size="11.33" textLength="41.38" lengthAdjust="spacingAndGlyphs">Odyssey</text>
<text x="603.33" y="104.03" font-family="Liberation Serif" font-size="11.33" textLength="10.22" lengthAdjust="spacingAndGlyphs" xml:space="preserve"> Q</text>
<line x1="533.0" y1="114.75" x2="554.3" y2="114.75" stroke="#e377c2" stroke-width="1.48"/>
<text x="561.37" y="118.50" font-family="Liberation Mono" font-size="11.33" textLength="29.53" lengthAdjust="spacingAndGlyphs">ipole</text>
<text x="591.47" y="118.50" font-family="Liberation Serif" font-size="11.33" textLength="6.23" lengthAdjust="spacingAndGlyphs" xml:space="preserve"> I</text>
<line x1="533.0" y1="129.22" x2="554.3" y2="129.22" stroke="#7f7f7f" stroke-width="1.48"/>
<text x="561.37" y="132.97" font-family="Liberation Mono" font-size="11.33" textLength="29.53" lengthAdjust="spacingAndGlyphs">ipole</text>
<text x="591.47" y="132.97" font-family="Liberation Serif" font-size="11.33" textLength="10.22" lengthAdjust="spacingAndGlyphs" xml:space="preserve"> Q</text>
<line x1="533.0" y1="143.70" x2="554.3" y2="143.70" stroke="#bcbd22" stroke-width="1.48"/>
<text x="561.37" y="147.45" font-family="Liberation Mono" font-size="11.33" textLength="47.47" lengthAdjust="spacingAndGlyphs">ipole-IL</text>
<text x="609.26" y="147.45" font-family="Liberation Serif" font-size="11.33" textLength="6.23" lengthAdjust="spacingAndGlyphs" xml:space="preserve"> I</text>
<line x1="533.0" y1="158.18" x2="554.3" y2="158.18" stroke="#17becf" stroke-width="1.48"/>
<text x="561.37" y="161.93" font-family="Liberation Mono" font-size="11.33" textLength="47.47" lengthAdjust="spacingAndGlyphs">ipole-IL</text>
<text x="609.26" y="161.93" font-family="Liberation Serif" font-size="11.33" textLength="10.22" lengthAdjust="spacingAndGlyphs" xml:space="preserve"> Q</text>
<rect x="530.00" y="207.90" width="106.40" height="220.00" rx="2" ry="2" fill="#fff" fill-opacity="0.8" stroke="#cccccc" stroke-width="0.98"/>
<line x1="533.0" y1="215.80" x2="554.3" y2="215.80" stroke="#1f77b4" stroke-width="1.48"/>
<text x="561.09" y="219.55" font-family="Liberation Mono" font-size="11.33" textLength="35.95" lengthAdjust="spacingAndGlyphs">RAPTOR</text>
<text x="597.38" y="219.55" font-family="Liberation Serif" font-size="11.33" textLength="34.43" lengthAdjust="spacingAndGlyphs" xml:space="preserve"> RK4 Q</text>
<line x1="533.0" y1="230.28" x2="554.3" y2="230.28" stroke="#ff7f0e" stroke-width="1.48"/>
<text x="561.09" y="234.03" font-family="Liberation Mono" font-size="11.33" textLength="35.95" lengthAdjust="spacingAndGlyphs">RAPTOR</text>
<text x="597.35" y="234.03" font-family="Liberation Serif" font-size="11.33" textLength="34.81" lengthAdjust="spacingAndGlyphs" xml:space="preserve"> RK4 U</text>
<line x1="533.0" y1="244.75" x2="554.3" y2="244.75" stroke="#2ca02c" stroke-width="1.48"/>
<text x="561.09" y="248.50" font-family="Liberation Mono" font-size="11.33" textLength="35.95" lengthAdjust="spacingAndGlyphs">RAPTOR</text>
<text x="597.39" y="248.50" font-family="Liberation Serif" font-size="11.33" textLength="34.11" lengthAdjust="spacingAndGlyphs" xml:space="preserve"> RK4 V</text>
<line x1="533.0" y1="259.23" x2="554.3" y2="259.23" stroke="#d62728" stroke-width="1.48"/>
<text x="561.09" y="262.98" font-family="Liberation Mono" font-size="11.33" textLength="35.95" lengthAdjust="spacingAndGlyphs">RAPTOR</text>
<text x="597.21" y="262.98" font-family="Liberation Serif" font-size="11.33" textLength="24.62" lengthAdjust="spacingAndGlyphs" xml:space="preserve"> IE Q</text>
<line x1="533.0" y1="273.70" x2="554.3" y2="273.70" stroke="#9467bd" stroke-width="1.48"/>
<text x="561.09" y="277.45" font-family="Liberation Mono" font-size="11.33" textLength="35.95" lengthAdjust="spacingAndGlyphs">RAPTOR</text>
<text x="597.16" y="277.45" font-family="Liberation Serif" font-size="11.33" textLength="25.03" lengthAdjust="spacingAndGlyphs" xml:space="preserve"> IE U</text>
<line x1="533.0" y1="288.18" x2="554.3" y2="288.18" stroke="#8c564b" stroke-width="1.48"/>
<text x="561.09" y="291.93" font-family="Liberation Mono" font-size="11.33" textLength="35.95" lengthAdjust="spacingAndGlyphs">RAPTOR</text>
<text x="597.23" y="291.93" font-family="Liberation Serif" font-size="11.33" textLength="24.30" lengthAdjust="spacingAndGlyphs" xml:space="preserve"> IE V</text>
<line x1="533.0" y1="302.65" x2="554.3" y2="302.65" stroke="#e377c2" stroke-width="1.48"/>
<text x="561.27" y="306.40" font-family="Liberation Mono" font-size="11.33" textLength="41.38" lengthAdjust="spacingAndGlyphs">Odyssey</text>
<text x="603.33" y="306.40" font-family="Liberation Serif" font-size="11.33" textLength="10.22" lengthAdjust="spacingAndGlyphs" xml:space="preserve"> Q</text>
<line x1="533.0" y1="317.12" x2="554.3" y2="317.12" stroke="#7f7f7f" stroke-width="1.48"/>
<text x="561.27" y="320.88" font-family="Liberation Mono" font-size="11.33" textLength="41.38" lengthAdjust="spacingAndGlyphs">Odyssey</text>
<text x="603.39" y="320.88" font-family="Liberation Serif" font-size="11.33" textLength="10.52" lengthAdjust="spacingAndGlyphs" xml:space="preserve"> U</text>
<line x1="533.0" y1="331.60" x2="554.3" y2="331.60" stroke="#bcbd22" stroke-width="1.48"/>
<text x="561.27" y="335.35" font-family="Liberation Mono" font-size="11.33" textLength="41.38" lengthAdjust="spacingAndGlyphs">Odyssey</text>
<text x="603.19" y="335.35" font-family="Liberation Serif" font-size="11.33" textLength="10.04" lengthAdjust="spacingAndGlyphs" xml:space="preserve"> V</text>
<line x1="533.0" y1="346.08" x2="554.3" y2="346.08" stroke="#17becf" stroke-width="1.48"/>
<text x="561.37" y="349.83" font-family="Liberation Mono" font-size="11.33" textLength="29.53" lengthAdjust="spacingAndGlyphs">ipole</text>
<text x="591.47" y="349.83" font-family="Liberation Serif" font-size="11.33" textLength="10.22" lengthAdjust="spacingAndGlyphs" xml:space="preserve"> Q</text>
<line x1="533.0" y1="360.55" x2="554.3" y2="360.55" stroke="#1f77b4" stroke-width="1.48"/>
<text x="561.37" y="364.30" font-family="Liberation Mono" font-size="11.33" textLength="29.53" lengthAdjust="spacingAndGlyphs">ipole</text>
<text x="591.52" y="364.30" font-family="Liberation Serif" font-size="11.33" textLength="10.52" lengthAdjust="spacingAndGlyphs" xml:space="preserve"> U</text>
<line x1="533.0" y1="375.02" x2="554.3" y2="375.02" stroke="#ff7f0e" stroke-width="1.48"/>
<text x="561.37" y="378.77" font-family="Liberation Mono" font-size="11.33" textLength="29.53" lengthAdjust="spacingAndGlyphs">ipole</text>
<text x="591.33" y="378.77" font-family="Liberation Serif" font-size="11.33" textLength="10.04" lengthAdjust="spacingAndGlyphs" xml:space="preserve"> V</text>
<line x1="533.0" y1="389.50" x2="554.3" y2="389.50" stroke="#2ca02c" stroke-width="1.48"/>
<text x="561.37" y="393.25" font-family="Liberation Mono" font-size="11.33" textLength="47.47" lengthAdjust="spacingAndGlyphs">ipole-IL</text>
<text x="609.26" y="393.25" font-family="Liberation Serif" font-size="11.33" textLength="10.22" lengthAdjust="spacingAndGlyphs" xml:space="preserve"> Q</text>
<line x1="533.0" y1="403.98" x2="554.3" y2="403.98" stroke="#d62728" stroke-width="1.48"/>
<text x="561.37" y="407.73" font-family="Liberation Mono" font-size="11.33" textLength="47.47" lengthAdjust="spacingAndGlyphs">ipole-IL</text>
<text x="609.32" y="407.73" font-family="Liberation Serif" font-size="11.33" textLength="10.52" lengthAdjust="spacingAndGlyphs" xml:space="preserve"> U</text>
<line x1="533.0" y1="418.45" x2="554.3" y2="418.45" stroke="#9467bd" stroke-width="1.48"/>
<text x="561.37" y="422.20" font-family="Liberation Mono" font-size="11.33" textLength="47.47" lengthAdjust="spacingAndGlyphs">ipole-IL</text>
<text x="609.12" y="422.20" font-family="Liberation Serif" font-size="11.33" textLength="10.04" lengthAdjust="spacingAndGlyphs" xml:space="preserve"> V</text></svg></body></html>
